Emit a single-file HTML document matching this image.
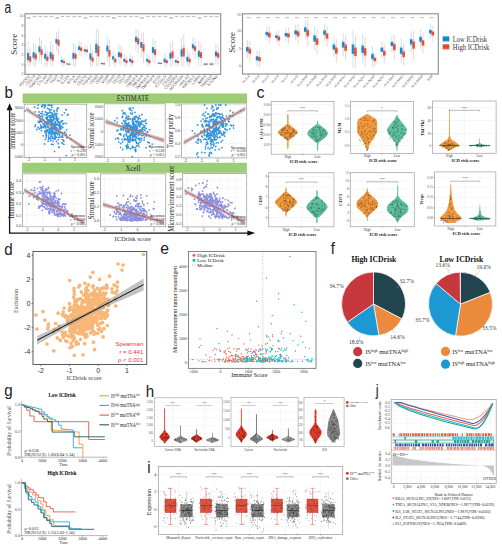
<!DOCTYPE html>
<html><head><meta charset="utf-8"><style>
html,body{margin:0;padding:0;background:#fff;width:502px;height:550px;overflow:hidden}
svg{display:block}
</style></head><body>
<svg width="502" height="550" viewBox="0 0 502 550" shape-rendering="auto">
<rect width="502" height="550" fill="#fff"/>
<text transform="translate(4.6 12.9) scale(0.75 1)" font-size="16" font-family="'Liberation Sans',sans-serif" fill="#222">a</text>
<text transform="translate(4.6 97.6) scale(0.95 1)" font-size="16" font-family="'Liberation Sans',sans-serif" fill="#222">b</text>
<text transform="translate(256.4 98) scale(1.0 1)" font-size="16" font-family="'Liberation Sans',sans-serif" fill="#222">c</text>
<text transform="translate(4.2 255) scale(0.95 1)" font-size="16" font-family="'Liberation Sans',sans-serif" fill="#222">d</text>
<text transform="translate(160.2 254.2) scale(0.98 1)" font-size="16" font-family="'Liberation Sans',sans-serif" fill="#222">e</text>
<text transform="translate(330.8 253.6) scale(0.95 1)" font-size="16" font-family="'Liberation Sans',sans-serif" fill="#222">f</text>
<text transform="translate(4.2 396) scale(0.95 1)" font-size="16" font-family="'Liberation Sans',sans-serif" fill="#222">g</text>
<text transform="translate(145.8 396.8) scale(0.95 1)" font-size="16" font-family="'Liberation Sans',sans-serif" fill="#222">h</text>
<text transform="translate(147.3 473) scale(0.95 1)" font-size="16" font-family="'Liberation Sans',sans-serif" fill="#222">i</text>
<text transform="translate(375.8 396) scale(0.8 1)" font-size="16" font-family="'Liberation Sans',sans-serif" fill="#222">j</text>
<rect x="25" y="13.8" width="195.7" height="60.5" fill="#fff" stroke="#8c8c8c" stroke-width="1.1"/>
<line x1="23.8" y1="16.1" x2="25" y2="16.1" stroke="#777" stroke-width="0.5"/>
<text x="23.2" y="17.1" font-size="3" font-family="'Liberation Sans',sans-serif" fill="#555" text-anchor="end">10</text>
<line x1="23.8" y1="25.8" x2="25" y2="25.8" stroke="#777" stroke-width="0.5"/>
<text x="23.2" y="26.8" font-size="3" font-family="'Liberation Sans',sans-serif" fill="#555" text-anchor="end">8</text>
<line x1="23.8" y1="35.5" x2="25" y2="35.5" stroke="#777" stroke-width="0.5"/>
<text x="23.2" y="36.5" font-size="3" font-family="'Liberation Sans',sans-serif" fill="#555" text-anchor="end">6</text>
<line x1="23.8" y1="45.2" x2="25" y2="45.2" stroke="#777" stroke-width="0.5"/>
<text x="23.2" y="46.2" font-size="3" font-family="'Liberation Sans',sans-serif" fill="#555" text-anchor="end">4</text>
<line x1="23.8" y1="54.9" x2="25" y2="54.9" stroke="#777" stroke-width="0.5"/>
<text x="23.2" y="55.9" font-size="3" font-family="'Liberation Sans',sans-serif" fill="#555" text-anchor="end">2</text>
<line x1="23.8" y1="64.6" x2="25" y2="64.6" stroke="#777" stroke-width="0.5"/>
<text x="23.2" y="65.6" font-size="3" font-family="'Liberation Sans',sans-serif" fill="#555" text-anchor="end">0</text>
<line x1="23.8" y1="74.3" x2="25" y2="74.3" stroke="#777" stroke-width="0.5"/>
<text x="23.2" y="75.3" font-size="3" font-family="'Liberation Sans',sans-serif" fill="#555" text-anchor="end">-2</text>
<line x1="28" y1="41.2" x2="28" y2="66.5" stroke="#9fd0f0" stroke-width="0.6"/>
<rect x="26.8" y="50.7" width="2.5" height="11.7" fill="#9fd0f0" stroke="none" stroke-width="1" opacity="0.18"/>
<line x1="30.1" y1="47.7" x2="30.1" y2="66.5" stroke="#f7b3a6" stroke-width="0.6"/>
<rect x="28.9" y="54.7" width="2.5" height="8.6" fill="#f7b3a6" stroke="none" stroke-width="1" opacity="0.18"/>
<rect x="27" y="52.9" width="2.1" height="7.3" fill="#1f8fd6" stroke="none" stroke-width="1"/>
<rect x="29.1" y="56.3" width="2.1" height="5.4" fill="#f0553c" stroke="none" stroke-width="1"/>
<line x1="27" y1="56.5" x2="29.1" y2="56.5" stroke="#0d5e99" stroke-width="0.4"/>
<line x1="29.1" y1="59" x2="31.2" y2="59" stroke="#a02a18" stroke-width="0.4"/>
<line x1="33.6" y1="42.9" x2="33.6" y2="66.5" stroke="#9fd0f0" stroke-width="0.6"/>
<rect x="32.4" y="50.5" width="2.5" height="9.3" fill="#9fd0f0" stroke="none" stroke-width="1" opacity="0.18"/>
<line x1="35.7" y1="44.4" x2="35.7" y2="66.5" stroke="#f7b3a6" stroke-width="0.6"/>
<rect x="34.5" y="52" width="2.5" height="9.3" fill="#f7b3a6" stroke="none" stroke-width="1" opacity="0.18"/>
<rect x="32.6" y="52.2" width="2.1" height="5.8" fill="#1f8fd6" stroke="none" stroke-width="1"/>
<rect x="34.7" y="53.7" width="2.1" height="5.8" fill="#f0553c" stroke="none" stroke-width="1"/>
<line x1="32.6" y1="55.1" x2="34.7" y2="55.1" stroke="#0d5e99" stroke-width="0.4"/>
<line x1="34.7" y1="56.6" x2="36.8" y2="56.6" stroke="#a02a18" stroke-width="0.4"/>
<line x1="39.5" y1="37.1" x2="39.5" y2="61.5" stroke="#9fd0f0" stroke-width="0.6"/>
<rect x="38.2" y="44.7" width="2.5" height="9.3" fill="#9fd0f0" stroke="none" stroke-width="1" opacity="0.18"/>
<line x1="41.5" y1="40" x2="41.5" y2="64.4" stroke="#f7b3a6" stroke-width="0.6"/>
<rect x="40.3" y="47.6" width="2.5" height="9.3" fill="#f7b3a6" stroke="none" stroke-width="1" opacity="0.18"/>
<rect x="38.4" y="46.4" width="2.1" height="5.8" fill="#1f8fd6" stroke="none" stroke-width="1"/>
<rect x="40.5" y="49.3" width="2.1" height="5.8" fill="#f0553c" stroke="none" stroke-width="1"/>
<line x1="38.4" y1="49.3" x2="40.5" y2="49.3" stroke="#0d5e99" stroke-width="0.4"/>
<line x1="40.5" y1="52.2" x2="42.6" y2="52.2" stroke="#a02a18" stroke-width="0.4"/>
<line x1="45.2" y1="45.5" x2="45.2" y2="66.5" stroke="#9fd0f0" stroke-width="0.6"/>
<rect x="44" y="52.2" width="2.5" height="8.2" fill="#9fd0f0" stroke="none" stroke-width="1" opacity="0.18"/>
<line x1="47.3" y1="49.6" x2="47.3" y2="66.5" stroke="#f7b3a6" stroke-width="0.6"/>
<rect x="46.1" y="55.3" width="2.5" height="7" fill="#f7b3a6" stroke="none" stroke-width="1" opacity="0.18"/>
<rect x="44.2" y="53.7" width="2.1" height="5.1" fill="#1f8fd6" stroke="none" stroke-width="1"/>
<rect x="46.3" y="56.6" width="2.1" height="4.4" fill="#f0553c" stroke="none" stroke-width="1"/>
<line x1="44.2" y1="56.2" x2="46.3" y2="56.2" stroke="#0d5e99" stroke-width="0.4"/>
<line x1="46.3" y1="58.8" x2="48.4" y2="58.8" stroke="#a02a18" stroke-width="0.4"/>
<line x1="50.6" y1="41.6" x2="50.6" y2="66.5" stroke="#9fd0f0" stroke-width="0.6"/>
<rect x="49.4" y="50.2" width="2.5" height="10.6" fill="#9fd0f0" stroke="none" stroke-width="1" opacity="0.18"/>
<line x1="52.7" y1="44.5" x2="52.7" y2="66.5" stroke="#f7b3a6" stroke-width="0.6"/>
<rect x="51.5" y="52.5" width="2.5" height="9.9" fill="#f7b3a6" stroke="none" stroke-width="1" opacity="0.18"/>
<rect x="49.6" y="52.2" width="2.1" height="6.6" fill="#1f8fd6" stroke="none" stroke-width="1"/>
<rect x="51.7" y="54.4" width="2.1" height="6.2" fill="#f0553c" stroke="none" stroke-width="1"/>
<line x1="49.6" y1="55.5" x2="51.7" y2="55.5" stroke="#0d5e99" stroke-width="0.4"/>
<line x1="51.7" y1="57.5" x2="53.8" y2="57.5" stroke="#a02a18" stroke-width="0.4"/>
<line x1="56.5" y1="32.1" x2="56.5" y2="50.5" stroke="#9fd0f0" stroke-width="0.6"/>
<rect x="55.2" y="37.8" width="2.5" height="7" fill="#9fd0f0" stroke="none" stroke-width="1" opacity="0.18"/>
<line x1="58.5" y1="30.4" x2="58.5" y2="55.1" stroke="#f7b3a6" stroke-width="0.6"/>
<rect x="57.3" y="38" width="2.5" height="9.4" fill="#f7b3a6" stroke="none" stroke-width="1" opacity="0.18"/>
<rect x="55.4" y="39.1" width="2.1" height="4.4" fill="#1f8fd6" stroke="none" stroke-width="1"/>
<rect x="57.5" y="39.8" width="2.1" height="5.9" fill="#f0553c" stroke="none" stroke-width="1"/>
<line x1="55.4" y1="41.3" x2="57.5" y2="41.3" stroke="#0d5e99" stroke-width="0.4"/>
<line x1="57.5" y1="42.8" x2="59.6" y2="42.8" stroke="#a02a18" stroke-width="0.4"/>
<line x1="61.9" y1="55.6" x2="61.9" y2="66.5" stroke="#9fd0f0" stroke-width="0.6"/>
<rect x="60.6" y="59" width="2.5" height="4.2" fill="#9fd0f0" stroke="none" stroke-width="1" opacity="0.18"/>
<line x1="63.9" y1="57.6" x2="63.9" y2="66.5" stroke="#f7b3a6" stroke-width="0.6"/>
<rect x="62.7" y="60.4" width="2.5" height="3.4" fill="#f7b3a6" stroke="none" stroke-width="1" opacity="0.18"/>
<rect x="60.8" y="59.8" width="2.1" height="2.6" fill="#1f8fd6" stroke="none" stroke-width="1"/>
<rect x="62.9" y="61" width="2.1" height="2.1" fill="#f0553c" stroke="none" stroke-width="1"/>
<line x1="60.8" y1="61.1" x2="62.9" y2="61.1" stroke="#0d5e99" stroke-width="0.4"/>
<line x1="62.9" y1="62" x2="65" y2="62" stroke="#a02a18" stroke-width="0.4"/>
<line x1="67.4" y1="62.3" x2="67.4" y2="65.7" stroke="#9fd0f0" stroke-width="0.6"/>
<rect x="66.1" y="63.4" width="2.5" height="1.3" fill="#9fd0f0" stroke="none" stroke-width="1" opacity="0.18"/>
<line x1="69.5" y1="62.5" x2="69.5" y2="65.9" stroke="#f7b3a6" stroke-width="0.6"/>
<rect x="68.2" y="63.6" width="2.5" height="1.3" fill="#f7b3a6" stroke="none" stroke-width="1" opacity="0.18"/>
<rect x="66.3" y="63.6" width="2.1" height="0.8" fill="#1f8fd6" stroke="none" stroke-width="1"/>
<rect x="68.4" y="63.8" width="2.1" height="0.8" fill="#f0553c" stroke="none" stroke-width="1"/>
<line x1="66.3" y1="64" x2="68.4" y2="64" stroke="#0d5e99" stroke-width="0.4"/>
<line x1="68.4" y1="64.2" x2="70.5" y2="64.2" stroke="#a02a18" stroke-width="0.4"/>
<line x1="73.5" y1="43.5" x2="73.5" y2="66.5" stroke="#9fd0f0" stroke-width="0.6"/>
<rect x="72.2" y="51.1" width="2.5" height="9.4" fill="#9fd0f0" stroke="none" stroke-width="1" opacity="0.18"/>
<line x1="75.5" y1="45.5" x2="75.5" y2="66.5" stroke="#f7b3a6" stroke-width="0.6"/>
<rect x="74.3" y="52.2" width="2.5" height="8.2" fill="#f7b3a6" stroke="none" stroke-width="1" opacity="0.18"/>
<rect x="72.4" y="52.9" width="2.1" height="5.9" fill="#1f8fd6" stroke="none" stroke-width="1"/>
<rect x="74.5" y="53.7" width="2.1" height="5.1" fill="#f0553c" stroke="none" stroke-width="1"/>
<line x1="72.4" y1="55.8" x2="74.5" y2="55.8" stroke="#0d5e99" stroke-width="0.4"/>
<line x1="74.5" y1="56.2" x2="76.6" y2="56.2" stroke="#a02a18" stroke-width="0.4"/>
<line x1="79.1" y1="40.6" x2="79.1" y2="55.8" stroke="#9fd0f0" stroke-width="0.6"/>
<rect x="77.8" y="45.3" width="2.5" height="5.8" fill="#9fd0f0" stroke="none" stroke-width="1" opacity="0.18"/>
<line x1="81.2" y1="41.9" x2="81.2" y2="56.6" stroke="#f7b3a6" stroke-width="0.6"/>
<rect x="79.9" y="46.5" width="2.5" height="5.6" fill="#f7b3a6" stroke="none" stroke-width="1" opacity="0.18"/>
<rect x="78" y="46.4" width="2.1" height="3.6" fill="#1f8fd6" stroke="none" stroke-width="1"/>
<rect x="80.1" y="47.5" width="2.1" height="3.5" fill="#f0553c" stroke="none" stroke-width="1"/>
<line x1="78" y1="48.2" x2="80.1" y2="48.2" stroke="#0d5e99" stroke-width="0.4"/>
<line x1="80.1" y1="49.2" x2="82.2" y2="49.2" stroke="#a02a18" stroke-width="0.4"/>
<line x1="84.9" y1="45.8" x2="84.9" y2="55" stroke="#9fd0f0" stroke-width="0.6"/>
<rect x="83.6" y="48.6" width="2.5" height="3.5" fill="#9fd0f0" stroke="none" stroke-width="1" opacity="0.18"/>
<line x1="87" y1="45.4" x2="87" y2="56.4" stroke="#f7b3a6" stroke-width="0.6"/>
<rect x="85.7" y="48.8" width="2.5" height="4.2" fill="#f7b3a6" stroke="none" stroke-width="1" opacity="0.18"/>
<rect x="83.8" y="49.3" width="2.1" height="2.2" fill="#1f8fd6" stroke="none" stroke-width="1"/>
<rect x="85.9" y="49.6" width="2.1" height="2.6" fill="#f0553c" stroke="none" stroke-width="1"/>
<line x1="83.8" y1="50.4" x2="85.9" y2="50.4" stroke="#0d5e99" stroke-width="0.4"/>
<line x1="85.9" y1="50.9" x2="88" y2="50.9" stroke="#a02a18" stroke-width="0.4"/>
<line x1="90.5" y1="43.6" x2="90.5" y2="66.5" stroke="#9fd0f0" stroke-width="0.6"/>
<rect x="89.2" y="51.6" width="2.5" height="9.8" fill="#9fd0f0" stroke="none" stroke-width="1" opacity="0.18"/>
<line x1="92.5" y1="50.3" x2="92.5" y2="66.5" stroke="#f7b3a6" stroke-width="0.6"/>
<rect x="91.3" y="56" width="2.5" height="7" fill="#f7b3a6" stroke="none" stroke-width="1" opacity="0.18"/>
<rect x="89.4" y="53.4" width="2.1" height="6.1" fill="#1f8fd6" stroke="none" stroke-width="1"/>
<rect x="91.5" y="57.3" width="2.1" height="4.4" fill="#f0553c" stroke="none" stroke-width="1"/>
<line x1="89.4" y1="56.5" x2="91.5" y2="56.5" stroke="#0d5e99" stroke-width="0.4"/>
<line x1="91.5" y1="59.5" x2="93.6" y2="59.5" stroke="#a02a18" stroke-width="0.4"/>
<line x1="96.3" y1="29.2" x2="96.3" y2="66.5" stroke="#9fd0f0" stroke-width="0.6"/>
<rect x="95" y="41.1" width="2.5" height="14.6" fill="#9fd0f0" stroke="none" stroke-width="1" opacity="0.18"/>
<line x1="98.4" y1="28.7" x2="98.4" y2="66.5" stroke="#f7b3a6" stroke-width="0.6"/>
<rect x="97.1" y="42.5" width="2.5" height="17" fill="#f7b3a6" stroke="none" stroke-width="1" opacity="0.18"/>
<rect x="95.2" y="43.8" width="2.1" height="9.1" fill="#1f8fd6" stroke="none" stroke-width="1"/>
<rect x="97.3" y="45.7" width="2.1" height="10.6" fill="#f0553c" stroke="none" stroke-width="1"/>
<line x1="95.2" y1="48.3" x2="97.3" y2="48.3" stroke="#0d5e99" stroke-width="0.4"/>
<line x1="97.3" y1="51" x2="99.4" y2="51" stroke="#a02a18" stroke-width="0.4"/>
<line x1="101.9" y1="61.9" x2="101.9" y2="65.3" stroke="#9fd0f0" stroke-width="0.6"/>
<rect x="100.6" y="63" width="2.5" height="1.3" fill="#9fd0f0" stroke="none" stroke-width="1" opacity="0.18"/>
<line x1="104" y1="62.1" x2="104" y2="65.5" stroke="#f7b3a6" stroke-width="0.6"/>
<rect x="102.7" y="63.2" width="2.5" height="1.3" fill="#f7b3a6" stroke="none" stroke-width="1" opacity="0.18"/>
<rect x="100.8" y="63.2" width="2.1" height="0.8" fill="#1f8fd6" stroke="none" stroke-width="1"/>
<rect x="102.9" y="63.4" width="2.1" height="0.8" fill="#f0553c" stroke="none" stroke-width="1"/>
<line x1="100.8" y1="63.6" x2="102.9" y2="63.6" stroke="#0d5e99" stroke-width="0.4"/>
<line x1="102.9" y1="63.8" x2="105" y2="63.8" stroke="#a02a18" stroke-width="0.4"/>
<line x1="107.4" y1="36.4" x2="107.4" y2="60.8" stroke="#9fd0f0" stroke-width="0.6"/>
<rect x="106.1" y="44" width="2.5" height="9.3" fill="#9fd0f0" stroke="none" stroke-width="1" opacity="0.18"/>
<line x1="109.5" y1="39.4" x2="109.5" y2="66.5" stroke="#f7b3a6" stroke-width="0.6"/>
<rect x="108.2" y="48" width="2.5" height="10.6" fill="#f7b3a6" stroke="none" stroke-width="1" opacity="0.18"/>
<rect x="106.3" y="45.7" width="2.1" height="5.8" fill="#1f8fd6" stroke="none" stroke-width="1"/>
<rect x="108.4" y="50" width="2.1" height="6.6" fill="#f0553c" stroke="none" stroke-width="1"/>
<line x1="106.3" y1="48.6" x2="108.4" y2="48.6" stroke="#0d5e99" stroke-width="0.4"/>
<line x1="108.4" y1="53.3" x2="110.5" y2="53.3" stroke="#a02a18" stroke-width="0.4"/>
<line x1="113.2" y1="51.2" x2="113.2" y2="64.6" stroke="#9fd0f0" stroke-width="0.6"/>
<rect x="111.9" y="55.3" width="2.5" height="5.1" fill="#9fd0f0" stroke="none" stroke-width="1" opacity="0.18"/>
<line x1="115.2" y1="53" x2="115.2" y2="66.5" stroke="#f7b3a6" stroke-width="0.6"/>
<rect x="114" y="57.7" width="2.5" height="5.8" fill="#f7b3a6" stroke="none" stroke-width="1" opacity="0.18"/>
<rect x="112.1" y="56.3" width="2.1" height="3.2" fill="#1f8fd6" stroke="none" stroke-width="1"/>
<rect x="114.2" y="58.8" width="2.1" height="3.6" fill="#f0553c" stroke="none" stroke-width="1"/>
<line x1="112.1" y1="57.9" x2="114.2" y2="57.9" stroke="#0d5e99" stroke-width="0.4"/>
<line x1="114.2" y1="60.6" x2="116.3" y2="60.6" stroke="#a02a18" stroke-width="0.4"/>
<line x1="119" y1="44.7" x2="119" y2="64.4" stroke="#9fd0f0" stroke-width="0.6"/>
<rect x="117.7" y="50.8" width="2.5" height="7.5" fill="#9fd0f0" stroke="none" stroke-width="1" opacity="0.18"/>
<line x1="121" y1="45.2" x2="121" y2="65.4" stroke="#f7b3a6" stroke-width="0.6"/>
<rect x="119.8" y="51.5" width="2.5" height="7.7" fill="#f7b3a6" stroke="none" stroke-width="1" opacity="0.18"/>
<rect x="117.9" y="52.2" width="2.1" height="4.7" fill="#1f8fd6" stroke="none" stroke-width="1"/>
<rect x="120" y="52.9" width="2.1" height="4.8" fill="#f0553c" stroke="none" stroke-width="1"/>
<line x1="117.9" y1="54.5" x2="120" y2="54.5" stroke="#0d5e99" stroke-width="0.4"/>
<line x1="120" y1="55.3" x2="122.1" y2="55.3" stroke="#a02a18" stroke-width="0.4"/>
<line x1="124.4" y1="54.2" x2="124.4" y2="66.3" stroke="#9fd0f0" stroke-width="0.6"/>
<rect x="123.1" y="57.9" width="2.5" height="4.6" fill="#9fd0f0" stroke="none" stroke-width="1" opacity="0.18"/>
<line x1="126.5" y1="55.6" x2="126.5" y2="66.5" stroke="#f7b3a6" stroke-width="0.6"/>
<rect x="125.2" y="59.3" width="2.5" height="4.6" fill="#f7b3a6" stroke="none" stroke-width="1" opacity="0.18"/>
<rect x="123.3" y="58.8" width="2.1" height="2.9" fill="#1f8fd6" stroke="none" stroke-width="1"/>
<rect x="125.4" y="60.2" width="2.1" height="2.9" fill="#f0553c" stroke="none" stroke-width="1"/>
<line x1="123.3" y1="60.2" x2="125.4" y2="60.2" stroke="#0d5e99" stroke-width="0.4"/>
<line x1="125.4" y1="61.7" x2="127.5" y2="61.7" stroke="#a02a18" stroke-width="0.4"/>
<line x1="130.2" y1="54.2" x2="130.2" y2="66.3" stroke="#9fd0f0" stroke-width="0.6"/>
<rect x="128.9" y="57.9" width="2.5" height="4.6" fill="#9fd0f0" stroke="none" stroke-width="1" opacity="0.18"/>
<line x1="132.3" y1="55.6" x2="132.3" y2="66.5" stroke="#f7b3a6" stroke-width="0.6"/>
<rect x="131" y="59.3" width="2.5" height="4.6" fill="#f7b3a6" stroke="none" stroke-width="1" opacity="0.18"/>
<rect x="129.1" y="58.8" width="2.1" height="2.9" fill="#1f8fd6" stroke="none" stroke-width="1"/>
<rect x="131.2" y="60.2" width="2.1" height="2.9" fill="#f0553c" stroke="none" stroke-width="1"/>
<line x1="129.1" y1="60.2" x2="131.2" y2="60.2" stroke="#0d5e99" stroke-width="0.4"/>
<line x1="131.2" y1="61.7" x2="133.3" y2="61.7" stroke="#a02a18" stroke-width="0.4"/>
<line x1="136" y1="28.7" x2="136" y2="50.2" stroke="#9fd0f0" stroke-width="0.6"/>
<rect x="134.8" y="35.4" width="2.5" height="8.2" fill="#9fd0f0" stroke="none" stroke-width="1" opacity="0.18"/>
<line x1="138.2" y1="29.1" x2="138.2" y2="53.5" stroke="#f7b3a6" stroke-width="0.6"/>
<rect x="136.9" y="36.7" width="2.5" height="9.3" fill="#f7b3a6" stroke="none" stroke-width="1" opacity="0.18"/>
<rect x="135" y="36.9" width="2.1" height="5.1" fill="#1f8fd6" stroke="none" stroke-width="1"/>
<rect x="137.1" y="38.4" width="2.1" height="5.8" fill="#f0553c" stroke="none" stroke-width="1"/>
<line x1="135" y1="39.5" x2="137.1" y2="39.5" stroke="#0d5e99" stroke-width="0.4"/>
<line x1="137.1" y1="41.3" x2="139.2" y2="41.3" stroke="#a02a18" stroke-width="0.4"/>
<line x1="141.3" y1="32.7" x2="141.3" y2="57.1" stroke="#9fd0f0" stroke-width="0.6"/>
<rect x="140.1" y="40.3" width="2.5" height="9.3" fill="#9fd0f0" stroke="none" stroke-width="1" opacity="0.18"/>
<line x1="143.5" y1="32.5" x2="143.5" y2="63.2" stroke="#f7b3a6" stroke-width="0.6"/>
<rect x="142.2" y="42" width="2.5" height="11.7" fill="#f7b3a6" stroke="none" stroke-width="1" opacity="0.18"/>
<rect x="140.3" y="42" width="2.1" height="5.8" fill="#1f8fd6" stroke="none" stroke-width="1"/>
<rect x="142.4" y="44.2" width="2.1" height="7.3" fill="#f0553c" stroke="none" stroke-width="1"/>
<line x1="140.3" y1="44.9" x2="142.4" y2="44.9" stroke="#0d5e99" stroke-width="0.4"/>
<line x1="142.4" y1="47.9" x2="144.5" y2="47.9" stroke="#a02a18" stroke-width="0.4"/>
<line x1="147.2" y1="54.2" x2="147.2" y2="66.3" stroke="#9fd0f0" stroke-width="0.6"/>
<rect x="146" y="57.9" width="2.5" height="4.6" fill="#9fd0f0" stroke="none" stroke-width="1" opacity="0.18"/>
<line x1="149.4" y1="55.6" x2="149.4" y2="66.5" stroke="#f7b3a6" stroke-width="0.6"/>
<rect x="148.1" y="59.3" width="2.5" height="4.6" fill="#f7b3a6" stroke="none" stroke-width="1" opacity="0.18"/>
<rect x="146.2" y="58.8" width="2.1" height="2.9" fill="#1f8fd6" stroke="none" stroke-width="1"/>
<rect x="148.3" y="60.2" width="2.1" height="2.9" fill="#f0553c" stroke="none" stroke-width="1"/>
<line x1="146.2" y1="60.2" x2="148.3" y2="60.2" stroke="#0d5e99" stroke-width="0.4"/>
<line x1="148.3" y1="61.7" x2="150.4" y2="61.7" stroke="#a02a18" stroke-width="0.4"/>
<line x1="152.9" y1="37.8" x2="152.9" y2="62.2" stroke="#9fd0f0" stroke-width="0.6"/>
<rect x="151.7" y="45.4" width="2.5" height="9.3" fill="#9fd0f0" stroke="none" stroke-width="1" opacity="0.18"/>
<line x1="155.1" y1="40" x2="155.1" y2="64.4" stroke="#f7b3a6" stroke-width="0.6"/>
<rect x="153.8" y="47.6" width="2.5" height="9.3" fill="#f7b3a6" stroke="none" stroke-width="1" opacity="0.18"/>
<rect x="151.9" y="47.1" width="2.1" height="5.8" fill="#1f8fd6" stroke="none" stroke-width="1"/>
<rect x="154" y="49.3" width="2.1" height="5.8" fill="#f0553c" stroke="none" stroke-width="1"/>
<line x1="151.9" y1="50" x2="154" y2="50" stroke="#0d5e99" stroke-width="0.4"/>
<line x1="154" y1="52.2" x2="156.1" y2="52.2" stroke="#a02a18" stroke-width="0.4"/>
<line x1="158.8" y1="61.5" x2="158.8" y2="64.9" stroke="#9fd0f0" stroke-width="0.6"/>
<rect x="157.6" y="62.6" width="2.5" height="1.3" fill="#9fd0f0" stroke="none" stroke-width="1" opacity="0.18"/>
<line x1="161" y1="61.7" x2="161" y2="65.1" stroke="#f7b3a6" stroke-width="0.6"/>
<rect x="159.7" y="62.8" width="2.5" height="1.3" fill="#f7b3a6" stroke="none" stroke-width="1" opacity="0.18"/>
<rect x="157.8" y="62.8" width="2.1" height="0.8" fill="#1f8fd6" stroke="none" stroke-width="1"/>
<rect x="159.9" y="63" width="2.1" height="0.8" fill="#f0553c" stroke="none" stroke-width="1"/>
<line x1="157.8" y1="63.2" x2="159.9" y2="63.2" stroke="#0d5e99" stroke-width="0.4"/>
<line x1="159.9" y1="63.4" x2="162" y2="63.4" stroke="#a02a18" stroke-width="0.4"/>
<line x1="164.7" y1="52.8" x2="164.7" y2="66.5" stroke="#9fd0f0" stroke-width="0.6"/>
<rect x="163.4" y="57.6" width="2.5" height="5.9" fill="#9fd0f0" stroke="none" stroke-width="1" opacity="0.18"/>
<line x1="166.8" y1="55.6" x2="166.8" y2="66.5" stroke="#f7b3a6" stroke-width="0.6"/>
<rect x="165.5" y="59.3" width="2.5" height="4.6" fill="#f7b3a6" stroke="none" stroke-width="1" opacity="0.18"/>
<rect x="163.6" y="58.7" width="2.1" height="3.7" fill="#1f8fd6" stroke="none" stroke-width="1"/>
<rect x="165.7" y="60.2" width="2.1" height="2.9" fill="#f0553c" stroke="none" stroke-width="1"/>
<line x1="163.6" y1="60.5" x2="165.7" y2="60.5" stroke="#0d5e99" stroke-width="0.4"/>
<line x1="165.7" y1="61.7" x2="167.8" y2="61.7" stroke="#a02a18" stroke-width="0.4"/>
<line x1="170.4" y1="43.6" x2="170.4" y2="66.5" stroke="#9fd0f0" stroke-width="0.6"/>
<rect x="169.2" y="51.2" width="2.5" height="9.3" fill="#9fd0f0" stroke="none" stroke-width="1" opacity="0.18"/>
<line x1="172.6" y1="41.1" x2="172.6" y2="66.5" stroke="#f7b3a6" stroke-width="0.6"/>
<rect x="171.3" y="49.5" width="2.5" height="10.4" fill="#f7b3a6" stroke="none" stroke-width="1" opacity="0.18"/>
<rect x="169.4" y="52.9" width="2.1" height="5.8" fill="#1f8fd6" stroke="none" stroke-width="1"/>
<rect x="171.5" y="51.5" width="2.1" height="6.5" fill="#f0553c" stroke="none" stroke-width="1"/>
<line x1="169.4" y1="55.8" x2="171.5" y2="55.8" stroke="#0d5e99" stroke-width="0.4"/>
<line x1="171.5" y1="54.8" x2="173.6" y2="54.8" stroke="#a02a18" stroke-width="0.4"/>
<line x1="175.8" y1="56.7" x2="175.8" y2="65.9" stroke="#9fd0f0" stroke-width="0.6"/>
<rect x="174.6" y="59.5" width="2.5" height="3.5" fill="#9fd0f0" stroke="none" stroke-width="1" opacity="0.18"/>
<line x1="178" y1="57.4" x2="178" y2="66.5" stroke="#f7b3a6" stroke-width="0.6"/>
<rect x="176.7" y="60.2" width="2.5" height="3.5" fill="#f7b3a6" stroke="none" stroke-width="1" opacity="0.18"/>
<rect x="174.8" y="60.2" width="2.1" height="2.2" fill="#1f8fd6" stroke="none" stroke-width="1"/>
<rect x="176.9" y="60.9" width="2.1" height="2.2" fill="#f0553c" stroke="none" stroke-width="1"/>
<line x1="174.8" y1="61.3" x2="176.9" y2="61.3" stroke="#0d5e99" stroke-width="0.4"/>
<line x1="176.9" y1="62" x2="179" y2="62" stroke="#a02a18" stroke-width="0.4"/>
<line x1="181.7" y1="37.8" x2="181.7" y2="66.5" stroke="#9fd0f0" stroke-width="0.6"/>
<rect x="180.4" y="47.1" width="2.5" height="11.5" fill="#9fd0f0" stroke="none" stroke-width="1" opacity="0.18"/>
<line x1="183.8" y1="33.9" x2="183.8" y2="66.5" stroke="#f7b3a6" stroke-width="0.6"/>
<rect x="182.5" y="45.2" width="2.5" height="13.9" fill="#f7b3a6" stroke="none" stroke-width="1" opacity="0.18"/>
<rect x="180.6" y="49.3" width="2.1" height="7.2" fill="#1f8fd6" stroke="none" stroke-width="1"/>
<rect x="182.7" y="47.8" width="2.1" height="8.7" fill="#f0553c" stroke="none" stroke-width="1"/>
<line x1="180.6" y1="52.9" x2="182.7" y2="52.9" stroke="#0d5e99" stroke-width="0.4"/>
<line x1="182.7" y1="52.1" x2="184.8" y2="52.1" stroke="#a02a18" stroke-width="0.4"/>
<line x1="187.4" y1="49.1" x2="187.4" y2="66.5" stroke="#9fd0f0" stroke-width="0.6"/>
<rect x="186.2" y="55.4" width="2.5" height="7.7" fill="#9fd0f0" stroke="none" stroke-width="1" opacity="0.18"/>
<line x1="189.6" y1="52.8" x2="189.6" y2="66.5" stroke="#f7b3a6" stroke-width="0.6"/>
<rect x="188.3" y="57.6" width="2.5" height="5.9" fill="#f7b3a6" stroke="none" stroke-width="1" opacity="0.18"/>
<rect x="186.4" y="56.8" width="2.1" height="4.8" fill="#1f8fd6" stroke="none" stroke-width="1"/>
<rect x="188.5" y="58.7" width="2.1" height="3.7" fill="#f0553c" stroke="none" stroke-width="1"/>
<line x1="186.4" y1="59.2" x2="188.5" y2="59.2" stroke="#0d5e99" stroke-width="0.4"/>
<line x1="188.5" y1="60.5" x2="190.6" y2="60.5" stroke="#a02a18" stroke-width="0.4"/>
<line x1="192.9" y1="37.3" x2="192.9" y2="55.4" stroke="#9fd0f0" stroke-width="0.6"/>
<rect x="191.7" y="42.9" width="2.5" height="6.9" fill="#9fd0f0" stroke="none" stroke-width="1" opacity="0.18"/>
<line x1="195.1" y1="38.3" x2="195.1" y2="58.8" stroke="#f7b3a6" stroke-width="0.6"/>
<rect x="193.8" y="44.6" width="2.5" height="7.8" fill="#f7b3a6" stroke="none" stroke-width="1" opacity="0.18"/>
<rect x="191.9" y="44.2" width="2.1" height="4.3" fill="#1f8fd6" stroke="none" stroke-width="1"/>
<rect x="194" y="46.1" width="2.1" height="4.9" fill="#f0553c" stroke="none" stroke-width="1"/>
<line x1="191.9" y1="46.4" x2="194" y2="46.4" stroke="#0d5e99" stroke-width="0.4"/>
<line x1="194" y1="48.5" x2="196.1" y2="48.5" stroke="#a02a18" stroke-width="0.4"/>
<line x1="198.8" y1="40.9" x2="198.8" y2="66.5" stroke="#9fd0f0" stroke-width="0.6"/>
<rect x="197.6" y="48.9" width="2.5" height="9.8" fill="#9fd0f0" stroke="none" stroke-width="1" opacity="0.18"/>
<line x1="201" y1="42.9" x2="201" y2="66.5" stroke="#f7b3a6" stroke-width="0.6"/>
<rect x="199.7" y="50.5" width="2.5" height="9.3" fill="#f7b3a6" stroke="none" stroke-width="1" opacity="0.18"/>
<rect x="197.8" y="50.7" width="2.1" height="6.1" fill="#1f8fd6" stroke="none" stroke-width="1"/>
<rect x="199.9" y="52.2" width="2.1" height="5.8" fill="#f0553c" stroke="none" stroke-width="1"/>
<line x1="197.8" y1="53.8" x2="199.9" y2="53.8" stroke="#0d5e99" stroke-width="0.4"/>
<line x1="199.9" y1="55.1" x2="202" y2="55.1" stroke="#a02a18" stroke-width="0.4"/>
<line x1="204.7" y1="62.4" x2="204.7" y2="65.8" stroke="#9fd0f0" stroke-width="0.6"/>
<rect x="203.4" y="63.5" width="2.5" height="1.3" fill="#9fd0f0" stroke="none" stroke-width="1" opacity="0.18"/>
<line x1="206.8" y1="62.4" x2="206.8" y2="65.8" stroke="#f7b3a6" stroke-width="0.6"/>
<rect x="205.5" y="63.5" width="2.5" height="1.3" fill="#f7b3a6" stroke="none" stroke-width="1" opacity="0.18"/>
<rect x="203.6" y="63.7" width="2.1" height="0.8" fill="#1f8fd6" stroke="none" stroke-width="1"/>
<rect x="205.7" y="63.7" width="2.1" height="0.8" fill="#f0553c" stroke="none" stroke-width="1"/>
<line x1="203.6" y1="64.1" x2="205.7" y2="64.1" stroke="#0d5e99" stroke-width="0.4"/>
<line x1="205.7" y1="64.1" x2="207.8" y2="64.1" stroke="#a02a18" stroke-width="0.4"/>
<line x1="210.4" y1="62.4" x2="210.4" y2="65.8" stroke="#9fd0f0" stroke-width="0.6"/>
<rect x="209.2" y="63.5" width="2.5" height="1.3" fill="#9fd0f0" stroke="none" stroke-width="1" opacity="0.18"/>
<line x1="212.6" y1="62.4" x2="212.6" y2="65.8" stroke="#f7b3a6" stroke-width="0.6"/>
<rect x="211.3" y="63.5" width="2.5" height="1.3" fill="#f7b3a6" stroke="none" stroke-width="1" opacity="0.18"/>
<rect x="209.4" y="63.7" width="2.1" height="0.8" fill="#1f8fd6" stroke="none" stroke-width="1"/>
<rect x="211.5" y="63.7" width="2.1" height="0.8" fill="#f0553c" stroke="none" stroke-width="1"/>
<line x1="209.4" y1="64.1" x2="211.5" y2="64.1" stroke="#0d5e99" stroke-width="0.4"/>
<line x1="211.5" y1="64.1" x2="213.6" y2="64.1" stroke="#a02a18" stroke-width="0.4"/>
<line x1="215.9" y1="43.8" x2="215.9" y2="64" stroke="#9fd0f0" stroke-width="0.6"/>
<rect x="214.7" y="50.1" width="2.5" height="7.7" fill="#9fd0f0" stroke="none" stroke-width="1" opacity="0.18"/>
<line x1="218.1" y1="45.2" x2="218.1" y2="65.4" stroke="#f7b3a6" stroke-width="0.6"/>
<rect x="216.8" y="51.5" width="2.5" height="7.7" fill="#f7b3a6" stroke="none" stroke-width="1" opacity="0.18"/>
<rect x="214.9" y="51.5" width="2.1" height="4.8" fill="#1f8fd6" stroke="none" stroke-width="1"/>
<rect x="217" y="52.9" width="2.1" height="4.8" fill="#f0553c" stroke="none" stroke-width="1"/>
<line x1="214.9" y1="53.9" x2="217" y2="53.9" stroke="#0d5e99" stroke-width="0.4"/>
<line x1="217" y1="55.3" x2="219.1" y2="55.3" stroke="#a02a18" stroke-width="0.4"/>
<text x="28.7" y="19.2" font-size="3.2" font-family="'Liberation Sans',sans-serif" fill="#666" text-anchor="middle">ns</text>
<line x1="28.7" y1="74.3" x2="28.7" y2="75.5" stroke="#777" stroke-width="0.5"/>
<text x="30" y="76.7" font-size="4" font-family="'Liberation Sans',sans-serif" fill="#555" text-anchor="end" transform="rotate(-48 30 76.7)">PDCD1</text>
<text x="34.3" y="19.2" font-size="3.2" font-family="'Liberation Sans',sans-serif" fill="#666" text-anchor="middle">***</text>
<line x1="34.3" y1="74.3" x2="34.3" y2="75.5" stroke="#777" stroke-width="0.5"/>
<text x="35.6" y="76.7" font-size="4" font-family="'Liberation Sans',sans-serif" fill="#555" text-anchor="end" transform="rotate(-48 35.6 76.7)">CD274</text>
<text x="40.1" y="19.2" font-size="3.2" font-family="'Liberation Sans',sans-serif" fill="#666" text-anchor="middle">***</text>
<line x1="40.1" y1="74.3" x2="40.1" y2="75.5" stroke="#777" stroke-width="0.5"/>
<text x="41.4" y="76.7" font-size="4" font-family="'Liberation Sans',sans-serif" fill="#555" text-anchor="end" transform="rotate(-48 41.4 76.7)">HAVCR2</text>
<text x="45.9" y="19.2" font-size="3.2" font-family="'Liberation Sans',sans-serif" fill="#666" text-anchor="middle">***</text>
<line x1="45.9" y1="74.3" x2="45.9" y2="75.5" stroke="#777" stroke-width="0.5"/>
<text x="47.2" y="76.7" font-size="4" font-family="'Liberation Sans',sans-serif" fill="#555" text-anchor="end" transform="rotate(-48 47.2 76.7)">CTLA4</text>
<text x="51.3" y="19.2" font-size="3.2" font-family="'Liberation Sans',sans-serif" fill="#666" text-anchor="middle">***</text>
<line x1="51.3" y1="74.3" x2="51.3" y2="75.5" stroke="#777" stroke-width="0.5"/>
<text x="52.6" y="76.7" font-size="4" font-family="'Liberation Sans',sans-serif" fill="#555" text-anchor="end" transform="rotate(-48 52.6 76.7)">LAG3</text>
<text x="57.1" y="19.2" font-size="3.2" font-family="'Liberation Sans',sans-serif" fill="#666" text-anchor="middle">ns</text>
<line x1="57.1" y1="74.3" x2="57.1" y2="75.5" stroke="#777" stroke-width="0.5"/>
<text x="58.4" y="76.7" font-size="4" font-family="'Liberation Sans',sans-serif" fill="#555" text-anchor="end" transform="rotate(-48 58.4 76.7)">TIGIT</text>
<text x="62.5" y="19.2" font-size="3.2" font-family="'Liberation Sans',sans-serif" fill="#666" text-anchor="middle">***</text>
<line x1="62.5" y1="74.3" x2="62.5" y2="75.5" stroke="#777" stroke-width="0.5"/>
<text x="63.8" y="76.7" font-size="4" font-family="'Liberation Sans',sans-serif" fill="#555" text-anchor="end" transform="rotate(-48 63.8 76.7)">IL10</text>
<text x="68" y="19.2" font-size="3.2" font-family="'Liberation Sans',sans-serif" fill="#666" text-anchor="middle">***</text>
<line x1="68" y1="74.3" x2="68" y2="75.5" stroke="#777" stroke-width="0.5"/>
<text x="69.3" y="76.7" font-size="4" font-family="'Liberation Sans',sans-serif" fill="#555" text-anchor="end" transform="rotate(-48 69.3 76.7)">IL12A</text>
<text x="74.1" y="19.2" font-size="3.2" font-family="'Liberation Sans',sans-serif" fill="#666" text-anchor="middle">***</text>
<line x1="74.1" y1="74.3" x2="74.1" y2="75.5" stroke="#777" stroke-width="0.5"/>
<text x="75.4" y="76.7" font-size="4" font-family="'Liberation Sans',sans-serif" fill="#555" text-anchor="end" transform="rotate(-48 75.4 76.7)">BTLA</text>
<text x="79.7" y="19.2" font-size="3.2" font-family="'Liberation Sans',sans-serif" fill="#666" text-anchor="middle">***</text>
<line x1="79.7" y1="74.3" x2="79.7" y2="75.5" stroke="#777" stroke-width="0.5"/>
<text x="81" y="76.7" font-size="4" font-family="'Liberation Sans',sans-serif" fill="#555" text-anchor="end" transform="rotate(-48 81 76.7)">IDO1</text>
<text x="85.5" y="19.2" font-size="3.2" font-family="'Liberation Sans',sans-serif" fill="#666" text-anchor="middle">ns</text>
<line x1="85.5" y1="74.3" x2="85.5" y2="75.5" stroke="#777" stroke-width="0.5"/>
<text x="86.8" y="76.7" font-size="4" font-family="'Liberation Sans',sans-serif" fill="#555" text-anchor="end" transform="rotate(-48 86.8 76.7)">CD276</text>
<text x="91.1" y="19.2" font-size="3.2" font-family="'Liberation Sans',sans-serif" fill="#666" text-anchor="middle">***</text>
<line x1="91.1" y1="74.3" x2="91.1" y2="75.5" stroke="#777" stroke-width="0.5"/>
<text x="92.4" y="76.7" font-size="4" font-family="'Liberation Sans',sans-serif" fill="#555" text-anchor="end" transform="rotate(-48 92.4 76.7)">TGFB1</text>
<text x="96.9" y="19.2" font-size="3.2" font-family="'Liberation Sans',sans-serif" fill="#666" text-anchor="middle">***</text>
<line x1="96.9" y1="74.3" x2="96.9" y2="75.5" stroke="#777" stroke-width="0.5"/>
<text x="98.2" y="76.7" font-size="4" font-family="'Liberation Sans',sans-serif" fill="#555" text-anchor="end" transform="rotate(-48 98.2 76.7)">CD80</text>
<text x="102.5" y="19.2" font-size="3.2" font-family="'Liberation Sans',sans-serif" fill="#666" text-anchor="middle">***</text>
<line x1="102.5" y1="74.3" x2="102.5" y2="75.5" stroke="#777" stroke-width="0.5"/>
<text x="103.8" y="76.7" font-size="4" font-family="'Liberation Sans',sans-serif" fill="#555" text-anchor="end" transform="rotate(-48 103.8 76.7)">CD86</text>
<text x="108" y="19.2" font-size="3.2" font-family="'Liberation Sans',sans-serif" fill="#666" text-anchor="middle">***</text>
<line x1="108" y1="74.3" x2="108" y2="75.5" stroke="#777" stroke-width="0.5"/>
<text x="109.3" y="76.7" font-size="4" font-family="'Liberation Sans',sans-serif" fill="#555" text-anchor="end" transform="rotate(-48 109.3 76.7)">VSIR</text>
<text x="113.8" y="19.2" font-size="3.2" font-family="'Liberation Sans',sans-serif" fill="#666" text-anchor="middle">ns</text>
<line x1="113.8" y1="74.3" x2="113.8" y2="75.5" stroke="#777" stroke-width="0.5"/>
<text x="115.1" y="76.7" font-size="4" font-family="'Liberation Sans',sans-serif" fill="#555" text-anchor="end" transform="rotate(-48 115.1 76.7)">CD40</text>
<text x="119.6" y="19.2" font-size="3.2" font-family="'Liberation Sans',sans-serif" fill="#666" text-anchor="middle">***</text>
<line x1="119.6" y1="74.3" x2="119.6" y2="75.5" stroke="#777" stroke-width="0.5"/>
<text x="120.9" y="76.7" font-size="4" font-family="'Liberation Sans',sans-serif" fill="#555" text-anchor="end" transform="rotate(-48 120.9 76.7)">CD70</text>
<text x="125" y="19.2" font-size="3.2" font-family="'Liberation Sans',sans-serif" fill="#666" text-anchor="middle">***</text>
<line x1="125" y1="74.3" x2="125" y2="75.5" stroke="#777" stroke-width="0.5"/>
<text x="126.3" y="76.7" font-size="4" font-family="'Liberation Sans',sans-serif" fill="#555" text-anchor="end" transform="rotate(-48 126.3 76.7)">CD27</text>
<text x="130.8" y="19.2" font-size="3.2" font-family="'Liberation Sans',sans-serif" fill="#666" text-anchor="middle">***</text>
<line x1="130.8" y1="74.3" x2="130.8" y2="75.5" stroke="#777" stroke-width="0.5"/>
<text x="132.1" y="76.7" font-size="4" font-family="'Liberation Sans',sans-serif" fill="#555" text-anchor="end" transform="rotate(-48 132.1 76.7)">CD28</text>
<text x="136.7" y="19.2" font-size="3.2" font-family="'Liberation Sans',sans-serif" fill="#666" text-anchor="middle">***</text>
<line x1="136.7" y1="74.3" x2="136.7" y2="75.5" stroke="#777" stroke-width="0.5"/>
<text x="138" y="76.7" font-size="4" font-family="'Liberation Sans',sans-serif" fill="#555" text-anchor="end" transform="rotate(-48 138 76.7)">TNFSF4</text>
<text x="142" y="19.2" font-size="3.2" font-family="'Liberation Sans',sans-serif" fill="#666" text-anchor="middle">ns</text>
<line x1="142" y1="74.3" x2="142" y2="75.5" stroke="#777" stroke-width="0.5"/>
<text x="143.3" y="76.7" font-size="4" font-family="'Liberation Sans',sans-serif" fill="#555" text-anchor="end" transform="rotate(-48 143.3 76.7)">TNFSF9</text>
<text x="147.9" y="19.2" font-size="3.2" font-family="'Liberation Sans',sans-serif" fill="#666" text-anchor="middle">***</text>
<line x1="147.9" y1="74.3" x2="147.9" y2="75.5" stroke="#777" stroke-width="0.5"/>
<text x="149.2" y="76.7" font-size="4" font-family="'Liberation Sans',sans-serif" fill="#555" text-anchor="end" transform="rotate(-48 149.2 76.7)">TNFRSF4</text>
<text x="153.6" y="19.2" font-size="3.2" font-family="'Liberation Sans',sans-serif" fill="#666" text-anchor="middle">***</text>
<line x1="153.6" y1="74.3" x2="153.6" y2="75.5" stroke="#777" stroke-width="0.5"/>
<text x="154.9" y="76.7" font-size="4" font-family="'Liberation Sans',sans-serif" fill="#555" text-anchor="end" transform="rotate(-48 154.9 76.7)">TNFRSF9</text>
<text x="159.5" y="19.2" font-size="3.2" font-family="'Liberation Sans',sans-serif" fill="#666" text-anchor="middle">***</text>
<line x1="159.5" y1="74.3" x2="159.5" y2="75.5" stroke="#777" stroke-width="0.5"/>
<text x="160.8" y="76.7" font-size="4" font-family="'Liberation Sans',sans-serif" fill="#555" text-anchor="end" transform="rotate(-48 160.8 76.7)">ICOS</text>
<text x="165.3" y="19.2" font-size="3.2" font-family="'Liberation Sans',sans-serif" fill="#666" text-anchor="middle">***</text>
<line x1="165.3" y1="74.3" x2="165.3" y2="75.5" stroke="#777" stroke-width="0.5"/>
<text x="166.6" y="76.7" font-size="4" font-family="'Liberation Sans',sans-serif" fill="#555" text-anchor="end" transform="rotate(-48 166.6 76.7)">ICOSLG</text>
<text x="171.1" y="19.2" font-size="3.2" font-family="'Liberation Sans',sans-serif" fill="#666" text-anchor="middle">ns</text>
<line x1="171.1" y1="74.3" x2="171.1" y2="75.5" stroke="#777" stroke-width="0.5"/>
<text x="172.4" y="76.7" font-size="4" font-family="'Liberation Sans',sans-serif" fill="#555" text-anchor="end" transform="rotate(-48 172.4 76.7)">CD200</text>
<text x="176.5" y="19.2" font-size="3.2" font-family="'Liberation Sans',sans-serif" fill="#666" text-anchor="middle">***</text>
<line x1="176.5" y1="74.3" x2="176.5" y2="75.5" stroke="#777" stroke-width="0.5"/>
<text x="177.8" y="76.7" font-size="4" font-family="'Liberation Sans',sans-serif" fill="#555" text-anchor="end" transform="rotate(-48 177.8 76.7)">CD200R1</text>
<text x="182.3" y="19.2" font-size="3.2" font-family="'Liberation Sans',sans-serif" fill="#666" text-anchor="middle">***</text>
<line x1="182.3" y1="74.3" x2="182.3" y2="75.5" stroke="#777" stroke-width="0.5"/>
<text x="183.6" y="76.7" font-size="4" font-family="'Liberation Sans',sans-serif" fill="#555" text-anchor="end" transform="rotate(-48 183.6 76.7)">ADORA2A</text>
<text x="188.1" y="19.2" font-size="3.2" font-family="'Liberation Sans',sans-serif" fill="#666" text-anchor="middle">***</text>
<line x1="188.1" y1="74.3" x2="188.1" y2="75.5" stroke="#777" stroke-width="0.5"/>
<text x="189.4" y="76.7" font-size="4" font-family="'Liberation Sans',sans-serif" fill="#555" text-anchor="end" transform="rotate(-48 189.4 76.7)">HHLA2</text>
<text x="193.6" y="19.2" font-size="3.2" font-family="'Liberation Sans',sans-serif" fill="#666" text-anchor="middle">***</text>
<line x1="193.6" y1="74.3" x2="193.6" y2="75.5" stroke="#777" stroke-width="0.5"/>
<text x="194.9" y="76.7" font-size="4" font-family="'Liberation Sans',sans-serif" fill="#555" text-anchor="end" transform="rotate(-48 194.9 76.7)">KIR3DL1</text>
<text x="199.5" y="19.2" font-size="3.2" font-family="'Liberation Sans',sans-serif" fill="#666" text-anchor="middle">ns</text>
<line x1="199.5" y1="74.3" x2="199.5" y2="75.5" stroke="#777" stroke-width="0.5"/>
<text x="200.8" y="76.7" font-size="4" font-family="'Liberation Sans',sans-serif" fill="#555" text-anchor="end" transform="rotate(-48 200.8 76.7)">LAIR1</text>
<text x="205.3" y="19.2" font-size="3.2" font-family="'Liberation Sans',sans-serif" fill="#666" text-anchor="middle">***</text>
<line x1="205.3" y1="74.3" x2="205.3" y2="75.5" stroke="#777" stroke-width="0.5"/>
<text x="206.6" y="76.7" font-size="4" font-family="'Liberation Sans',sans-serif" fill="#555" text-anchor="end" transform="rotate(-48 206.6 76.7)">NRP1</text>
<text x="211.1" y="19.2" font-size="3.2" font-family="'Liberation Sans',sans-serif" fill="#666" text-anchor="middle">***</text>
<line x1="211.1" y1="74.3" x2="211.1" y2="75.5" stroke="#777" stroke-width="0.5"/>
<text x="212.4" y="76.7" font-size="4" font-family="'Liberation Sans',sans-serif" fill="#555" text-anchor="end" transform="rotate(-48 212.4 76.7)">TMIGD2</text>
<text x="216.6" y="19.2" font-size="3.2" font-family="'Liberation Sans',sans-serif" fill="#666" text-anchor="middle">***</text>
<line x1="216.6" y1="74.3" x2="216.6" y2="75.5" stroke="#777" stroke-width="0.5"/>
<text x="217.9" y="76.7" font-size="4" font-family="'Liberation Sans',sans-serif" fill="#555" text-anchor="end" transform="rotate(-48 217.9 76.7)">VTCN1</text>
<text x="17.2" y="44.2" font-size="9.2" font-family="'Liberation Serif',serif" fill="#333" text-anchor="middle" transform="rotate(-90 17.2 44.2)">Score</text>
<rect x="242.5" y="13.8" width="195.8" height="60.2" fill="#fff" stroke="#8c8c8c" stroke-width="1.1"/>
<line x1="241.3" y1="14.5" x2="242.5" y2="14.5" stroke="#777" stroke-width="0.5"/>
<text x="240.7" y="15.5" font-size="3.2" font-family="'Liberation Sans',sans-serif" fill="#555" text-anchor="end">15</text>
<line x1="241.3" y1="31" x2="242.5" y2="31" stroke="#777" stroke-width="0.5"/>
<text x="240.7" y="32" font-size="3.2" font-family="'Liberation Sans',sans-serif" fill="#555" text-anchor="end">10</text>
<line x1="241.3" y1="48.7" x2="242.5" y2="48.7" stroke="#777" stroke-width="0.5"/>
<text x="240.7" y="49.7" font-size="3.2" font-family="'Liberation Sans',sans-serif" fill="#555" text-anchor="end">5</text>
<line x1="241.3" y1="66.4" x2="242.5" y2="66.4" stroke="#777" stroke-width="0.5"/>
<text x="240.7" y="67.4" font-size="3.2" font-family="'Liberation Sans',sans-serif" fill="#555" text-anchor="end">0</text>
<line x1="247.4" y1="40.1" x2="247.4" y2="58.5" stroke="#9fd0f0" stroke-width="0.6"/>
<rect x="245.9" y="45.6" width="3" height="7.4" fill="#9fd0f0" stroke="none" stroke-width="1" opacity="0.18"/>
<line x1="249.8" y1="41" x2="249.8" y2="61.4" stroke="#f7b3a6" stroke-width="0.6"/>
<rect x="248.3" y="47.1" width="3" height="8.2" fill="#f7b3a6" stroke="none" stroke-width="1" opacity="0.18"/>
<rect x="246.1" y="47" width="2.6" height="4.6" fill="#1f8fd6" stroke="none" stroke-width="1"/>
<rect x="248.5" y="48.6" width="2.6" height="5.1" fill="#f0553c" stroke="none" stroke-width="1"/>
<line x1="246.1" y1="49.3" x2="248.7" y2="49.3" stroke="#0d5e99" stroke-width="0.4"/>
<line x1="248.5" y1="51.2" x2="251.1" y2="51.2" stroke="#a02a18" stroke-width="0.4"/>
<line x1="257.1" y1="50.1" x2="257.1" y2="66.5" stroke="#9fd0f0" stroke-width="0.6"/>
<rect x="255.6" y="55.1" width="3" height="6.6" fill="#9fd0f0" stroke="none" stroke-width="1" opacity="0.18"/>
<line x1="259.5" y1="51" x2="259.5" y2="67.4" stroke="#f7b3a6" stroke-width="0.6"/>
<rect x="258" y="55.9" width="3" height="6.6" fill="#f7b3a6" stroke="none" stroke-width="1" opacity="0.18"/>
<rect x="255.8" y="56.3" width="2.6" height="4.1" fill="#1f8fd6" stroke="none" stroke-width="1"/>
<rect x="258.2" y="57.1" width="2.6" height="4.1" fill="#f0553c" stroke="none" stroke-width="1"/>
<line x1="255.8" y1="58.3" x2="258.4" y2="58.3" stroke="#0d5e99" stroke-width="0.4"/>
<line x1="258.2" y1="59.2" x2="260.8" y2="59.2" stroke="#a02a18" stroke-width="0.4"/>
<line x1="266.9" y1="26.6" x2="266.9" y2="40.6" stroke="#9fd0f0" stroke-width="0.6"/>
<rect x="265.4" y="30.8" width="3" height="5.6" fill="#9fd0f0" stroke="none" stroke-width="1" opacity="0.18"/>
<line x1="269.3" y1="25.9" x2="269.3" y2="44.3" stroke="#f7b3a6" stroke-width="0.6"/>
<rect x="267.8" y="31.4" width="3" height="7.4" fill="#f7b3a6" stroke="none" stroke-width="1" opacity="0.18"/>
<rect x="265.6" y="31.9" width="2.6" height="3.5" fill="#1f8fd6" stroke="none" stroke-width="1"/>
<rect x="268" y="32.8" width="2.6" height="4.6" fill="#f0553c" stroke="none" stroke-width="1"/>
<line x1="265.6" y1="33.6" x2="268.2" y2="33.6" stroke="#0d5e99" stroke-width="0.4"/>
<line x1="268" y1="35.1" x2="270.6" y2="35.1" stroke="#a02a18" stroke-width="0.4"/>
<line x1="276.4" y1="31.5" x2="276.4" y2="41.9" stroke="#9fd0f0" stroke-width="0.6"/>
<rect x="274.9" y="34.6" width="3" height="4.2" fill="#9fd0f0" stroke="none" stroke-width="1" opacity="0.18"/>
<line x1="278.8" y1="30.2" x2="278.8" y2="46.7" stroke="#f7b3a6" stroke-width="0.6"/>
<rect x="277.3" y="35.2" width="3" height="6.6" fill="#f7b3a6" stroke="none" stroke-width="1" opacity="0.18"/>
<rect x="275.1" y="35.4" width="2.6" height="2.6" fill="#1f8fd6" stroke="none" stroke-width="1"/>
<rect x="277.5" y="36.4" width="2.6" height="4.1" fill="#f0553c" stroke="none" stroke-width="1"/>
<line x1="275.1" y1="36.7" x2="277.7" y2="36.7" stroke="#0d5e99" stroke-width="0.4"/>
<line x1="277.5" y1="38.5" x2="280.1" y2="38.5" stroke="#a02a18" stroke-width="0.4"/>
<line x1="286" y1="27.9" x2="286" y2="41.5" stroke="#9fd0f0" stroke-width="0.6"/>
<rect x="284.5" y="32" width="3" height="5.4" fill="#9fd0f0" stroke="none" stroke-width="1" opacity="0.18"/>
<line x1="288.4" y1="27.4" x2="288.4" y2="43.4" stroke="#f7b3a6" stroke-width="0.6"/>
<rect x="286.9" y="32.2" width="3" height="6.4" fill="#f7b3a6" stroke="none" stroke-width="1" opacity="0.18"/>
<rect x="284.7" y="33" width="2.6" height="3.4" fill="#1f8fd6" stroke="none" stroke-width="1"/>
<rect x="287.1" y="33.4" width="2.6" height="4" fill="#f0553c" stroke="none" stroke-width="1"/>
<line x1="284.7" y1="34.7" x2="287.3" y2="34.7" stroke="#0d5e99" stroke-width="0.4"/>
<line x1="287.1" y1="35.4" x2="289.7" y2="35.4" stroke="#a02a18" stroke-width="0.4"/>
<line x1="295.7" y1="24.2" x2="295.7" y2="40.5" stroke="#9fd0f0" stroke-width="0.6"/>
<rect x="294.2" y="29.1" width="3" height="6.6" fill="#9fd0f0" stroke="none" stroke-width="1" opacity="0.18"/>
<line x1="298.1" y1="23.7" x2="298.1" y2="44" stroke="#f7b3a6" stroke-width="0.6"/>
<rect x="296.6" y="29.8" width="3" height="8.2" fill="#f7b3a6" stroke="none" stroke-width="1" opacity="0.18"/>
<rect x="294.4" y="30.3" width="2.6" height="4.1" fill="#1f8fd6" stroke="none" stroke-width="1"/>
<rect x="296.8" y="31.3" width="2.6" height="5.1" fill="#f0553c" stroke="none" stroke-width="1"/>
<line x1="294.4" y1="32.4" x2="297" y2="32.4" stroke="#0d5e99" stroke-width="0.4"/>
<line x1="296.8" y1="33.9" x2="299.4" y2="33.9" stroke="#a02a18" stroke-width="0.4"/>
<line x1="305.3" y1="20.4" x2="305.3" y2="38.8" stroke="#9fd0f0" stroke-width="0.6"/>
<rect x="303.8" y="25.9" width="3" height="7.4" fill="#9fd0f0" stroke="none" stroke-width="1" opacity="0.18"/>
<line x1="307.7" y1="20.1" x2="307.7" y2="46.1" stroke="#f7b3a6" stroke-width="0.6"/>
<rect x="306.2" y="27.9" width="3" height="10.4" fill="#f7b3a6" stroke="none" stroke-width="1" opacity="0.18"/>
<rect x="304" y="27.3" width="2.6" height="4.6" fill="#1f8fd6" stroke="none" stroke-width="1"/>
<rect x="306.4" y="29.9" width="2.6" height="6.5" fill="#f0553c" stroke="none" stroke-width="1"/>
<line x1="304" y1="29.6" x2="306.6" y2="29.6" stroke="#0d5e99" stroke-width="0.4"/>
<line x1="306.4" y1="33.1" x2="309" y2="33.1" stroke="#a02a18" stroke-width="0.4"/>
<line x1="314.6" y1="26.2" x2="314.6" y2="50.7" stroke="#9fd0f0" stroke-width="0.6"/>
<rect x="313.1" y="33.6" width="3" height="9.8" fill="#9fd0f0" stroke="none" stroke-width="1" opacity="0.18"/>
<line x1="317" y1="28.6" x2="317" y2="54.6" stroke="#f7b3a6" stroke-width="0.6"/>
<rect x="315.5" y="36.4" width="3" height="10.4" fill="#f7b3a6" stroke="none" stroke-width="1" opacity="0.18"/>
<rect x="313.3" y="35.4" width="2.6" height="6.1" fill="#1f8fd6" stroke="none" stroke-width="1"/>
<rect x="315.7" y="38.4" width="2.6" height="6.5" fill="#f0553c" stroke="none" stroke-width="1"/>
<line x1="313.3" y1="38.5" x2="315.9" y2="38.5" stroke="#0d5e99" stroke-width="0.4"/>
<line x1="315.7" y1="41.6" x2="318.3" y2="41.6" stroke="#a02a18" stroke-width="0.4"/>
<line x1="324.6" y1="23.6" x2="324.6" y2="41.5" stroke="#9fd0f0" stroke-width="0.6"/>
<rect x="323.1" y="29" width="3" height="7.2" fill="#9fd0f0" stroke="none" stroke-width="1" opacity="0.18"/>
<line x1="327" y1="25.3" x2="327" y2="46.9" stroke="#f7b3a6" stroke-width="0.6"/>
<rect x="325.5" y="31.8" width="3" height="8.6" fill="#f7b3a6" stroke="none" stroke-width="1" opacity="0.18"/>
<rect x="323.3" y="30.3" width="2.6" height="4.5" fill="#1f8fd6" stroke="none" stroke-width="1"/>
<rect x="325.7" y="33.4" width="2.6" height="5.4" fill="#f0553c" stroke="none" stroke-width="1"/>
<line x1="323.3" y1="32.5" x2="325.9" y2="32.5" stroke="#0d5e99" stroke-width="0.4"/>
<line x1="325.7" y1="36.1" x2="328.3" y2="36.1" stroke="#a02a18" stroke-width="0.4"/>
<line x1="333.9" y1="36.8" x2="333.9" y2="57.2" stroke="#9fd0f0" stroke-width="0.6"/>
<rect x="332.4" y="43" width="3" height="8.2" fill="#9fd0f0" stroke="none" stroke-width="1" opacity="0.18"/>
<line x1="336.3" y1="38.5" x2="336.3" y2="62.9" stroke="#f7b3a6" stroke-width="0.6"/>
<rect x="334.8" y="45.8" width="3" height="9.8" fill="#f7b3a6" stroke="none" stroke-width="1" opacity="0.18"/>
<rect x="332.6" y="44.5" width="2.6" height="5.1" fill="#1f8fd6" stroke="none" stroke-width="1"/>
<rect x="335" y="47.6" width="2.6" height="6.1" fill="#f0553c" stroke="none" stroke-width="1"/>
<line x1="332.6" y1="47" x2="335.2" y2="47" stroke="#0d5e99" stroke-width="0.4"/>
<line x1="335" y1="50.7" x2="337.6" y2="50.7" stroke="#a02a18" stroke-width="0.4"/>
<line x1="343.2" y1="33.1" x2="343.2" y2="56.3" stroke="#9fd0f0" stroke-width="0.6"/>
<rect x="341.7" y="40.1" width="3" height="9.3" fill="#9fd0f0" stroke="none" stroke-width="1" opacity="0.18"/>
<line x1="345.6" y1="35.1" x2="345.6" y2="60.2" stroke="#f7b3a6" stroke-width="0.6"/>
<rect x="344.1" y="42.6" width="3" height="10.1" fill="#f7b3a6" stroke="none" stroke-width="1" opacity="0.18"/>
<rect x="341.9" y="41.8" width="2.6" height="5.8" fill="#1f8fd6" stroke="none" stroke-width="1"/>
<rect x="344.3" y="44.5" width="2.6" height="6.3" fill="#f0553c" stroke="none" stroke-width="1"/>
<line x1="341.9" y1="44.7" x2="344.5" y2="44.7" stroke="#0d5e99" stroke-width="0.4"/>
<line x1="344.3" y1="47.6" x2="346.9" y2="47.6" stroke="#a02a18" stroke-width="0.4"/>
<line x1="353" y1="30.4" x2="353" y2="68" stroke="#9fd0f0" stroke-width="0.6"/>
<rect x="351.5" y="41.7" width="3" height="15" fill="#9fd0f0" stroke="none" stroke-width="1" opacity="0.18"/>
<line x1="355.4" y1="35" x2="355.4" y2="68.6" stroke="#f7b3a6" stroke-width="0.6"/>
<rect x="353.9" y="45.1" width="3" height="13.4" fill="#f7b3a6" stroke="none" stroke-width="1" opacity="0.18"/>
<rect x="351.7" y="44.5" width="2.6" height="9.4" fill="#1f8fd6" stroke="none" stroke-width="1"/>
<rect x="354.1" y="47.6" width="2.6" height="8.4" fill="#f0553c" stroke="none" stroke-width="1"/>
<line x1="351.7" y1="49.2" x2="354.3" y2="49.2" stroke="#0d5e99" stroke-width="0.4"/>
<line x1="354.1" y1="51.8" x2="356.7" y2="51.8" stroke="#a02a18" stroke-width="0.4"/>
<line x1="362.7" y1="34.7" x2="362.7" y2="63.8" stroke="#9fd0f0" stroke-width="0.6"/>
<rect x="361.2" y="43.4" width="3" height="11.7" fill="#9fd0f0" stroke="none" stroke-width="1" opacity="0.18"/>
<line x1="365.1" y1="36.9" x2="365.1" y2="66.8" stroke="#f7b3a6" stroke-width="0.6"/>
<rect x="363.6" y="45.9" width="3" height="12" fill="#f7b3a6" stroke="none" stroke-width="1" opacity="0.18"/>
<rect x="361.4" y="45.6" width="2.6" height="7.3" fill="#1f8fd6" stroke="none" stroke-width="1"/>
<rect x="363.8" y="48.1" width="2.6" height="7.5" fill="#f0553c" stroke="none" stroke-width="1"/>
<line x1="361.4" y1="49.2" x2="364" y2="49.2" stroke="#0d5e99" stroke-width="0.4"/>
<line x1="363.8" y1="51.9" x2="366.4" y2="51.9" stroke="#a02a18" stroke-width="0.4"/>
<line x1="372.5" y1="45.9" x2="372.5" y2="67.2" stroke="#9fd0f0" stroke-width="0.6"/>
<rect x="371" y="52.3" width="3" height="8.5" fill="#9fd0f0" stroke="none" stroke-width="1" opacity="0.18"/>
<line x1="374.9" y1="52.5" x2="374.9" y2="66.5" stroke="#f7b3a6" stroke-width="0.6"/>
<rect x="373.4" y="56.7" width="3" height="5.6" fill="#f7b3a6" stroke="none" stroke-width="1" opacity="0.18"/>
<rect x="371.2" y="53.9" width="2.6" height="5.3" fill="#1f8fd6" stroke="none" stroke-width="1"/>
<rect x="373.6" y="57.7" width="2.6" height="3.5" fill="#f0553c" stroke="none" stroke-width="1"/>
<line x1="371.2" y1="56.5" x2="373.8" y2="56.5" stroke="#0d5e99" stroke-width="0.4"/>
<line x1="373.6" y1="59.5" x2="376.2" y2="59.5" stroke="#a02a18" stroke-width="0.4"/>
<line x1="381.9" y1="41.3" x2="381.9" y2="58.1" stroke="#9fd0f0" stroke-width="0.6"/>
<rect x="380.4" y="46.3" width="3" height="6.7" fill="#9fd0f0" stroke="none" stroke-width="1" opacity="0.18"/>
<line x1="384.3" y1="43.6" x2="384.3" y2="62.8" stroke="#f7b3a6" stroke-width="0.6"/>
<rect x="382.8" y="49.4" width="3" height="7.7" fill="#f7b3a6" stroke="none" stroke-width="1" opacity="0.18"/>
<rect x="380.6" y="47.6" width="2.6" height="4.2" fill="#1f8fd6" stroke="none" stroke-width="1"/>
<rect x="383" y="50.8" width="2.6" height="4.8" fill="#f0553c" stroke="none" stroke-width="1"/>
<line x1="380.6" y1="49.7" x2="383.2" y2="49.7" stroke="#0d5e99" stroke-width="0.4"/>
<line x1="383" y1="53.2" x2="385.6" y2="53.2" stroke="#a02a18" stroke-width="0.4"/>
<line x1="391.9" y1="35.5" x2="391.9" y2="52.3" stroke="#9fd0f0" stroke-width="0.6"/>
<rect x="390.4" y="40.5" width="3" height="6.7" fill="#9fd0f0" stroke="none" stroke-width="1" opacity="0.18"/>
<line x1="394.3" y1="34.4" x2="394.3" y2="59.7" stroke="#f7b3a6" stroke-width="0.6"/>
<rect x="392.8" y="42" width="3" height="10.1" fill="#f7b3a6" stroke="none" stroke-width="1" opacity="0.18"/>
<rect x="390.6" y="41.8" width="2.6" height="4.2" fill="#1f8fd6" stroke="none" stroke-width="1"/>
<rect x="393" y="43.9" width="2.6" height="6.3" fill="#f0553c" stroke="none" stroke-width="1"/>
<line x1="390.6" y1="43.9" x2="393.2" y2="43.9" stroke="#0d5e99" stroke-width="0.4"/>
<line x1="393" y1="47" x2="395.6" y2="47" stroke="#a02a18" stroke-width="0.4"/>
<line x1="401.2" y1="38.2" x2="401.2" y2="63.3" stroke="#9fd0f0" stroke-width="0.6"/>
<rect x="399.7" y="45.7" width="3" height="10.1" fill="#9fd0f0" stroke="none" stroke-width="1" opacity="0.18"/>
<line x1="403.6" y1="42.8" x2="403.6" y2="65.7" stroke="#f7b3a6" stroke-width="0.6"/>
<rect x="402.1" y="49.7" width="3" height="9.1" fill="#f7b3a6" stroke="none" stroke-width="1" opacity="0.18"/>
<rect x="399.9" y="47.6" width="2.6" height="6.3" fill="#1f8fd6" stroke="none" stroke-width="1"/>
<rect x="402.3" y="51.4" width="2.6" height="5.7" fill="#f0553c" stroke="none" stroke-width="1"/>
<line x1="399.9" y1="50.8" x2="402.5" y2="50.8" stroke="#0d5e99" stroke-width="0.4"/>
<line x1="402.3" y1="54.2" x2="404.9" y2="54.2" stroke="#a02a18" stroke-width="0.4"/>
<line x1="411.2" y1="31.5" x2="411.2" y2="52.3" stroke="#9fd0f0" stroke-width="0.6"/>
<rect x="409.7" y="37.7" width="3" height="8.3" fill="#9fd0f0" stroke="none" stroke-width="1" opacity="0.18"/>
<line x1="413.6" y1="30.4" x2="413.6" y2="59.7" stroke="#f7b3a6" stroke-width="0.6"/>
<rect x="412.1" y="39.2" width="3" height="11.7" fill="#f7b3a6" stroke="none" stroke-width="1" opacity="0.18"/>
<rect x="409.9" y="39.3" width="2.6" height="5.2" fill="#1f8fd6" stroke="none" stroke-width="1"/>
<rect x="412.3" y="41.4" width="2.6" height="7.3" fill="#f0553c" stroke="none" stroke-width="1"/>
<line x1="409.9" y1="41.9" x2="412.5" y2="41.9" stroke="#0d5e99" stroke-width="0.4"/>
<line x1="412.3" y1="45" x2="414.9" y2="45" stroke="#a02a18" stroke-width="0.4"/>
<line x1="420.6" y1="29.3" x2="420.6" y2="49.3" stroke="#9fd0f0" stroke-width="0.6"/>
<rect x="419.1" y="35.3" width="3" height="8" fill="#9fd0f0" stroke="none" stroke-width="1" opacity="0.18"/>
<line x1="423" y1="32.3" x2="423" y2="53.6" stroke="#f7b3a6" stroke-width="0.6"/>
<rect x="421.5" y="38.7" width="3" height="8.5" fill="#f7b3a6" stroke="none" stroke-width="1" opacity="0.18"/>
<rect x="419.3" y="36.8" width="2.6" height="5" fill="#1f8fd6" stroke="none" stroke-width="1"/>
<rect x="421.7" y="40.3" width="2.6" height="5.3" fill="#f0553c" stroke="none" stroke-width="1"/>
<line x1="419.3" y1="39.3" x2="421.9" y2="39.3" stroke="#0d5e99" stroke-width="0.4"/>
<line x1="421.7" y1="43" x2="424.3" y2="43" stroke="#a02a18" stroke-width="0.4"/>
<line x1="430.4" y1="24.6" x2="430.4" y2="38.6" stroke="#9fd0f0" stroke-width="0.6"/>
<rect x="428.9" y="28.8" width="3" height="5.6" fill="#9fd0f0" stroke="none" stroke-width="1" opacity="0.18"/>
<line x1="432.8" y1="25.5" x2="432.8" y2="41.5" stroke="#f7b3a6" stroke-width="0.6"/>
<rect x="431.3" y="30.3" width="3" height="6.4" fill="#f7b3a6" stroke="none" stroke-width="1" opacity="0.18"/>
<rect x="429.1" y="29.9" width="2.6" height="3.5" fill="#1f8fd6" stroke="none" stroke-width="1"/>
<rect x="431.5" y="31.5" width="2.6" height="4" fill="#f0553c" stroke="none" stroke-width="1"/>
<line x1="429.1" y1="31.6" x2="431.7" y2="31.6" stroke="#0d5e99" stroke-width="0.4"/>
<line x1="431.5" y1="33.5" x2="434.1" y2="33.5" stroke="#a02a18" stroke-width="0.4"/>
<text x="248.6" y="20" font-size="3.4" font-family="'Liberation Sans',sans-serif" fill="#666" text-anchor="middle">***</text>
<line x1="248.6" y1="74" x2="248.6" y2="75.2" stroke="#777" stroke-width="0.5"/>
<text x="249.9" y="76.4" font-size="3.2" font-family="'Liberation Sans',sans-serif" fill="#555" text-anchor="end" transform="rotate(-48 249.9 76.4)">HLA-A</text>
<text x="258.3" y="20" font-size="3.4" font-family="'Liberation Sans',sans-serif" fill="#666" text-anchor="middle">***</text>
<line x1="258.3" y1="74" x2="258.3" y2="75.2" stroke="#777" stroke-width="0.5"/>
<text x="259.6" y="76.4" font-size="3.2" font-family="'Liberation Sans',sans-serif" fill="#555" text-anchor="end" transform="rotate(-48 259.6 76.4)">HLA-B</text>
<text x="268.1" y="20" font-size="3.4" font-family="'Liberation Sans',sans-serif" fill="#666" text-anchor="middle">***</text>
<line x1="268.1" y1="74" x2="268.1" y2="75.2" stroke="#777" stroke-width="0.5"/>
<text x="269.4" y="76.4" font-size="3.2" font-family="'Liberation Sans',sans-serif" fill="#555" text-anchor="end" transform="rotate(-48 269.4 76.4)">HLA-C</text>
<text x="277.6" y="20" font-size="3.4" font-family="'Liberation Sans',sans-serif" fill="#666" text-anchor="middle">***</text>
<line x1="277.6" y1="74" x2="277.6" y2="75.2" stroke="#777" stroke-width="0.5"/>
<text x="278.9" y="76.4" font-size="3.2" font-family="'Liberation Sans',sans-serif" fill="#555" text-anchor="end" transform="rotate(-48 278.9 76.4)">HLA-E</text>
<text x="287.2" y="20" font-size="3.4" font-family="'Liberation Sans',sans-serif" fill="#666" text-anchor="middle">***</text>
<line x1="287.2" y1="74" x2="287.2" y2="75.2" stroke="#777" stroke-width="0.5"/>
<text x="288.5" y="76.4" font-size="3.2" font-family="'Liberation Sans',sans-serif" fill="#555" text-anchor="end" transform="rotate(-48 288.5 76.4)">HLA-F</text>
<text x="296.9" y="20" font-size="3.4" font-family="'Liberation Sans',sans-serif" fill="#666" text-anchor="middle">***</text>
<line x1="296.9" y1="74" x2="296.9" y2="75.2" stroke="#777" stroke-width="0.5"/>
<text x="298.2" y="76.4" font-size="3.2" font-family="'Liberation Sans',sans-serif" fill="#555" text-anchor="end" transform="rotate(-48 298.2 76.4)">HLA-G</text>
<text x="306.5" y="20" font-size="3.4" font-family="'Liberation Sans',sans-serif" fill="#666" text-anchor="middle">***</text>
<line x1="306.5" y1="74" x2="306.5" y2="75.2" stroke="#777" stroke-width="0.5"/>
<text x="307.8" y="76.4" font-size="3.2" font-family="'Liberation Sans',sans-serif" fill="#555" text-anchor="end" transform="rotate(-48 307.8 76.4)">HLA-DMA</text>
<text x="315.8" y="20" font-size="3.4" font-family="'Liberation Sans',sans-serif" fill="#666" text-anchor="middle">***</text>
<line x1="315.8" y1="74" x2="315.8" y2="75.2" stroke="#777" stroke-width="0.5"/>
<text x="317.1" y="76.4" font-size="3.2" font-family="'Liberation Sans',sans-serif" fill="#555" text-anchor="end" transform="rotate(-48 317.1 76.4)">HLA-DMB</text>
<text x="325.8" y="20" font-size="3.4" font-family="'Liberation Sans',sans-serif" fill="#666" text-anchor="middle">***</text>
<line x1="325.8" y1="74" x2="325.8" y2="75.2" stroke="#777" stroke-width="0.5"/>
<text x="327.1" y="76.4" font-size="3.2" font-family="'Liberation Sans',sans-serif" fill="#555" text-anchor="end" transform="rotate(-48 327.1 76.4)">HLA-DOA</text>
<text x="335.1" y="20" font-size="3.4" font-family="'Liberation Sans',sans-serif" fill="#666" text-anchor="middle">***</text>
<line x1="335.1" y1="74" x2="335.1" y2="75.2" stroke="#777" stroke-width="0.5"/>
<text x="336.4" y="76.4" font-size="3.2" font-family="'Liberation Sans',sans-serif" fill="#555" text-anchor="end" transform="rotate(-48 336.4 76.4)">HLA-DOB</text>
<text x="344.4" y="20" font-size="3.4" font-family="'Liberation Sans',sans-serif" fill="#666" text-anchor="middle">***</text>
<line x1="344.4" y1="74" x2="344.4" y2="75.2" stroke="#777" stroke-width="0.5"/>
<text x="345.7" y="76.4" font-size="3.2" font-family="'Liberation Sans',sans-serif" fill="#555" text-anchor="end" transform="rotate(-48 345.7 76.4)">HLA-DPA1</text>
<text x="354.2" y="20" font-size="3.4" font-family="'Liberation Sans',sans-serif" fill="#666" text-anchor="middle">***</text>
<line x1="354.2" y1="74" x2="354.2" y2="75.2" stroke="#777" stroke-width="0.5"/>
<text x="355.5" y="76.4" font-size="3.2" font-family="'Liberation Sans',sans-serif" fill="#555" text-anchor="end" transform="rotate(-48 355.5 76.4)">HLA-DPB1</text>
<text x="363.9" y="20" font-size="3.4" font-family="'Liberation Sans',sans-serif" fill="#666" text-anchor="middle">***</text>
<line x1="363.9" y1="74" x2="363.9" y2="75.2" stroke="#777" stroke-width="0.5"/>
<text x="365.2" y="76.4" font-size="3.2" font-family="'Liberation Sans',sans-serif" fill="#555" text-anchor="end" transform="rotate(-48 365.2 76.4)">HLA-DQA1</text>
<text x="373.7" y="20" font-size="3.4" font-family="'Liberation Sans',sans-serif" fill="#666" text-anchor="middle">***</text>
<line x1="373.7" y1="74" x2="373.7" y2="75.2" stroke="#777" stroke-width="0.5"/>
<text x="375" y="76.4" font-size="3.2" font-family="'Liberation Sans',sans-serif" fill="#555" text-anchor="end" transform="rotate(-48 375 76.4)">HLA-DQA2</text>
<text x="383.1" y="20" font-size="3.4" font-family="'Liberation Sans',sans-serif" fill="#666" text-anchor="middle">***</text>
<line x1="383.1" y1="74" x2="383.1" y2="75.2" stroke="#777" stroke-width="0.5"/>
<text x="384.4" y="76.4" font-size="3.2" font-family="'Liberation Sans',sans-serif" fill="#555" text-anchor="end" transform="rotate(-48 384.4 76.4)">HLA-DQB1</text>
<text x="393.1" y="20" font-size="3.4" font-family="'Liberation Sans',sans-serif" fill="#666" text-anchor="middle">***</text>
<line x1="393.1" y1="74" x2="393.1" y2="75.2" stroke="#777" stroke-width="0.5"/>
<text x="394.4" y="76.4" font-size="3.2" font-family="'Liberation Sans',sans-serif" fill="#555" text-anchor="end" transform="rotate(-48 394.4 76.4)">HLA-DRA</text>
<text x="402.4" y="20" font-size="3.4" font-family="'Liberation Sans',sans-serif" fill="#666" text-anchor="middle">***</text>
<line x1="402.4" y1="74" x2="402.4" y2="75.2" stroke="#777" stroke-width="0.5"/>
<text x="403.7" y="76.4" font-size="3.2" font-family="'Liberation Sans',sans-serif" fill="#555" text-anchor="end" transform="rotate(-48 403.7 76.4)">HLA-DRB1</text>
<text x="412.4" y="20" font-size="3.4" font-family="'Liberation Sans',sans-serif" fill="#666" text-anchor="middle">***</text>
<line x1="412.4" y1="74" x2="412.4" y2="75.2" stroke="#777" stroke-width="0.5"/>
<text x="413.7" y="76.4" font-size="3.2" font-family="'Liberation Sans',sans-serif" fill="#555" text-anchor="end" transform="rotate(-48 413.7 76.4)">HLA-DRB5</text>
<text x="421.8" y="20" font-size="3.4" font-family="'Liberation Sans',sans-serif" fill="#666" text-anchor="middle">***</text>
<line x1="421.8" y1="74" x2="421.8" y2="75.2" stroke="#777" stroke-width="0.5"/>
<text x="423.1" y="76.4" font-size="3.2" font-family="'Liberation Sans',sans-serif" fill="#555" text-anchor="end" transform="rotate(-48 423.1 76.4)">HLA-DRB6</text>
<text x="431.6" y="20" font-size="3.4" font-family="'Liberation Sans',sans-serif" fill="#666" text-anchor="middle">***</text>
<line x1="431.6" y1="74" x2="431.6" y2="75.2" stroke="#777" stroke-width="0.5"/>
<text x="432.9" y="76.4" font-size="3.2" font-family="'Liberation Sans',sans-serif" fill="#555" text-anchor="end" transform="rotate(-48 432.9 76.4)">B2M</text>
<text x="235.5" y="42.3" font-size="9.2" font-family="'Liberation Serif',serif" fill="#333" text-anchor="middle" transform="rotate(-90 235.5 42.3)">Score</text>
<rect x="442.7" y="36.3" width="6.6" height="5.2" fill="#1f8fd6" stroke="none" stroke-width="1"/>
<rect x="442.7" y="44.2" width="6.6" height="5.2" fill="#f0553c" stroke="none" stroke-width="1"/>
<line x1="442.7" y1="38.9" x2="449.3" y2="38.9" stroke="#0d5e99" stroke-width="0.5"/>
<line x1="442.7" y1="46.8" x2="449.3" y2="46.8" stroke="#a02a18" stroke-width="0.5"/>
<text x="452.8" y="41.8" font-size="7.8" font-family="'Liberation Serif',serif" fill="#333" text-anchor="start" textLength="34.2" lengthAdjust="spacingAndGlyphs">Low ICDrisk</text>
<text x="452.8" y="49.6" font-size="7.8" font-family="'Liberation Serif',serif" fill="#333" text-anchor="start" textLength="36.6" lengthAdjust="spacingAndGlyphs">High ICDrisk</text>
<line x1="9.6" y1="233.7" x2="9.6" y2="109" stroke="#111" stroke-width="1.3"/>
<polygon points="9.6,103.3 6.6,110.3 12.6,110.3" fill="#111"/>
<line x1="9.6" y1="233.1" x2="249" y2="233.1" stroke="#111" stroke-width="1.3"/>
<polygon points="255.2,233.1 247.4,230.4 247.4,235.8" fill="#111"/>
<rect x="23" y="93.9" width="223.7" height="9" fill="#9dcd76" stroke="#88c462" stroke-width="0.6"/>
<text x="132.9" y="101.4" font-size="7.4" font-family="'Liberation Serif',serif" fill="#2b2b2b" text-anchor="middle" textLength="32.5" lengthAdjust="spacingAndGlyphs">ESTIMATE</text>
<rect x="22.4" y="163.1" width="224" height="9.2" fill="#9dcd76" stroke="#88c462" stroke-width="0.6"/>
<text x="132.9" y="170.9" font-size="7.6" font-family="'Liberation Serif',serif" fill="#2b2b2b" text-anchor="middle" textLength="15" lengthAdjust="spacingAndGlyphs">Xcell</text>
<rect x="24.2" y="104.2" width="62.5" height="53.2" fill="#fff" stroke="#a0a0a0" stroke-width="0.8"/>
<line x1="28.6" y1="104.2" x2="28.6" y2="157.4" stroke="#ececec" stroke-width="0.5"/>
<line x1="44.4" y1="104.2" x2="44.4" y2="157.4" stroke="#ececec" stroke-width="0.5"/>
<line x1="59.7" y1="104.2" x2="59.7" y2="157.4" stroke="#ececec" stroke-width="0.5"/>
<line x1="75.1" y1="104.2" x2="75.1" y2="157.4" stroke="#ececec" stroke-width="0.5"/>
<line x1="24.2" y1="108" x2="86.7" y2="108" stroke="#ececec" stroke-width="0.5"/>
<line x1="24.2" y1="120.4" x2="86.7" y2="120.4" stroke="#ececec" stroke-width="0.5"/>
<line x1="24.2" y1="132.3" x2="86.7" y2="132.3" stroke="#ececec" stroke-width="0.5"/>
<line x1="24.2" y1="144.4" x2="86.7" y2="144.4" stroke="#ececec" stroke-width="0.5"/>
<line x1="24.2" y1="156.4" x2="86.7" y2="156.4" stroke="#ececec" stroke-width="0.5"/>
<line x1="36.5" y1="104.2" x2="36.5" y2="157.4" stroke="#f4f4f4" stroke-width="0.4"/>
<line x1="52" y1="104.2" x2="52" y2="157.4" stroke="#f4f4f4" stroke-width="0.4"/>
<line x1="67.4" y1="104.2" x2="67.4" y2="157.4" stroke="#f4f4f4" stroke-width="0.4"/>
<line x1="28.6" y1="157.4" x2="28.6" y2="158.4" stroke="#666" stroke-width="0.4"/>
<text x="28.6" y="161.4" font-size="3.6" font-family="'Liberation Sans',sans-serif" fill="#444" text-anchor="middle">-2</text>
<line x1="44.4" y1="157.4" x2="44.4" y2="158.4" stroke="#666" stroke-width="0.4"/>
<text x="44.4" y="161.4" font-size="3.6" font-family="'Liberation Sans',sans-serif" fill="#444" text-anchor="middle">-1</text>
<line x1="59.7" y1="157.4" x2="59.7" y2="158.4" stroke="#666" stroke-width="0.4"/>
<text x="59.7" y="161.4" font-size="3.6" font-family="'Liberation Sans',sans-serif" fill="#444" text-anchor="middle">0</text>
<line x1="75.1" y1="157.4" x2="75.1" y2="158.4" stroke="#666" stroke-width="0.4"/>
<text x="75.1" y="161.4" font-size="3.6" font-family="'Liberation Sans',sans-serif" fill="#444" text-anchor="middle">1</text>
<line x1="23.2" y1="108" x2="24.2" y2="108" stroke="#666" stroke-width="0.4"/>
<text x="22.7" y="109.2" font-size="3.6" font-family="'Liberation Sans',sans-serif" fill="#444" text-anchor="end">3000</text>
<line x1="23.2" y1="120.4" x2="24.2" y2="120.4" stroke="#666" stroke-width="0.4"/>
<text x="22.7" y="121.6" font-size="3.6" font-family="'Liberation Sans',sans-serif" fill="#444" text-anchor="end">2000</text>
<line x1="23.2" y1="132.3" x2="24.2" y2="132.3" stroke="#666" stroke-width="0.4"/>
<text x="22.7" y="133.5" font-size="3.6" font-family="'Liberation Sans',sans-serif" fill="#444" text-anchor="end">1000</text>
<line x1="23.2" y1="144.4" x2="24.2" y2="144.4" stroke="#666" stroke-width="0.4"/>
<text x="22.7" y="145.6" font-size="3.6" font-family="'Liberation Sans',sans-serif" fill="#444" text-anchor="end">0</text>
<line x1="23.2" y1="156.4" x2="24.2" y2="156.4" stroke="#666" stroke-width="0.4"/>
<text x="22.7" y="157.6" font-size="3.6" font-family="'Liberation Sans',sans-serif" fill="#444" text-anchor="end">-1000</text>
<path d="M52.7 137.7h0M45 131.4h0M50.1 122h0M66.2 134.1h0M51.7 132.3h0M60.5 129.4h0M56.4 118.5h0M49.2 120h0M42 106.2h0M39.8 117.1h0M50.7 121.8h0M52.5 113.1h0M51.4 127.5h0M57.6 120.3h0M49 105.2h0M48.2 105.2h0M41.4 130.6h0M35.5 124.8h0M54.5 123.8h0M55.4 132.2h0M59.8 127.2h0M47.6 117.5h0M44.6 121.4h0M46.1 132.7h0M38 108.1h0M44.9 105.2h0M66.3 109.8h0M49.9 119.4h0M64.4 112.8h0M60 122.6h0M50.8 118.5h0M56.8 117.1h0M51.4 128.6h0M65.8 109.6h0M63.4 140.2h0M48.4 126.6h0M48.5 139.4h0M53.6 124.2h0M50.3 122.7h0M50.7 116.5h0M67.4 115.1h0M25.2 110.8h0M50.9 128.5h0M50.5 123.3h0M54.5 135.9h0M48.6 120.3h0M66.6 137.8h0M44.6 143.9h0M57.8 122.8h0M43.2 123.9h0M45.8 112.3h0M42.3 115.8h0M60.3 125.5h0M41.1 126.4h0M52.5 133.8h0M61 128.4h0M50.9 124.5h0M43.5 127.6h0M62.3 132.3h0M50.2 122.1h0M46.1 114.9h0M49 116h0M48.7 108.9h0M54.6 127.3h0M43.4 105.2h0M51.9 136h0M46.5 118.2h0M47.7 129.6h0M45.1 131.4h0M49.7 133.1h0M52.2 123.4h0M40.9 113.4h0M50 130.8h0M53.8 119.8h0M55.1 136.4h0M50.9 120.8h0M49 131.7h0M56 118.7h0M54.8 122.3h0M46.4 134.5h0M58.2 121.7h0M52.6 130.6h0M47.2 122h0M57 111h0M54.5 133.7h0M55.8 114.6h0M54.4 118.5h0M56.3 133.4h0M53.6 119h0M47.6 131.4h0M45.3 126.8h0M55.8 124.8h0M70 135.1h0M68.1 114.4h0M35.2 126.4h0M56.8 124.9h0M51.6 107.2h0M47.3 113.3h0M50.3 133.1h0M52.4 129.2h0M46.8 118.7h0M52.8 123.2h0M61.5 121.9h0M66.2 123.3h0M59.9 122.1h0M64.4 133h0M55 134.1h0M47.2 113.2h0M36.8 129.5h0M46.8 117.3h0M51.8 144.3h0M39 121.4h0M49 129.1h0M38.5 115h0M58.3 143.5h0M64 123.4h0M52.4 124.7h0M41.7 106.7h0M57.7 130.7h0M50.9 136.5h0M44.5 126.7h0M52.1 125h0M55.7 129h0M54 129h0M66.5 129.8h0M59.6 135.1h0M49.4 131.7h0M45.6 133.3h0M45.9 117.8h0M54.4 134.6h0M58.8 137.4h0M50.4 115.6h0M56.1 130.4h0M44.9 131.2h0M53.5 117.1h0M55.3 114.6h0M45.4 126h0M40.3 120h0M41.9 127.4h0M46.5 124.5h0M40.7 116.6h0M59.1 133.4h0M38.2 127.4h0M58.7 125.3h0M62.6 120.8h0M51.4 135.8h0M61.8 142.6h0M43.8 105.2h0M54.9 113.4h0M51 112.8h0M60 137.1h0M56.2 127.7h0M52.3 122.8h0M54.9 129.3h0M55.4 123.1h0M66.2 135.3h0M62.5 143.4h0M45.4 106.2h0M61.4 126.5h0M52.6 123.3h0M53 114.7h0M51.2 120.7h0M51.9 105.2h0M58.2 131.7h0M39 112h0M52.2 131.6h0M52 138.6h0M52.2 116.1h0M46.9 130h0M47.4 131.2h0M59.7 134.9h0M59.6 127.7h0M51.9 119.8h0M47.4 108.3h0M47.8 113.2h0M41.3 121.5h0M55.4 124h0M62.3 139.6h0M59.8 123.7h0M40.8 125.2h0M54.3 133.6h0M55.1 139h0M49.8 130.8h0M45.3 105.2h0M48.7 138.1h0M39.4 128.9h0M46.9 119.2h0M52.3 127.7h0M44.7 123h0M55.3 135.1h0M46.3 137.4h0M66.3 155.6h0M41.9 122.1h0M38.1 122.1h0M56.2 116.7h0M40.1 121.3h0M56.7 120.3h0M50 105.2h0M46.7 124.2h0M53.1 141.1h0M43.4 105.2h0M55.4 121.6h0M54.1 133.4h0M56.5 141.5h0M62.1 114.8h0M51.5 144.3h0M48.9 133.2h0M51.6 121.3h0M63.9 141.3h0M50.2 133.2h0M42.1 113.7h0M58.8 129.3h0M44 125.8h0M54.5 138.9h0M59.2 126.5h0M48.4 122.4h0M50.3 138.5h0M63.9 144.3h0M54.8 124.6h0M58.8 125.6h0M53.8 110.6h0M48.8 137.6h0M44.3 107.5h0M50.8 140.7h0M62.9 127.5h0M48.4 122.7h0M45 122.3h0M49.7 110.3h0M47.7 120.9h0M45.5 111.6h0M58.8 146.9h0M49.8 120.4h0M55.8 125.2h0M46.1 135.8h0M44.2 114.6h0M47 114.6h0M50.2 130.1h0M62.8 137.2h0M52.3 113.7h0M51.5 116.3h0M51.3 134.4h0M53.5 124.3h0M46.4 122.5h0M52.8 117.1h0M48.2 132h0M39.5 115.1h0M43.2 135.8h0M56.5 132.7h0M55 129.7h0M54.2 111.5h0M53.9 132.1h0M41.3 128h0M57 113.5h0M48.5 120.8h0M48 127.2h0M42.4 118.6h0M53.7 133.2h0M52.4 123.4h0M57.2 109.2h0M59 126.1h0M42.6 116.7h0M38.2 105.2h0M49.5 116.9h0M57.5 119.8h0M42.3 111.5h0M64.9 132.2h0M47.4 113.8h0M43.8 119.8h0M55.2 138h0M60.6 132.4h0M47.1 114.9h0M34.6 107.1h0M55.2 123.9h0M54.8 114.1h0M58.7 131.7h0M52.3 129.5h0M35.2 111.8h0M45.3 139.4h0M50.6 120h0M58.4 118.7h0M62.7 124.2h0M51.6 116.6h0M58.1 107.9h0M57.2 120.3h0M52.4 114.8h0M53.7 128.1h0M56.4 130.7h0M56.7 137.3h0M49.1 112.8h0M42.4 127.2h0M49.2 134.1h0M52.3 116.1h0M58.8 147.3h0M50.6 115.9h0M45.7 130.8h0M47.6 119.5h0M57.1 128.2h0M52.9 120.8h0M47.2 124.7h0M53.2 131.7h0M48.3 126.9h0M55.6 128.1h0M56.3 137.2h0M53.5 127h0M44.7 125h0M51.3 122.2h0M45.8 127.9h0M71.2 139.2h0M52.6 130h0M47.6 124.2h0M47 116.9h0M53.7 128.5h0M51.2 117.5h0M54 116.2h0M57.8 125.1h0M52 133h0M56.2 115.3h0M50.1 128.1h0M43.8 105.2h0M51.5 124.8h0M55.2 127.9h0M53 128.3h0M62.3 135.3h0M56.1 123.8h0M60.4 127.9h0M57.5 108.2h0M53.8 125.5h0M48.5 136h0M55 125.7h0M48.1 141.3h0M57.6 134.5h0M46.3 135h0M56.2 125h0M51.2 109.7h0M56.9 117.6h0M58.3 124.5h0M47.3 126.7h0M53.6 115.6h0M51.4 131h0M50.1 111.8h0M50.2 115.5h0M47.7 123.8h0M51.6 123.3h0M39.6 122.6h0M50.5 120.9h0M53.2 144.3h0M42.4 105.5h0M57.7 120.9h0M61.7 121h0M48.4 131.6h0M58.8 133.1h0M55.4 126h0M48.7 121.9h0M61.5 136.9h0M52.1 128.6h0M58.2 139.8h0M51 124.3h0M54.5 151.4h0M53.8 138.4h0M40.6 127.8h0" stroke="#3394db" stroke-width="1.8" stroke-linecap="round" fill="none"/>
<polygon points="26.3,106.7 55.2,127.5 84.1,145.7 84.1,150.5 55.2,129.7 26.3,111.5" fill="#999999" opacity="0.55"/>
<line x1="26.3" y1="109.1" x2="84.1" y2="148.1" stroke="#d9544c" stroke-width="0.9"/>
<text x="85.5" y="148.1" font-size="3.7" font-family="'Liberation Serif',serif" fill="#222" text-anchor="end">Spearman</text>
<text x="85.5" y="151.8" font-size="3.7" font-family="'Liberation Serif',serif" fill="#222" text-anchor="end">r = -0.538</text>
<text x="85.5" y="155.6" font-size="3.7" font-family="'Liberation Serif',serif" fill="#222" text-anchor="end">ρ < 0.001</text>
<text x="15.3" y="130.8" font-size="7.6" font-family="'Liberation Serif',serif" fill="#222" text-anchor="middle" transform="rotate(-90 15.3 130.8)" textLength="36.5" lengthAdjust="spacingAndGlyphs">Immune score</text>
<rect x="104.2" y="103.8" width="61" height="53.8" fill="#fff" stroke="#a0a0a0" stroke-width="0.8"/>
<line x1="107.5" y1="103.8" x2="107.5" y2="157.6" stroke="#ececec" stroke-width="0.5"/>
<line x1="123" y1="103.8" x2="123" y2="157.6" stroke="#ececec" stroke-width="0.5"/>
<line x1="138.5" y1="103.8" x2="138.5" y2="157.6" stroke="#ececec" stroke-width="0.5"/>
<line x1="154" y1="103.8" x2="154" y2="157.6" stroke="#ececec" stroke-width="0.5"/>
<line x1="104.2" y1="106.5" x2="165.2" y2="106.5" stroke="#ececec" stroke-width="0.5"/>
<line x1="104.2" y1="119.2" x2="165.2" y2="119.2" stroke="#ececec" stroke-width="0.5"/>
<line x1="104.2" y1="131.8" x2="165.2" y2="131.8" stroke="#ececec" stroke-width="0.5"/>
<line x1="104.2" y1="144.5" x2="165.2" y2="144.5" stroke="#ececec" stroke-width="0.5"/>
<line x1="104.2" y1="157" x2="165.2" y2="157" stroke="#ececec" stroke-width="0.5"/>
<line x1="115.2" y1="103.8" x2="115.2" y2="157.6" stroke="#f4f4f4" stroke-width="0.4"/>
<line x1="130.8" y1="103.8" x2="130.8" y2="157.6" stroke="#f4f4f4" stroke-width="0.4"/>
<line x1="146.2" y1="103.8" x2="146.2" y2="157.6" stroke="#f4f4f4" stroke-width="0.4"/>
<line x1="107.5" y1="157.6" x2="107.5" y2="158.6" stroke="#666" stroke-width="0.4"/>
<text x="107.5" y="161.6" font-size="3.6" font-family="'Liberation Sans',sans-serif" fill="#444" text-anchor="middle">-2</text>
<line x1="123" y1="157.6" x2="123" y2="158.6" stroke="#666" stroke-width="0.4"/>
<text x="123" y="161.6" font-size="3.6" font-family="'Liberation Sans',sans-serif" fill="#444" text-anchor="middle">-1</text>
<line x1="138.5" y1="157.6" x2="138.5" y2="158.6" stroke="#666" stroke-width="0.4"/>
<text x="138.5" y="161.6" font-size="3.6" font-family="'Liberation Sans',sans-serif" fill="#444" text-anchor="middle">0</text>
<line x1="154" y1="157.6" x2="154" y2="158.6" stroke="#666" stroke-width="0.4"/>
<text x="154" y="161.6" font-size="3.6" font-family="'Liberation Sans',sans-serif" fill="#444" text-anchor="middle">1</text>
<line x1="103.2" y1="106.5" x2="104.2" y2="106.5" stroke="#666" stroke-width="0.4"/>
<text x="102.7" y="107.7" font-size="3.6" font-family="'Liberation Sans',sans-serif" fill="#444" text-anchor="end">2000</text>
<line x1="103.2" y1="119.2" x2="104.2" y2="119.2" stroke="#666" stroke-width="0.4"/>
<text x="102.7" y="120.4" font-size="3.6" font-family="'Liberation Sans',sans-serif" fill="#444" text-anchor="end">1000</text>
<line x1="103.2" y1="131.8" x2="104.2" y2="131.8" stroke="#666" stroke-width="0.4"/>
<text x="102.7" y="133" font-size="3.6" font-family="'Liberation Sans',sans-serif" fill="#444" text-anchor="end">0</text>
<line x1="103.2" y1="144.5" x2="104.2" y2="144.5" stroke="#666" stroke-width="0.4"/>
<text x="102.7" y="145.7" font-size="3.6" font-family="'Liberation Sans',sans-serif" fill="#444" text-anchor="end">-1000</text>
<line x1="103.2" y1="157" x2="104.2" y2="157" stroke="#666" stroke-width="0.4"/>
<text x="102.7" y="158.2" font-size="3.6" font-family="'Liberation Sans',sans-serif" fill="#444" text-anchor="end">-2000</text>
<path d="M132.3 134h0M128.8 132.4h0M138.5 134.8h0M142.9 124.7h0M132.5 124.1h0M126.5 127.3h0M133.5 133.9h0M135.6 149.7h0M138 117.7h0M133.4 125h0M128.4 140.4h0M130.4 113.1h0M134.2 128h0M123.8 120.5h0M127.6 128.9h0M129 130h0M144.9 125.8h0M126.3 126.8h0M139.7 125.5h0M142 120.9h0M124.8 128.1h0M126 123.5h0M135.2 136.8h0M132.8 127.8h0M141.4 135.3h0M130.4 140h0M125.7 130.1h0M136.6 130.8h0M128 132.2h0M128.2 124.2h0M124.8 139.7h0M128.2 139h0M134.7 128.3h0M136.7 133.2h0M132.9 118.5h0M132.5 137.7h0M135.4 139.1h0M142.4 135.6h0M145.8 119.9h0M130.3 108.2h0M137.7 131.9h0M143.8 129.3h0M117.8 138h0M122.6 117.3h0M130.8 135.1h0M128.4 130.9h0M118.8 142.1h0M131.5 130.9h0M136.1 132.3h0M133.4 122.4h0M131.2 133.6h0M139.3 130.4h0M132.6 133h0M136 132.6h0M130.2 125.3h0M139.9 134.1h0M132.1 156.6h0M138.2 138.5h0M133.1 121.6h0M140 130.8h0M132.4 138.8h0M139.1 133.5h0M132.1 147.9h0M136 122.1h0M137.3 132.3h0M132.2 135.8h0M133.6 147.4h0M133.4 132.4h0M140.1 126.8h0M139.1 130.9h0M140.3 124.4h0M134.9 117h0M128.9 129.5h0M135.5 147.5h0M144.9 121.2h0M126.7 139.6h0M135.1 119h0M135.4 121.1h0M126 118.1h0M130.2 148.7h0M134.6 129.6h0M149.6 129.6h0M131 127.6h0M134.9 128h0M142.2 129.6h0M135.9 132.7h0M126 120.5h0M131.6 110.5h0M132.1 130.7h0M133 129.6h0M134.5 127.5h0M136.5 117.1h0M138.4 123.8h0M135.4 126.7h0M129 122.7h0M141.4 122.7h0M123.6 130.2h0M133.8 130.7h0M125.3 123.1h0M138.3 122.5h0M136.3 137h0M132.9 119.9h0M145.3 133.7h0M133.4 127.1h0M125.4 126.4h0M133.4 123.1h0M132.8 139.9h0M135.1 129.8h0M139.3 139.3h0M138.3 124.5h0M119.3 134.2h0M132.4 127h0M135.4 126.9h0M127.7 144.4h0M120.9 134.9h0M139.1 146.4h0M133.8 134.7h0M125.6 129h0M117.4 122.3h0M131.8 129.1h0M128.7 139.2h0M120.9 128.9h0M129.2 129.8h0M132.4 146.6h0M124.6 139.9h0M141.8 130.9h0M127.7 118.7h0M126 146.1h0M116.9 130.8h0M127.2 145.1h0M134.2 119h0M128.4 130.9h0M132.9 122.2h0M130 125.7h0M135.4 133h0M133.6 125.4h0M137.5 126.4h0M126.2 125.2h0M129.8 127h0M118.6 138.8h0M136.4 142.1h0M129.3 135.8h0M133.4 130.5h0M144.5 127.5h0M136 116.2h0M135.9 129.3h0M124.9 123.6h0M117.2 118.1h0M133.2 107.9h0M139.5 139.8h0M126.8 116.4h0M122.3 117.2h0M126.8 147.4h0M124.1 134.8h0M140.7 123.7h0M130.1 135.4h0M127.4 139.7h0M147 132.6h0M126.3 133.9h0M134.4 124.1h0M131 130.5h0M135.5 140.4h0M128.6 118.3h0M120.7 143.5h0M129.1 126h0M149.2 142.9h0M147.7 131.7h0M127.2 124.6h0M136.5 134.5h0M134.8 149.8h0M141.5 122.7h0M135.1 135.7h0M126.8 148.6h0M138.4 144.1h0M128.3 119.6h0M137.3 129.4h0M127.9 128.4h0M133.5 131.5h0M130.6 133.7h0M152.3 144.1h0M128.4 146.6h0M128.6 116.2h0M122.3 110.7h0M140.1 122.2h0M122 123.2h0M130.5 119.1h0M127.9 129.1h0M136.5 122.8h0M135.9 132.9h0M135.8 126.1h0M123.8 136.5h0M136 125h0M126.4 134.7h0M146.1 135.9h0M149.6 136.1h0M134.3 134.5h0M139.6 118.6h0M133 140.9h0M121 129.8h0M137.2 145.6h0M143 131.9h0M146.5 123.4h0M122.1 139.4h0M136.7 121.2h0M139.6 138.9h0M137.1 127.2h0M123 113.7h0M130.4 128.3h0M128.4 124.5h0M138.5 121.5h0M126.7 145.9h0M127.5 123.6h0M139.4 116h0M143.4 121.3h0M126.1 117.8h0M125.2 122.3h0M138.5 130.7h0M141.6 138.5h0M123.2 128.4h0M127.7 125.4h0M132.8 133.3h0M135 112.4h0M130.9 125.8h0M145 130.5h0M131.7 129.9h0M137.4 121.2h0M131 128.7h0M131.8 127.7h0M128.1 129.9h0M122.6 141.9h0M131.9 114.3h0M129.9 137.6h0M130.5 128.3h0M115.8 138.8h0M132.4 113.1h0M128.8 141.8h0M134.6 117.6h0M128 131.2h0M146.5 134.9h0M137.1 128.2h0M132.3 121.4h0M122.6 116.4h0M127.8 139.8h0M131.7 140.1h0M137.4 132.3h0M128.4 147.6h0M139.9 142.2h0M149.5 146.4h0M133.6 133.5h0M135.9 150h0M124.8 113h0M128.6 129.3h0M127.8 137.1h0M136.2 130.5h0M132.5 146.5h0M146.1 147.7h0M129.4 140h0M123.9 112.7h0M144.1 140h0M136.8 143.2h0M143.8 134.8h0M134 135.6h0M138.1 132.8h0M122.6 149.5h0M126.8 123.9h0M136.3 130.5h0M135.8 151.5h0M142.1 128.2h0M134.4 130.1h0M141 124.2h0M125.4 114.4h0M135.7 134.2h0M137.2 138.4h0M123.6 125.3h0M124.5 139.2h0M138.2 119.1h0M135.9 131.9h0M133 136.4h0M127.9 126.7h0M127.4 123.6h0M124.8 138.6h0M136.3 129h0M120.6 147.3h0M132.4 132h0M136.7 145.8h0M130.1 109.7h0M130 129.6h0M128.1 141.9h0M129 132.3h0M126.5 135.6h0M127.3 136.3h0M133.1 131.8h0M134.4 117h0M129 131.5h0M129.5 139.9h0M138.3 125.3h0M140.4 130h0M136.1 141.5h0M124.3 121.7h0M131.8 128.1h0M120.4 133.6h0M133.3 132.2h0M134.3 136.8h0M126.4 131.8h0M129.2 125.6h0M126.1 139.3h0M115 120.7h0M137 128.4h0M127.6 138.2h0M125.6 126.5h0M135 126.3h0M128.5 130.1h0M139 123.7h0M135.9 130.4h0M129.7 118.4h0M144.3 137.5h0M134 127.9h0M143.5 127h0M125.1 122.1h0M131.8 132.9h0M118.1 129.8h0M134 139.7h0M129.8 142.3h0M146.2 128.4h0M130.3 138.2h0M140.6 131.9h0M140.2 118.6h0M138.7 135.3h0M138.4 135.6h0M136.9 127.4h0M141.9 114.5h0M134 125.2h0M145.8 123.3h0M133 130.2h0M137.8 131.3h0M124.7 127.5h0M140.4 138.3h0M127.1 118.6h0M123.2 127.5h0M131.1 126.9h0M128.5 131.1h0M141.4 140.6h0M129.1 136.3h0M130.4 140.8h0M139.4 139.7h0M147.8 142.2h0M138.6 143.4h0M124.9 126.1h0M129.8 137.1h0M132.5 119.7h0M126.9 127.5h0M129 125.7h0M121.9 129.3h0M123.1 125.2h0M127.8 126.8h0M142.2 128.7h0M129.3 108.5h0M126 131.1h0M130 136.6h0M130.1 136.7h0" stroke="#3394db" stroke-width="1.8" stroke-linecap="round" fill="none"/>
<polygon points="105.5,119.1 134.8,129.9 164,138.1 164,142.9 134.8,132.1 105.5,123.9" fill="#999999" opacity="0.55"/>
<line x1="105.5" y1="121.5" x2="164" y2="140.5" stroke="#d9544c" stroke-width="0.9"/>
<text x="164" y="148.3" font-size="3.7" font-family="'Liberation Serif',serif" fill="#222" text-anchor="end">Spearman</text>
<text x="164" y="152" font-size="3.7" font-family="'Liberation Serif',serif" fill="#222" text-anchor="end">r = -0.538</text>
<text x="164" y="155.8" font-size="3.7" font-family="'Liberation Serif',serif" fill="#222" text-anchor="end">ρ < 0.001</text>
<text x="94.2" y="130.7" font-size="7.6" font-family="'Liberation Serif',serif" fill="#222" text-anchor="middle" transform="rotate(-90 94.2 130.7)" textLength="36" lengthAdjust="spacingAndGlyphs">Stromal score</text>
<rect x="181.4" y="104" width="65.3" height="53.9" fill="#fff" stroke="#a0a0a0" stroke-width="0.8"/>
<line x1="185.5" y1="104" x2="185.5" y2="157.9" stroke="#ececec" stroke-width="0.5"/>
<line x1="201.5" y1="104" x2="201.5" y2="157.9" stroke="#ececec" stroke-width="0.5"/>
<line x1="217.5" y1="104" x2="217.5" y2="157.9" stroke="#ececec" stroke-width="0.5"/>
<line x1="233.5" y1="104" x2="233.5" y2="157.9" stroke="#ececec" stroke-width="0.5"/>
<line x1="181.4" y1="104.5" x2="246.7" y2="104.5" stroke="#ececec" stroke-width="0.5"/>
<line x1="181.4" y1="117.5" x2="246.7" y2="117.5" stroke="#ececec" stroke-width="0.5"/>
<line x1="181.4" y1="130.5" x2="246.7" y2="130.5" stroke="#ececec" stroke-width="0.5"/>
<line x1="181.4" y1="143.5" x2="246.7" y2="143.5" stroke="#ececec" stroke-width="0.5"/>
<line x1="181.4" y1="156.5" x2="246.7" y2="156.5" stroke="#ececec" stroke-width="0.5"/>
<line x1="193.5" y1="104" x2="193.5" y2="157.9" stroke="#f4f4f4" stroke-width="0.4"/>
<line x1="209.5" y1="104" x2="209.5" y2="157.9" stroke="#f4f4f4" stroke-width="0.4"/>
<line x1="225.5" y1="104" x2="225.5" y2="157.9" stroke="#f4f4f4" stroke-width="0.4"/>
<line x1="185.5" y1="157.9" x2="185.5" y2="158.9" stroke="#666" stroke-width="0.4"/>
<text x="185.5" y="161.9" font-size="3.6" font-family="'Liberation Sans',sans-serif" fill="#444" text-anchor="middle">-2</text>
<line x1="201.5" y1="157.9" x2="201.5" y2="158.9" stroke="#666" stroke-width="0.4"/>
<text x="201.5" y="161.9" font-size="3.6" font-family="'Liberation Sans',sans-serif" fill="#444" text-anchor="middle">-1</text>
<line x1="217.5" y1="157.9" x2="217.5" y2="158.9" stroke="#666" stroke-width="0.4"/>
<text x="217.5" y="161.9" font-size="3.6" font-family="'Liberation Sans',sans-serif" fill="#444" text-anchor="middle">0</text>
<line x1="233.5" y1="157.9" x2="233.5" y2="158.9" stroke="#666" stroke-width="0.4"/>
<text x="233.5" y="161.9" font-size="3.6" font-family="'Liberation Sans',sans-serif" fill="#444" text-anchor="middle">1</text>
<line x1="180.4" y1="104.5" x2="181.4" y2="104.5" stroke="#666" stroke-width="0.4"/>
<text x="179.9" y="105.7" font-size="3.6" font-family="'Liberation Sans',sans-serif" fill="#444" text-anchor="end">1.0</text>
<line x1="180.4" y1="117.5" x2="181.4" y2="117.5" stroke="#666" stroke-width="0.4"/>
<text x="179.9" y="118.7" font-size="3.6" font-family="'Liberation Sans',sans-serif" fill="#444" text-anchor="end">0.8</text>
<line x1="180.4" y1="130.5" x2="181.4" y2="130.5" stroke="#666" stroke-width="0.4"/>
<text x="179.9" y="131.7" font-size="3.6" font-family="'Liberation Sans',sans-serif" fill="#444" text-anchor="end">0.6</text>
<line x1="180.4" y1="143.5" x2="181.4" y2="143.5" stroke="#666" stroke-width="0.4"/>
<text x="179.9" y="144.7" font-size="3.6" font-family="'Liberation Sans',sans-serif" fill="#444" text-anchor="end">0.4</text>
<line x1="180.4" y1="156.5" x2="181.4" y2="156.5" stroke="#666" stroke-width="0.4"/>
<text x="179.9" y="157.7" font-size="3.6" font-family="'Liberation Sans',sans-serif" fill="#444" text-anchor="end">0.2</text>
<path d="M205.2 121.9h0M219 105h0M212.9 107h0M222.3 126.9h0M224.2 118.9h0M217 124.6h0M208.5 133.2h0M204.6 130.2h0M219.2 127h0M210.9 152.4h0M214.4 122.9h0M215.2 123.2h0M211.1 126.9h0M229.2 121.6h0M215.3 135.1h0M229.1 119.2h0M209.3 156.1h0M203.1 130.8h0M219 149.3h0M206.9 108.3h0M219 121.3h0M211.1 135.1h0M215.7 131.1h0M210.8 143.5h0M225.3 123.7h0M210.6 138h0M217.6 116.8h0M210.5 141.2h0M213.3 126.1h0M215.6 127.9h0M214 109.7h0M227.1 124.4h0M207.4 142.1h0M216.3 128h0M221.9 147.7h0M218.2 142.8h0M230.2 110.7h0M210.1 138.7h0M201.2 132.7h0M223.7 134.6h0M218.3 107.9h0M231.6 125.7h0M219.8 131.1h0M201.1 121.1h0M204.9 152.7h0M207.8 129.7h0M212.1 135.7h0M217.8 129.8h0M204.5 105h0M215.2 131.1h0M223.2 123.4h0M209.4 135.4h0M202.3 124.4h0M206.5 135.7h0M229.7 128.8h0M222.6 127.1h0M216.1 123.5h0M211.9 105.8h0M205 120.6h0M220.3 132.5h0M222.6 140.3h0M211.7 140.7h0M228.7 121.6h0M222.2 123.3h0M201.9 136.2h0M207.8 133.2h0M210.5 133.9h0M198 156.9h0M224.2 120.4h0M207.2 132.4h0M219.1 130.7h0M217 107.8h0M205.5 146.7h0M215.8 112.9h0M207.5 117.8h0M206.3 144.6h0M212.3 141.1h0M215.4 113.1h0M209.1 154.7h0M208.2 121.3h0M223.4 125.2h0M214 143.9h0M200.6 140h0M205.9 118.7h0M207.8 143.8h0M212.9 110.8h0M205.5 148.8h0M221.8 113.9h0M232.6 116h0M204.9 132.2h0M221.2 141.9h0M221.9 120.7h0M209.7 116.3h0M213.4 123.2h0M215.9 115.1h0M210 122h0M204.8 121.5h0M206.2 120.8h0M218.4 127.8h0M203.9 139.3h0M216.2 142.8h0M212.5 127.6h0M208.7 132.9h0M217.8 128.9h0M212.1 135.7h0M214.7 131.2h0M206.8 134.7h0M206.4 124.2h0M215.2 149.9h0M221.6 125.2h0M212.6 139.8h0M224.6 136.2h0M212.6 131.6h0M211.5 127.3h0M207.4 129.7h0M197.5 125h0M217.3 117.9h0M218.1 113.7h0M211.2 134.5h0M206 125.7h0M233 112.5h0M208.6 125.8h0M214.3 128.6h0M221.5 133.3h0M210.9 126.9h0M203.1 119.1h0M208.3 139.3h0M214.9 136.7h0M221.2 123.7h0M230.1 115.6h0M209.2 127h0M222.7 123.2h0M208.3 136.3h0M222.7 123.5h0M212.1 141.1h0M221.5 134.9h0M208.1 134.8h0M216.8 109.3h0M223.2 125.4h0M211.4 153.4h0M215.1 121.1h0M213.5 135h0M220.2 125.3h0M207.4 125.2h0M207.7 121.4h0M213.8 124.1h0M214.4 120.4h0M207.4 130.4h0M211.3 142.1h0M207.1 134.6h0M213.7 115.8h0M219.6 127.9h0M197.9 143.2h0M221.2 117.3h0M227 124.1h0M205.2 139.2h0M211.2 116.7h0M197.6 139.7h0M208.4 138.4h0M217 122.2h0M209.9 149.1h0M227.1 130.1h0M211.3 120.4h0M211 147.4h0M217.5 124.3h0M204.6 135.4h0M207.3 132.5h0M219.7 137.1h0M215.1 125h0M215.7 146.5h0M216.9 113.3h0M225.9 125.6h0M240.6 110.9h0M213.3 126.3h0M216.9 121.7h0M202.7 115.1h0M213.1 124.2h0M209.6 152.8h0M220.1 137.1h0M210.2 134h0M212.4 127.7h0M219.7 132.3h0M216.3 129.3h0M203 127h0M216.9 123.8h0M208.1 135.6h0M207 125.7h0M220.7 122h0M224.9 128.9h0M220.2 137.4h0M197.5 136.4h0M204.2 129.2h0M213.2 142h0M213.7 145.8h0M210 130.4h0M214.7 138.2h0M213.6 122.9h0M211.5 116h0M223.6 131.8h0M217.3 130.2h0M209.4 127.2h0M220.1 117.9h0M208.1 148h0M225.8 126h0M218 128.9h0M224.8 119.1h0M214.6 133.6h0M224.9 121h0M215.8 123.2h0M209 124.9h0M214.6 137.6h0M208.8 125.6h0M210.9 134.1h0M219.3 113.7h0M216.7 117.6h0M219.4 116.6h0M205.8 125.9h0M213.5 119.2h0M215.6 129.7h0M214.6 131.4h0M220.6 118.4h0M214 128.7h0M198.5 140.6h0M208.2 124.7h0M210.6 131.7h0M216.5 132.6h0M208.8 138.6h0M217.1 123.5h0M213.8 137.1h0M217.3 134.4h0M214.8 140h0M230.7 125.2h0M202 152.3h0M209.7 117.3h0M196.2 142.2h0M222.2 134.9h0M211.1 144.9h0M213.4 123.4h0M214.5 130.9h0M214.4 132.8h0M197.6 152.9h0M209.7 137.6h0M208 133.6h0M212.7 113.8h0M216.9 133.9h0M205.6 112.2h0M209.2 123h0M214.8 128.4h0M226.1 129.4h0M212.1 131.6h0M192.4 130.8h0M207.1 131.4h0M216.4 129.9h0M221 118.6h0M216.3 126.5h0M214.1 132.2h0M211.9 132.2h0M213.7 139.4h0M213.2 132.5h0M233.5 125.5h0M217.8 137.8h0M206.5 139.9h0M219.6 130.6h0M221.3 133.2h0M222.9 118.1h0M217.2 121.9h0M223.3 125.7h0M204.3 135h0M206.5 142.6h0M211.5 108.4h0M211.1 140.7h0M216.5 121.5h0M218.8 132.3h0M225 132.5h0M216.7 119.8h0M216.1 130.9h0M214.1 133.1h0M205.1 139.1h0M214.1 132.5h0M213.3 126.4h0M215.9 135.9h0M211.6 133.4h0M208.3 136h0M214.1 116.2h0M222.7 115.8h0M214.6 115.6h0M201.1 142h0M203.6 113.6h0M212.4 114.4h0M212.5 147.9h0M211.1 134h0M218.2 129.4h0M213.1 144.4h0M213.4 132.8h0M214.8 115.9h0M216.4 128.4h0M218.8 133.4h0M225.7 105h0M209.9 126.4h0M207.6 136.3h0M213.4 130.7h0M201.9 125.6h0M213.5 124.8h0M209.5 130.1h0M211.9 119.5h0M226.4 116.1h0M218.8 132.5h0M221.2 119.8h0M206.6 137h0M215.9 105h0M194.6 133.3h0M211.1 127.8h0M217.1 117.9h0M233.6 128.1h0M223.6 126.9h0M198.6 139h0M209.9 135.4h0M213.1 136h0M207.5 128.7h0M214 121.5h0M210.6 136.8h0M228.3 119.8h0M220.1 114.7h0M210.6 133.9h0M218.3 116.8h0M218.4 128.2h0M223.7 133.4h0M218 123.1h0M215.9 119.6h0M207.9 113.9h0M204.4 121.3h0M213.2 130.4h0M204.1 133h0M217 136.6h0M213.3 131.5h0M211.2 139.5h0M202.4 137.1h0M196.8 154.4h0M220.8 105h0M210.1 117h0M200.9 131.4h0M207.4 142.5h0M210.1 120h0M213.4 133.3h0M220 130.9h0M202.9 126.4h0M212.6 121.4h0M219.4 122.8h0M213.4 125.5h0M214.2 114h0M229.4 115.6h0M208.5 114.1h0M213.3 115.7h0M216.3 139.5h0M218.4 122.3h0M223.3 122.4h0M213.5 129.7h0M210.4 134.8h0M204.8 116h0M222.7 117.3h0" stroke="#3394db" stroke-width="1.8" stroke-linecap="round" fill="none"/>
<polygon points="183.7,140.3 214.4,124.5 245.2,106.2 245.2,111 214.4,126.7 183.7,145.1" fill="#999999" opacity="0.55"/>
<line x1="183.7" y1="142.7" x2="245.2" y2="108.6" stroke="#d9544c" stroke-width="0.9"/>
<text x="245.5" y="148.6" font-size="3.7" font-family="'Liberation Serif',serif" fill="#222" text-anchor="end">Spearman</text>
<text x="245.5" y="152.3" font-size="3.7" font-family="'Liberation Serif',serif" fill="#222" text-anchor="end">r = -0.538</text>
<text x="245.5" y="156.1" font-size="3.7" font-family="'Liberation Serif',serif" fill="#222" text-anchor="end">ρ < 0.001</text>
<text x="173.2" y="130.9" font-size="8" font-family="'Liberation Serif',serif" fill="#222" text-anchor="middle" transform="rotate(-90 173.2 130.9)" textLength="34" lengthAdjust="spacingAndGlyphs">Tumor purity</text>
<rect x="22.4" y="173.8" width="63.8" height="52.9" fill="#fff" stroke="#a0a0a0" stroke-width="0.8"/>
<line x1="26.8" y1="173.8" x2="26.8" y2="226.7" stroke="#ececec" stroke-width="0.5"/>
<line x1="42.5" y1="173.8" x2="42.5" y2="226.7" stroke="#ececec" stroke-width="0.5"/>
<line x1="58.2" y1="173.8" x2="58.2" y2="226.7" stroke="#ececec" stroke-width="0.5"/>
<line x1="74" y1="173.8" x2="74" y2="226.7" stroke="#ececec" stroke-width="0.5"/>
<line x1="22.4" y1="180.8" x2="86.2" y2="180.8" stroke="#ececec" stroke-width="0.5"/>
<line x1="22.4" y1="192.3" x2="86.2" y2="192.3" stroke="#ececec" stroke-width="0.5"/>
<line x1="22.4" y1="203.8" x2="86.2" y2="203.8" stroke="#ececec" stroke-width="0.5"/>
<line x1="22.4" y1="215.3" x2="86.2" y2="215.3" stroke="#ececec" stroke-width="0.5"/>
<line x1="22.4" y1="226.2" x2="86.2" y2="226.2" stroke="#ececec" stroke-width="0.5"/>
<line x1="34.6" y1="173.8" x2="34.6" y2="226.7" stroke="#f4f4f4" stroke-width="0.4"/>
<line x1="50.4" y1="173.8" x2="50.4" y2="226.7" stroke="#f4f4f4" stroke-width="0.4"/>
<line x1="66.1" y1="173.8" x2="66.1" y2="226.7" stroke="#f4f4f4" stroke-width="0.4"/>
<line x1="26.8" y1="226.7" x2="26.8" y2="227.7" stroke="#666" stroke-width="0.4"/>
<text x="26.8" y="230.7" font-size="3.6" font-family="'Liberation Sans',sans-serif" fill="#444" text-anchor="middle">-2</text>
<line x1="42.5" y1="226.7" x2="42.5" y2="227.7" stroke="#666" stroke-width="0.4"/>
<text x="42.5" y="230.7" font-size="3.6" font-family="'Liberation Sans',sans-serif" fill="#444" text-anchor="middle">-1</text>
<line x1="58.2" y1="226.7" x2="58.2" y2="227.7" stroke="#666" stroke-width="0.4"/>
<text x="58.2" y="230.7" font-size="3.6" font-family="'Liberation Sans',sans-serif" fill="#444" text-anchor="middle">0</text>
<line x1="74" y1="226.7" x2="74" y2="227.7" stroke="#666" stroke-width="0.4"/>
<text x="74" y="230.7" font-size="3.6" font-family="'Liberation Sans',sans-serif" fill="#444" text-anchor="middle">1</text>
<line x1="21.4" y1="180.8" x2="22.4" y2="180.8" stroke="#666" stroke-width="0.4"/>
<text x="20.9" y="182" font-size="3.6" font-family="'Liberation Sans',sans-serif" fill="#444" text-anchor="end">0.4</text>
<line x1="21.4" y1="192.3" x2="22.4" y2="192.3" stroke="#666" stroke-width="0.4"/>
<text x="20.9" y="193.5" font-size="3.6" font-family="'Liberation Sans',sans-serif" fill="#444" text-anchor="end">0.3</text>
<line x1="21.4" y1="203.8" x2="22.4" y2="203.8" stroke="#666" stroke-width="0.4"/>
<text x="20.9" y="205" font-size="3.6" font-family="'Liberation Sans',sans-serif" fill="#444" text-anchor="end">0.2</text>
<line x1="21.4" y1="215.3" x2="22.4" y2="215.3" stroke="#666" stroke-width="0.4"/>
<text x="20.9" y="216.5" font-size="3.6" font-family="'Liberation Sans',sans-serif" fill="#444" text-anchor="end">0.1</text>
<line x1="21.4" y1="226.2" x2="22.4" y2="226.2" stroke="#666" stroke-width="0.4"/>
<text x="20.9" y="227.4" font-size="3.6" font-family="'Liberation Sans',sans-serif" fill="#444" text-anchor="end">0.0</text>
<path d="M55 193.6h0M44.8 200h0M62.8 209.7h0M37.7 197.6h0M41.4 205.6h0M49 213.4h0M50 195.7h0M39.2 194h0M54.6 212.7h0M53.1 199.4h0M55 195.9h0M55 200.4h0M63 214.5h0M53.9 198h0M55.4 207.9h0M46.6 196.5h0M61.2 206.1h0M54.5 214h0M39.1 207.9h0M59.1 203.4h0M43.4 190.8h0M58.5 190.5h0M58.5 208.3h0M45.5 196.6h0M48.1 199.9h0M58.1 201.6h0M59.8 214.1h0M49 205.8h0M46.7 200.9h0M55 215h0M50.6 201.8h0M51.3 202h0M42.4 210.4h0M46 196.4h0M45.3 204.3h0M74.7 219.5h0M58.9 209.7h0M50.8 196.4h0M57 205.8h0M67.7 210.6h0M42.9 186.5h0M36.7 199h0M53.8 197h0M38.7 197.9h0M48.1 202.9h0M50.9 197.8h0M37 196h0M51.8 204.7h0M58.6 213.4h0M47 204.6h0M33.5 197.6h0M50.8 209.5h0M59 201.3h0M50 209.8h0M46.6 201h0M46.1 204.1h0M53.4 198.9h0M39.5 182h0M57.9 203.9h0M45.4 196.4h0M43.6 203.3h0M56.1 191.1h0M50.8 203.6h0M48.4 202.2h0M64.5 212.7h0M60.7 214.3h0M38.8 207.8h0M52.7 202.1h0M57.8 215.9h0M44.7 195h0M54 193h0M42 198.3h0M57.1 210.1h0M57.9 214h0M47.5 198.8h0M48.5 199.5h0M60.1 213.9h0M34.3 196.9h0M42.4 190.9h0M61.6 214.9h0M60.6 212.9h0M65.8 203.8h0M57.9 202.4h0M46.1 189.4h0M63.5 216h0M58.2 203.3h0M52.6 196.9h0M48.9 211.9h0M64.2 214.2h0M57.5 205.9h0M54.1 203.7h0M55.1 201.2h0M59.3 206.2h0M52.8 203.2h0M63.6 214.6h0M44.6 193.3h0M55.8 206.5h0M49.2 203.5h0M64.6 210.2h0M62.8 206.5h0M49.2 204.2h0M50.5 199.6h0M42.5 196.1h0M47.8 201.3h0M59.7 211.4h0M60.6 209.9h0M54.8 209.4h0M57 213.2h0M46.7 203.5h0M52.8 212.3h0M58.1 203.4h0M54.6 209.9h0M51.6 211.8h0M53.4 196.1h0M53.7 209.8h0M44.7 204.2h0M28.8 204.1h0M39.8 193.7h0M48.6 192.5h0M53.6 198.6h0M40.3 181.9h0M56.8 214h0M48.9 203.3h0M64.1 213.1h0M60.5 214.3h0M57.2 210.1h0M60.8 210.1h0M52.3 199.2h0M34.4 187.8h0M48.6 208.7h0M48.4 188.7h0M56.8 214.1h0M53.8 206.8h0M53.5 204.2h0M62.7 204.3h0M45.2 190.3h0M47.2 196.5h0M46 201.7h0M59.8 199.2h0M52.3 199.3h0M45.9 197.4h0M54.3 194.5h0M63.6 209.7h0M45.4 189.6h0M60 212.9h0M58.5 208.5h0M65.4 215.9h0M68.8 214.4h0M59.1 205.3h0M52.3 201.9h0M51.7 204.1h0M51.5 203.5h0M52.6 201.5h0M45.6 197.2h0M56.6 211.2h0M60.1 216.6h0M43 204.3h0M40.7 193.6h0M44.7 200.1h0M61.9 215.4h0M54.1 211.4h0M54.8 197.2h0M64.8 207h0M47 200.5h0M43.4 194.7h0M57.4 200.5h0M46 189h0M35.9 196.8h0M54.7 202.9h0M65.1 204.6h0M55.5 200.8h0M51 206.4h0M40.2 206.2h0M50.5 203.2h0M49.9 204.9h0M41.2 189.7h0M54.1 203.5h0M48 203.6h0M63.9 203.6h0M31.3 189.9h0M37.3 193.8h0M43.4 199.2h0M66.4 211.2h0M37.5 188.3h0M42.6 188.9h0M54.9 206.6h0M59.4 213.3h0M50.1 198.8h0M47.1 200.7h0M45.7 189.6h0M70.1 216.3h0M48.9 198.9h0M48.2 204.5h0M48.5 187.3h0M53.3 208h0M40.1 187.5h0M50.4 195.5h0M59.5 213.5h0M37.1 198.4h0M39.3 191.8h0M62 207.6h0M56.4 203.3h0M67.6 212.4h0M76 215.7h0M48.3 202.1h0M49 212.2h0M42.7 204.4h0M63.2 214.8h0M40.4 205.8h0M58.1 214.2h0M43 199.8h0M60.8 209.5h0M53 201.5h0M49.8 202.7h0M72.1 214.1h0M47 194.1h0M54.7 206.5h0M47 189.7h0M66.9 211h0M45.3 201.7h0M43.9 197.4h0M35 190.3h0M29.4 196.2h0M50.5 200.8h0M50.8 193.3h0M50.5 202.4h0M57.8 201.6h0M46.2 199.4h0M52.3 204h0M52.7 209.3h0M52.6 205.7h0M49.2 192h0M55.1 202.3h0M49.5 193.5h0M64.8 215h0M47.8 204.5h0M58.4 215.7h0M52.4 210.1h0M43.8 197.2h0M49.1 199.6h0M41.4 201.3h0M43 192.4h0M49.6 211.4h0M60 206.8h0M41.6 188h0M50.9 208.1h0M57.6 205.7h0M44.1 201.9h0M61 208.3h0M54.8 202.8h0M49 211.1h0M46.1 209h0M47.8 201.1h0M57.6 211.2h0M46.1 199.4h0M51 203.3h0M50.3 208.2h0M42.8 204h0M58.6 199h0M50.6 197.5h0M38.1 196h0M55.7 202.6h0M53.6 204.6h0M34.8 192.6h0M59 214.7h0M40.9 187.3h0M54.1 202.9h0M52.2 200.3h0M56.9 210.8h0M48 201.5h0M50.2 206.5h0M53.4 206.6h0M56.5 206.8h0M47.1 206.8h0M47.2 192.5h0M44 199.5h0M47.1 198h0M52.7 206.8h0M48.9 198.7h0M52.3 209.7h0M40.4 193.3h0M42 193.1h0M57.2 215.5h0M50.3 196h0M42.6 203.5h0M59.4 214h0M57.2 203h0M44.9 199.6h0M57.6 203.3h0M42.9 206.3h0M38.9 206.3h0M41.9 202.5h0M47.4 209.1h0M47.3 201.5h0M54.6 202.6h0M40.3 192.5h0M44 200.2h0M23.4 193.4h0M67.6 213.3h0M43.8 194.3h0M43.6 191.8h0M61.6 193.4h0M43.6 198.3h0M39.6 207.4h0M48 201.6h0M47.6 199.4h0M44.4 207h0M43.5 193.5h0M56.2 198.1h0M65.4 208.9h0M49.8 213.6h0M38.6 208h0M44.9 195h0M58 215.1h0M50.1 203.4h0M51.3 202.5h0M52.9 204.5h0M44.7 192.9h0M32.4 194.1h0M45.7 200.8h0M54.9 205.1h0M56.4 207.5h0M59.2 206.6h0M46.2 205.2h0M41.8 205.8h0M46.8 196.6h0M56.4 214.8h0M42.3 195.2h0M57.7 216.4h0M33.4 190.5h0M45.7 191.8h0M68.5 214.3h0M52.9 202h0M61.5 213.7h0M48.4 197.8h0M54.6 204.9h0M42.7 195.2h0M45.3 208.2h0M38.3 199.9h0M51.1 202.2h0" stroke="#8d8fdf" stroke-width="1.8" stroke-linecap="round" fill="none"/>
<polygon points="24.2,187.8 54.1,205.3 84.1,220.3 84.1,225.1 54.1,207.5 24.2,192.6" fill="#999999" opacity="0.55"/>
<line x1="24.2" y1="190.2" x2="84.1" y2="222.7" stroke="#d9544c" stroke-width="0.9"/>
<text x="85" y="217.4" font-size="3.7" font-family="'Liberation Serif',serif" fill="#222" text-anchor="end">Spearman</text>
<text x="85" y="221.1" font-size="3.7" font-family="'Liberation Serif',serif" fill="#222" text-anchor="end">r = -0.538</text>
<text x="85" y="224.9" font-size="3.7" font-family="'Liberation Serif',serif" fill="#222" text-anchor="end">ρ < 0.001</text>
<text x="14.5" y="200.2" font-size="7.6" font-family="'Liberation Serif',serif" fill="#222" text-anchor="middle" transform="rotate(-90 14.5 200.2)" textLength="36.8" lengthAdjust="spacingAndGlyphs">Immune score</text>
<rect x="100.6" y="173.8" width="65.1" height="52.9" fill="#fff" stroke="#a0a0a0" stroke-width="0.8"/>
<line x1="104.5" y1="173.8" x2="104.5" y2="226.7" stroke="#ececec" stroke-width="0.5"/>
<line x1="121" y1="173.8" x2="121" y2="226.7" stroke="#ececec" stroke-width="0.5"/>
<line x1="137.5" y1="173.8" x2="137.5" y2="226.7" stroke="#ececec" stroke-width="0.5"/>
<line x1="154" y1="173.8" x2="154" y2="226.7" stroke="#ececec" stroke-width="0.5"/>
<line x1="100.6" y1="179.2" x2="165.7" y2="179.2" stroke="#ececec" stroke-width="0.5"/>
<line x1="100.6" y1="193" x2="165.7" y2="193" stroke="#ececec" stroke-width="0.5"/>
<line x1="100.6" y1="206.5" x2="165.7" y2="206.5" stroke="#ececec" stroke-width="0.5"/>
<line x1="100.6" y1="220.3" x2="165.7" y2="220.3" stroke="#ececec" stroke-width="0.5"/>
<line x1="112.8" y1="173.8" x2="112.8" y2="226.7" stroke="#f4f4f4" stroke-width="0.4"/>
<line x1="129.2" y1="173.8" x2="129.2" y2="226.7" stroke="#f4f4f4" stroke-width="0.4"/>
<line x1="145.8" y1="173.8" x2="145.8" y2="226.7" stroke="#f4f4f4" stroke-width="0.4"/>
<line x1="104.5" y1="226.7" x2="104.5" y2="227.7" stroke="#666" stroke-width="0.4"/>
<text x="104.5" y="230.7" font-size="3.6" font-family="'Liberation Sans',sans-serif" fill="#444" text-anchor="middle">-2</text>
<line x1="121" y1="226.7" x2="121" y2="227.7" stroke="#666" stroke-width="0.4"/>
<text x="121" y="230.7" font-size="3.6" font-family="'Liberation Sans',sans-serif" fill="#444" text-anchor="middle">-1</text>
<line x1="137.5" y1="226.7" x2="137.5" y2="227.7" stroke="#666" stroke-width="0.4"/>
<text x="137.5" y="230.7" font-size="3.6" font-family="'Liberation Sans',sans-serif" fill="#444" text-anchor="middle">0</text>
<line x1="154" y1="226.7" x2="154" y2="227.7" stroke="#666" stroke-width="0.4"/>
<text x="154" y="230.7" font-size="3.6" font-family="'Liberation Sans',sans-serif" fill="#444" text-anchor="middle">1</text>
<line x1="99.6" y1="179.2" x2="100.6" y2="179.2" stroke="#666" stroke-width="0.4"/>
<text x="99.1" y="180.4" font-size="3.6" font-family="'Liberation Sans',sans-serif" fill="#444" text-anchor="end">0.3</text>
<line x1="99.6" y1="193" x2="100.6" y2="193" stroke="#666" stroke-width="0.4"/>
<text x="99.1" y="194.2" font-size="3.6" font-family="'Liberation Sans',sans-serif" fill="#444" text-anchor="end">0.2</text>
<line x1="99.6" y1="206.5" x2="100.6" y2="206.5" stroke="#666" stroke-width="0.4"/>
<text x="99.1" y="207.7" font-size="3.6" font-family="'Liberation Sans',sans-serif" fill="#444" text-anchor="end">0.1</text>
<line x1="99.6" y1="220.3" x2="100.6" y2="220.3" stroke="#666" stroke-width="0.4"/>
<text x="99.1" y="221.5" font-size="3.6" font-family="'Liberation Sans',sans-serif" fill="#444" text-anchor="end">0.0</text>
<path d="M130 216h0M130.2 217.9h0M124.6 218.5h0M140.9 216.4h0M140.3 218.1h0M135.2 219h0M118.7 212h0M136.1 216h0M118.5 203.6h0M124.9 216.1h0M134.4 220.4h0M136.2 214.6h0M134.5 217.1h0M126.7 204.4h0M136.5 209.4h0M127 213.7h0M129.2 219.8h0M137.1 218.3h0M128.4 211.7h0M127.8 209.1h0M125.5 218.3h0M135.4 206.6h0M132.4 208.6h0M115.9 216.9h0M131.2 213.2h0M136 220.2h0M120.3 212.4h0M137.4 211.7h0M143.5 216.8h0M133 208.6h0M136.9 214.9h0M128.4 208.8h0M124.3 215.5h0M142.3 201.1h0M120.3 218h0M143.5 214.8h0M116.8 196.1h0M134.9 213.8h0M123 211.2h0M140.8 219h0M134 216.8h0M144.8 214.3h0M136.1 215.5h0M119.5 208h0M139.6 215.5h0M116.2 214h0M138.7 203.4h0M130.5 211.2h0M121.5 205h0M136.4 219.3h0M134.6 214.7h0M133 210.1h0M126.7 216.7h0M140.3 220.2h0M125 211.6h0M143.7 216h0M121 219h0M130.8 218.1h0M143.2 210.5h0M142.1 208.3h0M125.7 214.6h0M141 212.3h0M134.8 219.5h0M133.2 215.5h0M130.6 218.3h0M136.6 220.7h0M138.1 215.2h0M148.1 216.9h0M128.6 217.2h0M131.9 212.2h0M129.3 217.2h0M146.7 195.7h0M123 218.1h0M135.2 218.5h0M128.6 214.6h0M134.3 215.9h0M151.4 216.4h0M127.6 219.8h0M130.2 220.3h0M110.2 215h0M140.1 209.4h0M131.5 211.9h0M138.8 206.4h0M118.4 216.8h0M129.3 214.9h0M140.7 195h0M140.7 206.7h0M137.5 206.5h0M133.4 209.6h0M130.8 219.1h0M138.4 219.3h0M131.3 206.4h0M140.4 217.7h0M154 208.7h0M139.3 218h0M133.1 214.2h0M133.8 214.8h0M119.8 205.9h0M136.9 211.5h0M123.8 206.5h0M142.1 213.3h0M143.8 211.4h0M132 210.2h0M138.1 205.5h0M124.9 205.7h0M139.9 218.8h0M116.2 206.7h0M131.2 215.2h0M135.2 216.9h0M144 210.6h0M141.1 206.3h0M143.6 218.6h0M126 211h0M132.9 219.8h0M143.4 217.8h0M113.6 216.2h0M117.2 212.3h0M134.5 215h0M131.9 213.1h0M132.6 208.4h0M131.5 211.1h0M143.9 205h0M126.6 212.3h0M117 209.8h0M116.3 209.9h0M122.1 220.3h0M130.5 220.6h0M127.3 218.5h0M146.3 219.7h0M136.2 211.2h0M130.4 208.9h0M127.6 210.5h0M118.8 214.5h0M140.1 213h0M132.1 213.3h0M133.3 209.7h0M119.5 214.1h0M139.4 215.2h0M124.8 213.2h0M119.7 219.1h0M122.6 217h0M113.1 216.7h0M126.9 202.2h0M137.8 218h0M114.2 211.6h0M134.3 216.5h0M138.2 213.5h0M137.3 217.6h0M142.7 214.1h0M135.6 201h0M139.2 208.1h0M129.6 216.4h0M147.5 203.3h0M135.8 197.7h0M124.6 214h0M147.1 218.9h0M136.5 212.1h0M124.8 219.7h0M134.3 213h0M131.7 219.1h0M123.9 217.1h0M139.1 219.6h0M125.2 212.6h0M153.3 208.8h0M137.1 196h0M137 216.1h0M145.5 216.1h0M131.5 216h0M116.4 210.2h0M134.6 214.2h0M142.6 203.1h0M120.8 214h0M134.3 219.1h0M128.8 211.5h0M149 210.1h0M122.4 207.6h0M145.6 210.8h0M146.6 212.4h0M125 218.1h0M114.7 212.8h0M131.5 216h0M126.2 219.5h0M135.7 217.2h0M137.1 218.7h0M129.4 213.3h0M132.4 213.1h0M127 220.7h0M131.1 219.5h0M132 219.3h0M130.9 209h0M135.4 210.8h0M135.5 219h0M135.6 211.6h0M116.8 219.5h0M124.6 213.5h0M123.3 195.5h0M123.7 205.5h0M128.9 207.8h0M125.9 215.7h0M136 219.1h0M143.9 213.5h0M131.8 215.3h0M145.2 210.9h0M140.2 210.2h0M130.8 214h0M129.6 210.7h0M136.8 212.1h0M130.3 196.7h0M141.9 218.3h0M132.7 196.3h0M129.3 212.5h0M139.8 220.4h0M122.7 218.6h0M134.9 210.1h0M138.3 220.4h0M138.8 215.4h0M133.6 220.4h0M130.1 214.4h0M123.6 214.5h0M132 207.1h0M128.5 201.7h0M126.5 215.3h0M136.5 220.2h0M130.1 207.4h0M146.6 215.2h0M140.7 212.1h0M130.5 203.6h0M138.2 211.7h0M116.8 219.6h0M137 203.9h0M117.4 210h0M127 207.4h0M132.3 218.6h0M137.1 214h0M144 209.2h0M121.5 215.5h0M123.5 210.2h0M131.3 220.9h0M135.9 205.7h0M122.1 220.2h0M130.4 217.9h0M131.5 213.8h0M137.6 217.3h0M131.3 214.6h0M130.6 195.1h0M124.1 220.2h0M120 218.4h0M133.2 207.8h0M130 217.9h0M135.7 215h0M131.7 212.9h0M130.8 220.3h0M137.9 217.8h0M126.2 207.8h0M129 213.8h0M123.1 219.3h0M128.1 219.8h0M136.2 216.8h0M150.6 216.8h0M140.8 219.3h0M140.9 197.9h0M126 218.3h0M136.8 198.5h0M134.6 208.7h0M138.1 211.6h0M136.1 219.3h0M136.1 210.5h0M141.5 210.7h0M134 200.7h0M130.2 220.7h0M141.3 220.2h0M125.5 218.1h0M136.7 214h0M125.8 204h0M145.3 220h0M134.1 216.8h0M143.3 213.6h0M137.4 216.1h0M126.4 213.8h0M142.7 220.2h0M126.6 213h0M131.6 218h0M144.2 209.5h0M127.8 199h0M132 213.5h0M126.8 220.3h0M118 203.2h0M142.9 208.8h0M120 204.8h0M141.4 216h0M131.5 218h0M131 210.6h0M132.2 207.3h0M131.4 218h0M135.7 218.6h0M124.8 219h0M128.1 205.9h0M138.1 219.5h0M128.2 214.1h0M124.5 217.2h0M134.4 216h0M136.6 200.8h0M126.4 220.5h0M154.4 201.9h0M127.8 219.1h0M133.2 217h0M130.1 217.4h0M132.4 213.6h0M116.9 211.6h0M132 211.2h0M123.6 214.5h0M126.8 214.6h0M138 217.7h0M136.1 219.8h0M120.7 220h0M135.6 215.7h0M131.2 213.8h0M125 214.5h0M146.9 214.8h0M133.2 219.5h0M144.3 217.2h0M139.2 214h0M131.9 220.9h0M117.8 206.4h0M139.2 203.9h0M138 219.4h0M135.6 217.3h0M120 218.2h0M143.9 214.8h0M123.8 207.6h0M122.2 217.2h0M145.5 216.1h0M134 199.7h0M127.8 214.3h0M136.2 215.5h0M123.9 209.4h0M134.3 218.5h0M121.5 218.4h0M127.7 216.4h0M131.1 220.1h0" stroke="#8d8fdf" stroke-width="1.8" stroke-linecap="round" fill="none"/>
<polygon points="103,202 133.5,212.3 164,220 164,224.8 133.5,214.5 103,206.8" fill="#999999" opacity="0.55"/>
<line x1="103" y1="204.4" x2="164" y2="222.4" stroke="#d9544c" stroke-width="0.9"/>
<text x="164.5" y="217.4" font-size="3.7" font-family="'Liberation Serif',serif" fill="#222" text-anchor="end">Spearman</text>
<text x="164.5" y="221.1" font-size="3.7" font-family="'Liberation Serif',serif" fill="#222" text-anchor="end">r = -0.538</text>
<text x="164.5" y="224.9" font-size="3.7" font-family="'Liberation Serif',serif" fill="#222" text-anchor="end">ρ < 0.001</text>
<text x="94.3" y="200.2" font-size="7.6" font-family="'Liberation Serif',serif" fill="#222" text-anchor="middle" transform="rotate(-90 94.3 200.2)" textLength="38" lengthAdjust="spacingAndGlyphs">Stromal score</text>
<rect x="182.7" y="173.4" width="64" height="53.5" fill="#fff" stroke="#a0a0a0" stroke-width="0.8"/>
<line x1="187" y1="173.4" x2="187" y2="226.9" stroke="#ececec" stroke-width="0.5"/>
<line x1="203.3" y1="173.4" x2="203.3" y2="226.9" stroke="#ececec" stroke-width="0.5"/>
<line x1="219.5" y1="173.4" x2="219.5" y2="226.9" stroke="#ececec" stroke-width="0.5"/>
<line x1="235.8" y1="173.4" x2="235.8" y2="226.9" stroke="#ececec" stroke-width="0.5"/>
<line x1="182.7" y1="179.5" x2="246.7" y2="179.5" stroke="#ececec" stroke-width="0.5"/>
<line x1="182.7" y1="188.5" x2="246.7" y2="188.5" stroke="#ececec" stroke-width="0.5"/>
<line x1="182.7" y1="197" x2="246.7" y2="197" stroke="#ececec" stroke-width="0.5"/>
<line x1="182.7" y1="206" x2="246.7" y2="206" stroke="#ececec" stroke-width="0.5"/>
<line x1="182.7" y1="215" x2="246.7" y2="215" stroke="#ececec" stroke-width="0.5"/>
<line x1="182.7" y1="224" x2="246.7" y2="224" stroke="#ececec" stroke-width="0.5"/>
<line x1="195.2" y1="173.4" x2="195.2" y2="226.9" stroke="#f4f4f4" stroke-width="0.4"/>
<line x1="211.4" y1="173.4" x2="211.4" y2="226.9" stroke="#f4f4f4" stroke-width="0.4"/>
<line x1="227.7" y1="173.4" x2="227.7" y2="226.9" stroke="#f4f4f4" stroke-width="0.4"/>
<line x1="187" y1="226.9" x2="187" y2="227.9" stroke="#666" stroke-width="0.4"/>
<text x="187" y="230.9" font-size="3.6" font-family="'Liberation Sans',sans-serif" fill="#444" text-anchor="middle">-2</text>
<line x1="203.3" y1="226.9" x2="203.3" y2="227.9" stroke="#666" stroke-width="0.4"/>
<text x="203.3" y="230.9" font-size="3.6" font-family="'Liberation Sans',sans-serif" fill="#444" text-anchor="middle">-1</text>
<line x1="219.5" y1="226.9" x2="219.5" y2="227.9" stroke="#666" stroke-width="0.4"/>
<text x="219.5" y="230.9" font-size="3.6" font-family="'Liberation Sans',sans-serif" fill="#444" text-anchor="middle">0</text>
<line x1="235.8" y1="226.9" x2="235.8" y2="227.9" stroke="#666" stroke-width="0.4"/>
<text x="235.8" y="230.9" font-size="3.6" font-family="'Liberation Sans',sans-serif" fill="#444" text-anchor="middle">1</text>
<line x1="181.7" y1="179.5" x2="182.7" y2="179.5" stroke="#666" stroke-width="0.4"/>
<text x="181.2" y="180.7" font-size="3.6" font-family="'Liberation Sans',sans-serif" fill="#444" text-anchor="end">0.8</text>
<line x1="181.7" y1="188.5" x2="182.7" y2="188.5" stroke="#666" stroke-width="0.4"/>
<text x="181.2" y="189.7" font-size="3.6" font-family="'Liberation Sans',sans-serif" fill="#444" text-anchor="end">0.6</text>
<line x1="181.7" y1="197" x2="182.7" y2="197" stroke="#666" stroke-width="0.4"/>
<text x="181.2" y="198.2" font-size="3.6" font-family="'Liberation Sans',sans-serif" fill="#444" text-anchor="end">0.4</text>
<line x1="181.7" y1="206" x2="182.7" y2="206" stroke="#666" stroke-width="0.4"/>
<text x="181.2" y="207.2" font-size="3.6" font-family="'Liberation Sans',sans-serif" fill="#444" text-anchor="end">0.2</text>
<line x1="181.7" y1="215" x2="182.7" y2="215" stroke="#666" stroke-width="0.4"/>
<text x="181.2" y="216.2" font-size="3.6" font-family="'Liberation Sans',sans-serif" fill="#444" text-anchor="end">0.0</text>
<line x1="181.7" y1="224" x2="182.7" y2="224" stroke="#666" stroke-width="0.4"/>
<text x="181.2" y="225.2" font-size="3.6" font-family="'Liberation Sans',sans-serif" fill="#444" text-anchor="end">-0.2</text>
<path d="M215.4 217.8h0M221.9 216.3h0M217.8 210.4h0M218.2 208.1h0M205.7 196.3h0M201.9 202.2h0M218 216.9h0M217.6 210.3h0M219 209.2h0M195.8 204.6h0M208.8 205.6h0M210.5 218.1h0M223.6 214.3h0M202.5 206.9h0M204.7 209.8h0M199 198.6h0M221.7 204.9h0M214.1 207.9h0M221.8 207.4h0M219.5 217.9h0M199.2 193.6h0M217.4 204.1h0M200.5 209.7h0M222.1 216.6h0M223.3 216.1h0M205.5 186.5h0M217.9 201.5h0M213.7 209.3h0M201.4 198.3h0M229.5 217h0M198 197.5h0M213.3 210.4h0M220.2 209.6h0M211 211.3h0M199.8 207.5h0M216.3 204.6h0M207.7 205.2h0M199.3 183.6h0M216.6 216.5h0M211.5 205.8h0M212.7 199.4h0M216.6 213.4h0M213.1 212.2h0M203.2 202.8h0M205.7 199h0M215.1 208.1h0M220.6 214.2h0M201.6 208.9h0M197.9 197.6h0M215.2 206.3h0M216.9 207.8h0M203.1 206.1h0M211.7 198.8h0M212.7 205.2h0M215.2 202.8h0M213.7 204.6h0M226.8 210h0M223.8 210.4h0M222.4 218.4h0M208.5 204.2h0M203.7 196.2h0M206.9 203.1h0M220.5 215.2h0M207.5 203.8h0M198.6 202.2h0M209.8 196.7h0M205.3 205.5h0M212.9 209.7h0M207.9 204h0M209.8 193.8h0M210.5 203.4h0M205.7 207.1h0M231.6 218.1h0M212.4 197.5h0M210.3 200h0M213.4 213.6h0M211.5 195.4h0M224.4 211.6h0M224.5 205.4h0M234.9 208.4h0M213.2 211h0M188.4 188h0M197.4 209h0M218.4 201.9h0M196 185.5h0M213.6 200.5h0M215.4 203.1h0M196.5 209.2h0M216.5 202.6h0M208.9 212.1h0M219.5 200.5h0M225.4 207.6h0M217.3 199.6h0M205.8 207.1h0M201 200h0M215.7 202.5h0M225.3 216h0M210.8 211.1h0M224.6 216.9h0M210.9 209.8h0M215.6 199.5h0M208.8 216.2h0M204.8 204.6h0M227.5 210.3h0M211.9 200h0M216.7 199.3h0M216.1 201.6h0M215.1 195.2h0M202 206.1h0M217.4 187.5h0M225.9 206.5h0M220.1 215.8h0M210.5 201.7h0M194.4 199.2h0M229 205.2h0M222.3 215h0M220.7 202.2h0M210.9 206.1h0M227.6 206.6h0M207.1 197.4h0M219.8 198.4h0M210.1 195.4h0M208.8 208.4h0M207 207h0M207.6 202.4h0M210.5 198.3h0M215.7 211.1h0M204.7 205.8h0M212.8 202.5h0M213.3 211h0M218.7 216.5h0M214.3 207.5h0M198.2 194.5h0M217.2 200.2h0M203.4 212.6h0M211.1 197.2h0M192.5 189.4h0M232.8 215.2h0M217.4 212h0M207.4 204.9h0M212.2 202.8h0M221.1 203.9h0M205 197.1h0M222.9 207.1h0M228.2 204.2h0M202.8 183h0M203.4 201.1h0M218.1 201.5h0M207.1 211.7h0M207.3 203.2h0M217.6 201.3h0M222.9 209h0M218.9 206.4h0M214.2 213.9h0M213.8 193.8h0M209.2 200.9h0M210.1 205.1h0M197 208.8h0M204 209.3h0M208.4 200.7h0M210.6 201.9h0M216.7 215.2h0M228.2 218.3h0M200.7 203.5h0M216.2 206.4h0M214.6 206.3h0M201.4 194.1h0M220.4 208.7h0M224.3 208.1h0M206.6 202.9h0M212.8 211.6h0M207.1 207.7h0M215.1 200.7h0M210.3 202.8h0M221 216.3h0M218 204.4h0M218.4 209.2h0M206.5 207h0M204.9 199.4h0M202.5 191.1h0M215.1 196.1h0M206 199.4h0M216 202.5h0M218.2 202.7h0M204.7 195.8h0M207.3 197.8h0M199 193.5h0M204.1 207.8h0M202.2 202.1h0M203.6 206.2h0M210.6 200.4h0M222.2 216.9h0M225.6 216.5h0M212.4 200.6h0M207.5 199h0M216.4 204.3h0M213.8 207.1h0M210.8 200h0M202.3 216.1h0M210.7 193.8h0M200.6 195h0M228.4 214h0M203.6 212h0M195 203.8h0M237.2 216.4h0M220.9 213.8h0M185.8 194.1h0M206.7 184.3h0M219.9 205.1h0M215 209.4h0M206.4 186.7h0M207.8 197.7h0M201.2 194.2h0M211.7 214.9h0M212.7 206.8h0M221.6 212.7h0M209.9 199.5h0M201 205.5h0M211.1 212.4h0M204.7 197.3h0M215.6 216.1h0M210.2 200.1h0M216.6 198.4h0M222.5 201.8h0M197.7 198.2h0M206.8 211.1h0M219.2 211.6h0M193.3 195.1h0M204 188h0M228.3 200.5h0M202.8 194.3h0M205.8 202.8h0M215.6 198.2h0M215.5 210.8h0M214.6 216.1h0M207.1 200h0M207.6 195.1h0M211 211.5h0M217 207.3h0M213 214.2h0M222.9 198h0M199.6 205.4h0M218.5 212.6h0M220.3 201.6h0M200.5 202.1h0M200.7 200h0M230.3 202.4h0M216.6 216.4h0M223.6 207.8h0M203.3 200.6h0M200.2 200h0M208.6 201.2h0M219.2 208.6h0M206.3 200.9h0M209.6 201.9h0M207.5 208.2h0M208 209.9h0M217.7 214.2h0M215.6 198h0M233.7 212.9h0M202 201h0M213.5 192.4h0M199.1 196.1h0M208.1 195.8h0M202.9 200.1h0M202.3 202.5h0M213.7 202.2h0M227.1 217.6h0M198.1 197.4h0M224.7 206h0M191.7 188.4h0M205 196.5h0M214.2 209.6h0M217 194.2h0M205.1 207.8h0M206.7 194.3h0M208.9 216.4h0M198.5 195h0M208.4 196.7h0M210.2 200.1h0M199.5 196h0M206.9 198.5h0M213.7 208.6h0M216.1 210h0M200.4 200h0M209.4 197h0M212.2 203.5h0M209.4 206.4h0M200.3 198.3h0M203.6 197.3h0M206.6 206.6h0M216.6 210h0M200.4 199.9h0M226 216.9h0M216.6 207.9h0M204.3 203h0M198.3 196.9h0M198.9 192.1h0M198.7 200.2h0M207.9 204.6h0M217.1 209.4h0M205.2 203.4h0M199.6 195.2h0M216.5 205.4h0M212.4 205.1h0M232 202.9h0M201.3 208.4h0M200.4 198.9h0M225.4 199.6h0M210 208.4h0M222.4 205.8h0M217.2 204.9h0M215.1 203.4h0M216.5 211.5h0M220 206.2h0M205.1 203.5h0M220.7 212.5h0M203.9 201.1h0M211.1 199h0M231.6 213h0M208.3 201.7h0M200.3 195.8h0M206.4 196.7h0M207.2 180.9h0M211.2 202.8h0M203.3 194.1h0M191.6 190.5h0M213.6 206.2h0M211.3 201.7h0M222.8 216.9h0M200 209.3h0M216.2 198h0M209.6 205.9h0M230 212h0M221.3 205.8h0M209.6 212.7h0M206.9 204.5h0M219 212.8h0M216.2 211.2h0M232.8 213.2h0" stroke="#8d8fdf" stroke-width="1.8" stroke-linecap="round" fill="none"/>
<polygon points="184.5,188.4 214.6,205.5 244.7,220 244.7,224.8 214.6,207.7 184.5,193.2" fill="#999999" opacity="0.55"/>
<line x1="184.5" y1="190.8" x2="244.7" y2="222.4" stroke="#d9544c" stroke-width="0.9"/>
<text x="245.5" y="217.6" font-size="3.7" font-family="'Liberation Serif',serif" fill="#222" text-anchor="end">Spearman</text>
<text x="245.5" y="221.3" font-size="3.7" font-family="'Liberation Serif',serif" fill="#222" text-anchor="end">r = -0.538</text>
<text x="245.5" y="225.1" font-size="3.7" font-family="'Liberation Serif',serif" fill="#222" text-anchor="end">ρ < 0.001</text>
<text x="174.4" y="198.7" font-size="7.4" font-family="'Liberation Serif',serif" fill="#222" text-anchor="middle" transform="rotate(-90 174.4 198.7)" textLength="66" lengthAdjust="spacingAndGlyphs">Microenvironment score</text>
<text x="132.8" y="240.9" font-size="6.8" font-family="'Liberation Serif',serif" fill="#333" text-anchor="middle" textLength="36.4" lengthAdjust="spacingAndGlyphs">ICDrisk score</text>
<rect x="271.2" y="101.5" width="62.7" height="52.7" fill="#fff" stroke="#aaa" stroke-width="0.8"/>
<line x1="271.2" y1="104.5" x2="333.9" y2="104.5" stroke="#ededed" stroke-width="0.5"/>
<line x1="270.2" y1="104.5" x2="271.2" y2="104.5" stroke="#555" stroke-width="0.5"/>
<text x="269.6" y="105.6" font-size="3.4" font-family="'Liberation Serif',serif" fill="#555" text-anchor="end">0.06</text>
<line x1="271.2" y1="114.5" x2="333.9" y2="114.5" stroke="#ededed" stroke-width="0.5"/>
<line x1="270.2" y1="114.5" x2="271.2" y2="114.5" stroke="#555" stroke-width="0.5"/>
<text x="269.6" y="115.6" font-size="3.4" font-family="'Liberation Serif',serif" fill="#555" text-anchor="end">0.05</text>
<line x1="271.2" y1="124.5" x2="333.9" y2="124.5" stroke="#ededed" stroke-width="0.5"/>
<line x1="270.2" y1="124.5" x2="271.2" y2="124.5" stroke="#555" stroke-width="0.5"/>
<text x="269.6" y="125.6" font-size="3.4" font-family="'Liberation Serif',serif" fill="#555" text-anchor="end">0.04</text>
<line x1="271.2" y1="134.5" x2="333.9" y2="134.5" stroke="#ededed" stroke-width="0.5"/>
<line x1="270.2" y1="134.5" x2="271.2" y2="134.5" stroke="#555" stroke-width="0.5"/>
<text x="269.6" y="135.6" font-size="3.4" font-family="'Liberation Serif',serif" fill="#555" text-anchor="end">0.03</text>
<line x1="271.2" y1="144.5" x2="333.9" y2="144.5" stroke="#ededed" stroke-width="0.5"/>
<line x1="270.2" y1="144.5" x2="271.2" y2="144.5" stroke="#555" stroke-width="0.5"/>
<text x="269.6" y="145.6" font-size="3.4" font-family="'Liberation Serif',serif" fill="#555" text-anchor="end">0.02</text>
<line x1="302.5" y1="101.5" x2="302.5" y2="154.2" stroke="#ededed" stroke-width="0.5"/>
<path d="M287.9,113.5 L288.1,114.2 L288.4,115 L288.6,115.8 L288.6,116.5 L288.6,117.2 L288.6,118 L288.6,118.8 L288.6,119.5 L288.6,120.2 L288.6,121 L288.6,121.8 L288.6,122.5 L288.6,123.2 L288.6,124 L289.4,124.8 L290.5,125.5 L291.5,126.2 L292.5,127 L293.4,127.8 L294.4,128.5 L295.3,129.2 L296.1,130 L296.9,130.8 L297.6,131.5 L298.2,132.2 L297.7,133 L296.9,133.8 L296.1,134.5 L295.2,135.2 L294.2,136 L293.2,136.8 L292.2,137.5 L291.1,138.2 L290.1,139 L288.9,139.8 L288.6,140.5 L288.6,141.2 L288.6,142 L288.6,142.8 L288.6,143.5 L288.6,144.2 L288.6,145 L288.6,145.8 L288.6,146.5 L288.6,147.2 L288.4,148 L288.1,148.8 L287.9,149.5 L287.8,149.5 L287.5,148.8 L287.2,148 L287.1,147.2 L287.1,146.5 L287.1,145.8 L287.1,145 L287.1,144.2 L287.1,143.5 L287.1,142.8 L287.1,142 L287.1,141.2 L287.1,140.5 L286.7,139.8 L285.6,139 L284.5,138.2 L283.4,137.5 L282.4,136.8 L281.4,136 L280.5,135.2 L279.6,134.5 L278.7,133.8 L278,133 L277.4,132.2 L278,131.5 L278.7,130.8 L279.5,130 L280.4,129.2 L281.3,128.5 L282.2,127.8 L283.2,127 L284.1,126.2 L285.2,125.5 L286.2,124.8 L287.1,124 L287.1,123.2 L287.1,122.5 L287.1,121.8 L287.1,121 L287.1,120.2 L287.1,119.5 L287.1,118.8 L287.1,118 L287.1,117.2 L287.1,116.5 L287.1,115.8 L287.2,115 L287.5,114.2 L287.8,113.5Z" fill="#f39a3e"/>
<path d="M293.8 129.8h0M289.2 130.3h0M293.3 131.9h0M290.9 138.5h0M281.7 132.5h0M293.2 130.2h0M287.8 132.2h0M285.5 137.3h0M286.1 139h0M289.2 127.8h0M282 133.6h0M288.1 139.8h0M285 128.6h0M293.8 136.6h0M289.6 134.5h0M294.1 130.9h0M281.6 135.2h0M289.9 138.9h0M282.7 135h0M286.7 139.4h0M290 133.6h0M283.2 129.5h0M280.5 134.5h0M290.6 136.4h0M295.3 133.2h0M285.8 134.1h0M280.6 134.5h0M283.6 135.1h0M285.1 137.9h0M291.8 137.3h0M287.8 124.9h0M283.8 129.7h0M293.7 131.3h0M281.2 129.8h0M292.5 129.9h0M289.4 136.2h0M287.6 138.1h0M282.8 130.5h0M292.6 132.2h0M287.6 139.5h0M283.2 130.2h0M284.3 132.8h0M287.5 126h0M287.6 133.3h0M294.2 132.1h0M292.3 132.5h0M292 136.5h0M285.6 133.7h0M281.9 132.4h0M289.9 132.8h0M293.4 132.1h0M291.1 133.8h0M296.8 132.9h0M286.8 130.5h0M283 130.7h0M286.6 138.2h0M291 135.8h0M282.2 131.9h0M285.4 132.6h0M284.2 128.4h0M290 132.6h0M287.9 131.7h0M284.2 138.2h0M289.1 133.4h0M285.1 130.1h0M286.7 130.3h0M291 135.1h0M284.2 128.1h0M295.1 132h0M289 136.2h0M294 136h0M289.5 137.5h0M285.9 134h0M284.6 128h0M285.6 127h0M296.6 133.3h0M280.7 135h0M287.7 130.5h0M294 135.5h0M289 128.6h0M288.9 126.7h0M291.9 133.7h0M288.9 140.4h0M293.7 129h0M292.2 132.3h0M289.8 135.2h0M281.5 129.9h0M286.7 132.5h0M292.6 134.5h0M284.6 136h0M291.8 134.8h0M282.9 128.8h0M279.7 133h0M287.6 136.2h0M291.7 128.8h0M282.8 128.9h0M291 133.8h0M285.8 137.3h0M289.3 126.7h0" stroke="#3a2a1a" stroke-width="0.8" stroke-linecap="round" fill="none" opacity="0.6"/>
<path d="M317.6,120 L317.8,120.7 L318,121.3 L318.2,122 L318.2,122.6 L318.2,123.3 L318.2,123.9 L319,124.6 L320,125.2 L321,125.9 L321.9,126.5 L322.8,127.2 L323.6,127.8 L324.4,128.5 L325.1,129.2 L325.8,129.8 L326.4,130.5 L326.9,131.1 L327.4,131.8 L327.8,132.4 L328,133.1 L327.9,133.7 L327.6,134.4 L327.2,135 L326.7,135.7 L326.2,136.4 L325.6,137 L325,137.7 L324.3,138.3 L323.6,139 L322.8,139.6 L322,140.3 L321.1,140.9 L320.2,141.6 L319.3,142.2 L318.4,142.9 L318.2,143.6 L318.2,144.2 L318.2,144.9 L318.2,145.5 L318.2,146.2 L318.2,146.8 L318.2,147.5 L318.2,148.1 L318.2,148.8 L318.2,149.4 L318,150.1 L317.8,150.7 L317.6,151.4 L317.5,151.4 L317.4,150.7 L317.2,150.1 L317,149.4 L316.9,148.8 L316.9,148.1 L316.9,147.5 L316.9,146.8 L316.9,146.2 L316.9,145.5 L316.9,144.9 L316.9,144.2 L316.9,143.6 L316.8,142.9 L315.9,142.2 L315,141.6 L314.1,140.9 L313.2,140.3 L312.4,139.6 L311.6,139 L310.9,138.3 L310.2,137.7 L309.6,137 L309,136.4 L308.5,135.7 L308,135 L307.6,134.4 L307.3,133.7 L307.2,133.1 L307.4,132.4 L307.8,131.8 L308.3,131.1 L308.8,130.5 L309.4,129.8 L310.1,129.2 L310.8,128.5 L311.6,127.8 L312.4,127.2 L313.3,126.5 L314.2,125.9 L315.2,125.2 L316.2,124.6 L316.9,123.9 L316.9,123.3 L316.9,122.6 L317,122 L317.2,121.3 L317.4,120.7 L317.5,120Z" fill="#5fc1a0"/>
<path d="M320.8 134.9h0M323.1 131.8h0M312.2 137.5h0M325.5 133.8h0M317 141.6h0M326.1 136h0M313.9 133.3h0M319.8 139.5h0M319.5 132.6h0M308.7 135h0M316.5 140.8h0M317.7 127.4h0M323.2 135.7h0M312.1 133.5h0M323 133.4h0M320.6 137.3h0M319.4 128.7h0M313.5 134.4h0M322 131.4h0M309.4 130.7h0M314.5 135.8h0M317.9 140.1h0M313.1 135h0M321.2 136.2h0M315.6 126.7h0M316.3 133.2h0M324 137.6h0M325.5 133.1h0M315.8 138.2h0M320.5 137.7h0M315.6 136.8h0M324.9 131.1h0M318 139.5h0M315.9 127.7h0M314.8 141.5h0M321.3 129.8h0M317.4 131.5h0M320.9 133.9h0M314.7 130.7h0M312.3 131.3h0M325.9 133.6h0M311.7 135.7h0M324.1 134.6h0M321.1 127.8h0M320.6 132.4h0M315.3 137.4h0M315.4 130.1h0M313.7 129.6h0M310.7 137.1h0M322.4 138.8h0M319.8 130.1h0M313 133h0M315.4 132.8h0M311.2 132.5h0M320.6 126.4h0M323.1 136.4h0M314.1 131.3h0M312.9 129.7h0M313.1 129.3h0M319.7 139.1h0M318 136.8h0M317 135.9h0M316.8 139.9h0M313.8 136.2h0M321.1 135.4h0M322.5 132.7h0M319.4 127.8h0M322.5 134.9h0M314 133.3h0M318.6 127.6h0M325.1 131.4h0M323.7 130.7h0M319.9 135.2h0M313.2 136.8h0M310.7 132.1h0M313.1 127.9h0M318.1 139.8h0M316 138.7h0M324.7 129.7h0M317 130.4h0M316.7 126.4h0M319.8 129.3h0M320.4 132.5h0M315.9 141.1h0M317.2 141.2h0M319 127.3h0M315.5 134.4h0M321.7 134.6h0M323.2 129.6h0M312.8 133.2h0" stroke="#1d3a30" stroke-width="0.8" stroke-linecap="round" fill="none" opacity="0.6"/>
<line x1="287.8" y1="110.8" x2="317.6" y2="110.8" stroke="#777" stroke-width="0.5"/>
<line x1="287.8" y1="110.8" x2="287.8" y2="112" stroke="#777" stroke-width="0.5"/>
<line x1="317.6" y1="110.8" x2="317.6" y2="112" stroke="#777" stroke-width="0.5"/>
<text x="302.5" y="110" font-size="3.4" font-family="'Liberation Sans',sans-serif" fill="#555" text-anchor="middle">****</text>
<line x1="302.5" y1="154.2" x2="302.5" y2="155.2" stroke="#555" stroke-width="0.5"/>
<text x="287.8" y="158" font-size="3.3" font-family="'Liberation Serif',serif" fill="#333" text-anchor="middle">High</text>
<text x="317.6" y="158" font-size="3.3" font-family="'Liberation Serif',serif" fill="#333" text-anchor="middle">Low</text>
<text x="303.7" y="163" font-size="4.8" font-family="'Liberation Serif',serif" fill="#222" text-anchor="middle" font-weight="bold" textLength="28" lengthAdjust="spacingAndGlyphs">ICD risk score</text>
<text x="263.2" y="128.3" font-size="4.2" font-family="'Liberation Serif',serif" fill="#222" text-anchor="middle" font-weight="bold" transform="rotate(-90 263.2 128.3)" textLength="22" lengthAdjust="spacingAndGlyphs">CAFs-EPIC</text>
<rect x="350.5" y="101.5" width="62.9" height="52" fill="#fff" stroke="#aaa" stroke-width="0.8"/>
<line x1="350.5" y1="106" x2="413.4" y2="106" stroke="#ededed" stroke-width="0.5"/>
<line x1="349.5" y1="106" x2="350.5" y2="106" stroke="#555" stroke-width="0.5"/>
<text x="348.9" y="107.1" font-size="3.4" font-family="'Liberation Serif',serif" fill="#555" text-anchor="end">1.5</text>
<line x1="350.5" y1="119" x2="413.4" y2="119" stroke="#ededed" stroke-width="0.5"/>
<line x1="349.5" y1="119" x2="350.5" y2="119" stroke="#555" stroke-width="0.5"/>
<text x="348.9" y="120.1" font-size="3.4" font-family="'Liberation Serif',serif" fill="#555" text-anchor="end">1.0</text>
<line x1="350.5" y1="132.2" x2="413.4" y2="132.2" stroke="#ededed" stroke-width="0.5"/>
<line x1="349.5" y1="132.2" x2="350.5" y2="132.2" stroke="#555" stroke-width="0.5"/>
<text x="348.9" y="133.3" font-size="3.4" font-family="'Liberation Serif',serif" fill="#555" text-anchor="end">0.5</text>
<line x1="350.5" y1="145.5" x2="413.4" y2="145.5" stroke="#ededed" stroke-width="0.5"/>
<line x1="349.5" y1="145.5" x2="350.5" y2="145.5" stroke="#555" stroke-width="0.5"/>
<text x="348.9" y="146.6" font-size="3.4" font-family="'Liberation Serif',serif" fill="#555" text-anchor="end">0.0</text>
<line x1="381.9" y1="101.5" x2="381.9" y2="153.5" stroke="#ededed" stroke-width="0.5"/>
<path d="M367.7,114 L371.2,116 L375.9,119 L377.2,122 L377.2,131 L375.7,135 L371.7,141 L369,146 L367.7,151 L366.7,151 L365.4,146 L362.7,141 L358.7,135 L357.2,131 L357.2,122 L358.5,119 L363.2,116 L366.7,114Z" fill="#f39a3e"/>
<path d="M369.4 120.1h0M372.7 131.7h0M357.7 132.7h0M359 127.7h0M364.9 143.4h0M359.9 126.2h0M361 119.7h0M366.9 134.4h0M373.2 120.9h0M361.6 122.7h0M361.1 135.5h0M361.5 131.6h0M366.2 129.2h0M359.4 128.3h0M368.1 132.4h0M368.1 141.7h0M361.1 134.6h0M374.2 120.3h0M363.5 126.8h0M369.6 117.8h0M368.7 142.7h0M362.4 132.2h0M365.7 146.4h0M358.7 131.9h0M365.6 123.5h0M364.5 120.3h0M367.7 123.3h0M362.5 141h0M373.8 129.8h0M362.9 125.4h0M368.8 142.4h0M367.5 149.3h0M365.6 135.6h0M364.1 118.9h0M374.1 130.5h0M367.8 138.2h0M361.8 126h0M365.1 120.1h0M359.8 140.3h0M372.2 131.2h0M363.1 120.5h0M359.8 139.8h0M374.8 128.4h0M368.1 124.9h0M367.5 149.1h0M376 132.8h0M367.7 125.5h0M373.1 134.7h0M363.9 118h0M358 130.6h0M367.4 137.9h0M362 128.4h0M371 130.1h0M365 130.9h0M376 132h0M374.6 132.2h0M373.9 139.3h0M373.3 128.3h0M365.1 125.6h0M360.2 119.4h0M371.8 125.2h0M375.8 131.1h0M364.5 140h0M363.3 137.7h0M360.6 123.4h0M368.8 139.2h0M375.5 124.3h0M369.4 131.3h0M365 124.4h0M375.9 124.1h0M367.2 140.1h0M363 136.5h0M363.5 134.1h0M364.7 130.8h0M368 120.9h0M373.7 122.3h0M373.6 135.5h0M372.4 121h0M366.7 136.4h0M365.2 143.6h0M369.6 127.1h0M365.7 146.9h0M361.3 132.9h0M358.4 124h0M370.1 132.3h0M374.3 119.9h0M370.8 133.9h0M360.4 140.9h0M363.2 144.6h0M369.6 127h0M367.1 120.4h0M371.7 139.1h0M375.5 128.4h0M365.9 143.4h0M371.3 136.7h0M374.1 137.9h0M361.6 133.8h0M364.7 117.1h0M364.6 134h0M366.6 118.8h0M369.8 135.5h0M374.2 121.8h0M367.4 133.4h0M366.6 118.5h0M371.2 137.7h0M366 138.1h0M362.7 128h0M358.3 133.9h0M357.7 127.9h0M368.4 138.6h0M366.2 150.9h0M364.7 131.9h0M369.6 131.1h0M373.1 136.1h0M365 141.8h0M368.4 148.3h0M366.5 147h0" stroke="#3a2a1a" stroke-width="0.8" stroke-linecap="round" fill="none" opacity="0.6"/>
<path d="M397.4,114.7 L398.2,117 L400,120 L403.5,124 L407,129 L406.5,132 L405,135 L401,140 L398.5,143 L397.7,147 L397.4,151 L396.6,151 L396.3,147 L395.5,143 L393,140 L389,135 L387.5,132 L387,129 L390.5,124 L394,120 L395.8,117 L396.6,114.7Z" fill="#5fc1a0"/>
<path d="M398.2 119.8h0M397.9 121.4h0M402.4 126.3h0M399.9 140.4h0M392.3 136.1h0M398.8 135.3h0M402 138.3h0M390.2 138.9h0M404.7 134h0M395.4 133.1h0M398.1 125.9h0M397.6 125.5h0M397.6 130.4h0M395.8 127.6h0M389.8 133.3h0M395.3 127.4h0M397.2 121.6h0M405 129.6h0M397 131.4h0M405.9 133.7h0M394.2 132.9h0M388.3 130.5h0M393.5 127.5h0M394.8 121.3h0M394.1 131.8h0M396.7 145h0M396.2 145.5h0M401.6 132.5h0M395.7 123.7h0M397 138.1h0M396.8 136.6h0M398 142.5h0M394.2 134.1h0M393 128.5h0M403.3 134.7h0M393 133.3h0M402.8 133.2h0M394.5 121.8h0M397.3 128.5h0M388.4 133.8h0M395.8 144.7h0M401.6 129.7h0M393.8 126.4h0M394.8 125.5h0M396.8 126.8h0M403 129.8h0M401.7 125.8h0M402.6 128.3h0M390.3 133.4h0M395 123.4h0M397 144.5h0M399 135.9h0M393.8 139h0M396.9 117.7h0M396.8 143h0M389.8 137.8h0M393.1 135.9h0M397.8 126.9h0M392.7 134.9h0M398.6 139.5h0M395.8 135.8h0M401.3 136.7h0M394.2 140.6h0M396.3 124.2h0M398.3 144.1h0M389.8 133.1h0M393 128.2h0M398.5 131.1h0M399.1 123h0M397.8 119.2h0M396 137.4h0M399.3 141.3h0M394.1 129.5h0M403.2 135h0M400.5 133.3h0M405.2 134.2h0M388.9 131.1h0M398.4 128.8h0M396.4 143.5h0M401.9 138h0M387.9 131.2h0M399.5 137.6h0M393.9 141.3h0M391.1 131.7h0M402 128.9h0M400.1 141.5h0M399.1 120.1h0M396.6 144.8h0M392.7 127.5h0M403 138.6h0M401.8 132.2h0M392.4 127.2h0M400 125.4h0M394.6 124.7h0M395.1 121.9h0M397 123h0M395.8 135.9h0M398.7 142.6h0M397.4 132.4h0" stroke="#1d3a30" stroke-width="0.8" stroke-linecap="round" fill="none" opacity="0.6"/>
<line x1="367.2" y1="110.8" x2="397" y2="110.8" stroke="#777" stroke-width="0.5"/>
<line x1="367.2" y1="110.8" x2="367.2" y2="112" stroke="#777" stroke-width="0.5"/>
<line x1="397" y1="110.8" x2="397" y2="112" stroke="#777" stroke-width="0.5"/>
<text x="381.9" y="110" font-size="3.4" font-family="'Liberation Sans',sans-serif" fill="#555" text-anchor="middle">*</text>
<line x1="381.9" y1="153.5" x2="381.9" y2="154.5" stroke="#555" stroke-width="0.5"/>
<text x="367.2" y="157.3" font-size="3.3" font-family="'Liberation Serif',serif" fill="#333" text-anchor="middle">High</text>
<text x="397" y="157.3" font-size="3.3" font-family="'Liberation Serif',serif" fill="#333" text-anchor="middle">Low</text>
<text x="383.1" y="162.3" font-size="4.8" font-family="'Liberation Serif',serif" fill="#222" text-anchor="middle" font-weight="bold" textLength="28" lengthAdjust="spacingAndGlyphs">ICD risk score</text>
<text x="341.2" y="128" font-size="4.2" font-family="'Liberation Serif',serif" fill="#222" text-anchor="middle" font-weight="bold" transform="rotate(-90 341.2 128)" textLength="11" lengthAdjust="spacingAndGlyphs">M2 M</text>
<rect x="432.5" y="101" width="63.6" height="52.3" fill="#fff" stroke="#aaa" stroke-width="0.8"/>
<line x1="432.5" y1="107.5" x2="496.1" y2="107.5" stroke="#ededed" stroke-width="0.5"/>
<line x1="431.5" y1="107.5" x2="432.5" y2="107.5" stroke="#555" stroke-width="0.5"/>
<text x="430.9" y="108.6" font-size="3.4" font-family="'Liberation Serif',serif" fill="#555" text-anchor="end">60</text>
<line x1="432.5" y1="120.5" x2="496.1" y2="120.5" stroke="#ededed" stroke-width="0.5"/>
<line x1="431.5" y1="120.5" x2="432.5" y2="120.5" stroke="#555" stroke-width="0.5"/>
<text x="430.9" y="121.6" font-size="3.4" font-family="'Liberation Serif',serif" fill="#555" text-anchor="end">40</text>
<line x1="432.5" y1="133.5" x2="496.1" y2="133.5" stroke="#ededed" stroke-width="0.5"/>
<line x1="431.5" y1="133.5" x2="432.5" y2="133.5" stroke="#555" stroke-width="0.5"/>
<text x="430.9" y="134.6" font-size="3.4" font-family="'Liberation Serif',serif" fill="#555" text-anchor="end">20</text>
<line x1="432.5" y1="145.5" x2="496.1" y2="145.5" stroke="#ededed" stroke-width="0.5"/>
<line x1="431.5" y1="145.5" x2="432.5" y2="145.5" stroke="#555" stroke-width="0.5"/>
<text x="430.9" y="146.6" font-size="3.4" font-family="'Liberation Serif',serif" fill="#555" text-anchor="end">0</text>
<line x1="464.3" y1="101" x2="464.3" y2="153.3" stroke="#ededed" stroke-width="0.5"/>
<path d="M449.7,109 L449.9,136 L451.4,139.5 L456.4,142.5 L459.6,145.4 L455.4,147.5 L450.9,149.7 L449.7,150.5 L449.1,150.5 L447.9,149.7 L443.4,147.5 L439.2,145.4 L442.4,142.5 L447.4,139.5 L448.9,136 L449.1,109Z" fill="#f39a3e"/>
<path d="M450.3 140.4h0M448 150.3h0M445.9 148h0M446.1 148.6h0M453.1 147.2h0M458.9 146.8h0M448.5 149.8h0M449.3 144.4h0M450.9 144.9h0M445.1 143.1h0M449.7 144.7h0M448.4 144.4h0M450.9 143.3h0M443.6 146.2h0M448 142.8h0M445.3 142.9h0M448.4 141h0M445.7 147.8h0M447.5 146.9h0M447 144.1h0M447.9 144.6h0M452.1 143.2h0M448.1 150.4h0M453.8 146.4h0M450.3 144.7h0M447.2 146.8h0M452.4 143.8h0M457.3 146.8h0M447.2 148.8h0M454.3 146.6h0M453 144.1h0M449.7 149.2h0M447.9 145.4h0M446.2 146.2h0M452.1 144.6h0M445.3 146.2h0M448.1 143.1h0M444.5 146.3h0M455 145.1h0M444.8 145.6h0M442.5 147.3h0M449.2 146.9h0M449.2 149.7h0M448.4 140.8h0M448.8 149.3h0M451.1 148.7h0M448.7 146.3h0M451.4 148.6h0M444.6 145.6h0M450.2 145.1h0M444.3 143.5h0M448.4 150.3h0M448.8 145.7h0M451.3 147.1h0" stroke="#3a2a1a" stroke-width="0.8" stroke-linecap="round" fill="none" opacity="0.6"/>
<path d="M479.8,138 L480,143 L482.6,144.5 L490.6,145.4 L482.6,146.3 L479.9,147 L479.3,147 L476.6,146.3 L468.6,145.4 L476.6,144.5 L479.2,143 L479.4,138Z" fill="#5fc1a0"/>
<path d="M484.2 146.1h0M488.9 145.6h0M469.1 145.9h0M476.8 144.8h0M473.3 145.5h0M477.6 146.8h0M481.4 146.4h0M481.6 144.5h0M481.2 146.8h0M486.3 146.2h0M476.7 146.7h0M483.2 145.9h0M486.4 146.1h0M489.4 145.9h0M470.7 145.8h0M477.2 144.8h0M489.2 145.6h0M477.6 145.3h0M482.4 146.3h0M479.7 146.8h0M477.3 146h0M484.1 145.7h0M471.3 146.2h0M483.1 145.6h0M470.8 145.8h0M481.6 146.4h0M477.6 144.9h0M480.3 146.9h0M481.5 146.5h0M477.4 144.6h0M477.8 144.8h0" stroke="#1d3a30" stroke-width="0.8" stroke-linecap="round" fill="none" opacity="0.6"/>
<line x1="439.4" y1="145.4" x2="459.4" y2="145.4" stroke="#222" stroke-width="0.6"/>
<line x1="469.1" y1="145.4" x2="490.1" y2="145.4" stroke="#222" stroke-width="0.6"/>
<line x1="449.4" y1="110.3" x2="479.6" y2="110.3" stroke="#777" stroke-width="0.5"/>
<line x1="449.4" y1="110.3" x2="449.4" y2="111.5" stroke="#777" stroke-width="0.5"/>
<line x1="479.6" y1="110.3" x2="479.6" y2="111.5" stroke="#777" stroke-width="0.5"/>
<text x="464.3" y="109.5" font-size="3.4" font-family="'Liberation Sans',sans-serif" fill="#555" text-anchor="middle">****</text>
<line x1="464.3" y1="153.3" x2="464.3" y2="154.3" stroke="#555" stroke-width="0.5"/>
<text x="449.4" y="157.1" font-size="3.3" font-family="'Liberation Serif',serif" fill="#333" text-anchor="middle">High</text>
<text x="479.6" y="157.1" font-size="3.3" font-family="'Liberation Serif',serif" fill="#333" text-anchor="middle">Low</text>
<text x="465.5" y="162.1" font-size="4.8" font-family="'Liberation Serif',serif" fill="#222" text-anchor="middle" font-weight="bold" textLength="28" lengthAdjust="spacingAndGlyphs">ICD risk score</text>
<text x="423.8" y="127.7" font-size="4.2" font-family="'Liberation Serif',serif" fill="#222" text-anchor="middle" font-weight="bold" transform="rotate(-90 423.8 127.7)" textLength="16" lengthAdjust="spacingAndGlyphs">Th1/Th2</text>
<rect x="268.7" y="172.7" width="65.2" height="54.1" fill="#fff" stroke="#aaa" stroke-width="0.8"/>
<line x1="268.7" y1="176.6" x2="333.9" y2="176.6" stroke="#ededed" stroke-width="0.5"/>
<line x1="267.7" y1="176.6" x2="268.7" y2="176.6" stroke="#555" stroke-width="0.5"/>
<text x="267.1" y="177.7" font-size="3.4" font-family="'Liberation Serif',serif" fill="#555" text-anchor="end">9</text>
<line x1="268.7" y1="186.9" x2="333.9" y2="186.9" stroke="#ededed" stroke-width="0.5"/>
<line x1="267.7" y1="186.9" x2="268.7" y2="186.9" stroke="#555" stroke-width="0.5"/>
<text x="267.1" y="188" font-size="3.4" font-family="'Liberation Serif',serif" fill="#555" text-anchor="end">8</text>
<line x1="268.7" y1="197.3" x2="333.9" y2="197.3" stroke="#ededed" stroke-width="0.5"/>
<line x1="267.7" y1="197.3" x2="268.7" y2="197.3" stroke="#555" stroke-width="0.5"/>
<text x="267.1" y="198.4" font-size="3.4" font-family="'Liberation Serif',serif" fill="#555" text-anchor="end">7</text>
<line x1="268.7" y1="207.7" x2="333.9" y2="207.7" stroke="#ededed" stroke-width="0.5"/>
<line x1="267.7" y1="207.7" x2="268.7" y2="207.7" stroke="#555" stroke-width="0.5"/>
<text x="267.1" y="208.8" font-size="3.4" font-family="'Liberation Serif',serif" fill="#555" text-anchor="end">6</text>
<line x1="268.7" y1="217.5" x2="333.9" y2="217.5" stroke="#ededed" stroke-width="0.5"/>
<line x1="267.7" y1="217.5" x2="268.7" y2="217.5" stroke="#555" stroke-width="0.5"/>
<text x="267.1" y="218.6" font-size="3.4" font-family="'Liberation Serif',serif" fill="#555" text-anchor="end">5</text>
<line x1="301.3" y1="172.7" x2="301.3" y2="226.8" stroke="#ededed" stroke-width="0.5"/>
<path d="M286,186.9 L286.2,187.5 L286.5,188.2 L286.7,188.8 L286.7,189.4 L286.7,190 L286.7,190.7 L286.7,191.3 L286.9,191.9 L287.7,192.5 L288.5,193.2 L289.3,193.8 L290,194.4 L290.8,195.1 L291.5,195.7 L292.2,196.3 L292.9,196.9 L293.5,197.6 L294.2,198.2 L294.8,198.8 L295.3,199.4 L295.9,200.1 L296.3,200.7 L296.8,201.3 L297.1,201.9 L297,202.6 L296.7,203.2 L296.2,203.8 L295.7,204.5 L295.2,205.1 L294.6,205.7 L294,206.3 L293.3,207 L292.6,207.6 L291.9,208.2 L291.2,208.8 L290.5,209.5 L289.7,210.1 L288.9,210.7 L288.1,211.4 L287.3,212 L286.7,212.6 L286.7,213.2 L286.7,213.9 L286.7,214.5 L286.7,215.1 L286.5,215.7 L286.2,216.4 L286,217 L285.9,217 L285.7,216.4 L285.5,215.7 L285.3,215.1 L285.2,214.5 L285.2,213.9 L285.2,213.2 L285.2,212.6 L284.6,212 L283.8,211.4 L283,210.7 L282.2,210.1 L281.5,209.5 L280.7,208.8 L280,208.2 L279.3,207.6 L278.6,207 L278,206.3 L277.4,205.7 L276.8,205.1 L276.2,204.5 L275.7,203.8 L275.3,203.2 L274.9,202.6 L274.9,201.9 L275.2,201.3 L275.6,200.7 L276.1,200.1 L276.6,199.4 L277.2,198.8 L277.8,198.2 L278.4,197.6 L279.1,196.9 L279.8,196.3 L280.5,195.7 L281.2,195.1 L281.9,194.4 L282.7,193.8 L283.4,193.2 L284.2,192.5 L285,191.9 L285.2,191.3 L285.2,190.7 L285.2,190 L285.2,189.4 L285.3,188.8 L285.5,188.2 L285.7,187.5 L285.9,186.9Z" fill="#f39a3e"/>
<path d="M280.8 198.4h0M287 204.3h0M287.2 198.4h0M287.7 208.7h0M290.9 205.6h0M291.7 207.1h0M292.7 205.2h0M288.3 207h0M276.2 201.7h0M284.5 200.7h0M280.5 206.6h0M287.3 209.5h0M287.6 206.6h0M294.2 199.5h0M293.8 199.3h0M287.7 195.2h0M283.7 193.4h0M288.1 196.8h0M287 204.9h0M294 201.9h0M286.3 211.6h0M288.4 206.1h0M286 210.5h0M289.3 204.8h0M289.7 196.2h0M292.4 205.3h0M286 207.7h0M280.1 204.8h0M285.9 201.2h0M287.3 211.8h0M288.6 209.8h0M282.1 196.6h0M289.3 202.4h0M292.8 202.9h0M288.4 195.1h0M282.4 208.8h0M290 202.8h0M290.5 201.6h0M285.9 192.6h0M284.7 208.4h0M291.2 198.1h0M283.6 210.4h0M293.6 201.1h0M289.8 201.5h0M290 202.9h0M289.2 195.4h0M288.6 195h0M286.4 196.1h0M287.2 209.6h0M277.3 200.4h0M284.8 198h0M292.9 203.9h0M293.4 200.7h0M289.8 210.1h0M284.6 204h0M286.9 195h0M293.4 205.5h0M285.4 203.1h0M289.9 202.5h0M290.4 195.6h0M285.9 195h0M292.9 202.7h0M287.6 211h0M285.9 197.5h0M291.7 203.6h0M293.4 206.4h0M285.6 209.4h0M280.3 203.2h0M282.8 202.2h0M283.6 201.3h0M282.5 209.9h0M285.5 200.4h0M283.5 193.8h0M283.6 195.6h0M286.6 202.4h0M287.7 204.7h0M277.5 202.1h0M279.4 199.8h0M284.3 200.2h0M292.5 198.9h0M285.4 195.6h0M283.2 205.9h0M285.4 201h0M285.2 207.1h0M285.8 210.1h0M283 209.8h0M278.9 206.8h0M283.6 197.9h0M283.9 194.4h0M284.7 204.1h0M289.4 199h0M290.1 200.7h0M286.7 201.7h0M288.7 205.8h0M280.5 205.3h0M288.3 209.9h0M293.5 199h0M284.9 200.3h0M295.8 201.2h0" stroke="#3a2a1a" stroke-width="0.8" stroke-linecap="round" fill="none" opacity="0.6"/>
<path d="M317,189.6 L317.2,190.3 L317.5,191 L317.7,191.7 L317.7,192.4 L317.7,193.2 L317.7,193.9 L317.7,194.6 L317.7,195.3 L317.7,196 L318.3,196.7 L319.2,197.4 L320,198.2 L320.9,198.9 L321.7,199.6 L322.4,200.3 L323.2,201 L323.9,201.7 L324.5,202.4 L325.2,203.1 L325.8,203.8 L326.3,204.6 L326.8,205.3 L327.3,206 L327.6,206.7 L327.7,207.4 L327.3,208.1 L326.9,208.8 L326.4,209.6 L325.8,210.3 L325.2,211 L324.5,211.7 L323.9,212.4 L323.1,213.1 L322.4,213.8 L321.6,214.5 L320.8,215.2 L320,216 L319.1,216.7 L318.2,217.4 L317.7,218.1 L317.7,218.8 L317.7,219.5 L317.7,220.2 L317.7,221 L317.7,221.7 L317.5,222.4 L317.2,223.1 L317,223.8 L316.9,223.8 L316.6,223.1 L316.4,222.4 L316.2,221.7 L316.2,221 L316.2,220.2 L316.2,219.5 L316.2,218.8 L316.2,218.1 L315.7,217.4 L314.8,216.7 L313.9,216 L313.1,215.2 L312.3,214.5 L311.5,213.8 L310.8,213.1 L310,212.4 L309.3,211.7 L308.7,211 L308.1,210.3 L307.5,209.6 L307,208.8 L306.6,208.1 L306.2,207.4 L306.3,206.7 L306.6,206 L307,205.3 L307.6,204.6 L308.1,203.8 L308.7,203.1 L309.4,202.4 L310,201.7 L310.7,201 L311.5,200.3 L312.2,199.6 L313,198.9 L313.8,198.2 L314.7,197.4 L315.5,196.7 L316.2,196 L316.2,195.3 L316.2,194.6 L316.2,193.9 L316.2,193.2 L316.2,192.4 L316.2,191.7 L316.4,191 L316.6,190.3 L316.9,189.6Z" fill="#5fc1a0"/>
<path d="M313.4 211.5h0M312.2 204h0M310.8 206.9h0M312.9 211.8h0M308.1 209.8h0M322.3 201.2h0M312.2 201.1h0M321.1 210.2h0M314.5 207.9h0M319.3 208.5h0M308.4 209.3h0M316 197.6h0M314.9 211.3h0M312.2 211.8h0M315.7 214.5h0M319.8 211.5h0M314.3 216.1h0M313.9 200.4h0M312.2 205.3h0M318.6 208.8h0M324.7 203.3h0M307.8 207h0M315.7 211.1h0M324.3 207.7h0M319.8 208h0M324.6 204.5h0M321.4 210.4h0M317.6 208h0M321.4 200.7h0M322.1 206.2h0M316.8 215.8h0M324.3 208.4h0M317.6 204.1h0M315.3 214.6h0M317.2 211.8h0M311.9 209.7h0M323.3 211.2h0M318.1 196.9h0M322.3 209.1h0M315.3 217.2h0M316.4 204.3h0M322.6 203.4h0M316.7 198.1h0M312.7 204h0M317.8 204.8h0M315 206.2h0M325.1 205.2h0M310.1 208.6h0M321.6 209.4h0M323.3 209.6h0M312.2 210h0M318.4 210.8h0M310.9 207.5h0M315.9 214.1h0M314.5 212.6h0M316.6 215.3h0M321.3 202.2h0M322.7 213.7h0M321.5 212h0M319 208.5h0M318.3 214.1h0M308.6 204.1h0M307.3 208.5h0M318.6 208.3h0M311.5 203.5h0M320.8 214.8h0M319.1 216.5h0M322.5 205.3h0M316.1 197.4h0M309.1 207.9h0M316.6 198.7h0M318 214.5h0M318.5 207.1h0M321.9 208h0M311.3 212.5h0M314.3 212.3h0M315 214.2h0M313.7 203.6h0M317.8 210.7h0M316.3 209.4h0M316.5 204.7h0M315.2 216.8h0M313.6 207.2h0M313 212.6h0M312.2 203.8h0M313.9 213.4h0M320.6 212h0M316.4 215.9h0M311.9 207.3h0M319.9 205.2h0M317 210.6h0M317.8 198.5h0M310.3 211h0M315.6 199.4h0M311.5 208.1h0M315.6 203.5h0M323.3 209.6h0M313.3 215.8h0M317.7 203.9h0" stroke="#1d3a30" stroke-width="0.8" stroke-linecap="round" fill="none" opacity="0.6"/>
<line x1="286" y1="182" x2="316.9" y2="182" stroke="#777" stroke-width="0.5"/>
<line x1="286" y1="182" x2="286" y2="183.2" stroke="#777" stroke-width="0.5"/>
<line x1="316.9" y1="182" x2="316.9" y2="183.2" stroke="#777" stroke-width="0.5"/>
<text x="301.3" y="181.2" font-size="3.4" font-family="'Liberation Sans',sans-serif" fill="#555" text-anchor="middle">****</text>
<line x1="301.3" y1="226.8" x2="301.3" y2="227.8" stroke="#555" stroke-width="0.5"/>
<text x="286" y="230.6" font-size="3.3" font-family="'Liberation Serif',serif" fill="#333" text-anchor="middle">High</text>
<text x="316.9" y="230.6" font-size="3.3" font-family="'Liberation Serif',serif" fill="#333" text-anchor="middle">Low</text>
<text x="302.5" y="235.6" font-size="4.8" font-family="'Liberation Serif',serif" fill="#222" text-anchor="middle" font-weight="bold" textLength="28" lengthAdjust="spacingAndGlyphs">ICD risk score</text>
<text x="261.8" y="200.2" font-size="4.2" font-family="'Liberation Serif',serif" fill="#222" text-anchor="middle" font-weight="bold" transform="rotate(-90 261.8 200.2)" textLength="9" lengthAdjust="spacingAndGlyphs">CD39</text>
<rect x="350.3" y="172.5" width="64" height="54.2" fill="#fff" stroke="#aaa" stroke-width="0.8"/>
<line x1="350.3" y1="173.3" x2="414.3" y2="173.3" stroke="#ededed" stroke-width="0.5"/>
<line x1="349.3" y1="173.3" x2="350.3" y2="173.3" stroke="#555" stroke-width="0.5"/>
<text x="348.7" y="174.4" font-size="3.4" font-family="'Liberation Serif',serif" fill="#555" text-anchor="end">12</text>
<line x1="350.3" y1="180.9" x2="414.3" y2="180.9" stroke="#ededed" stroke-width="0.5"/>
<line x1="349.3" y1="180.9" x2="350.3" y2="180.9" stroke="#555" stroke-width="0.5"/>
<text x="348.7" y="182" font-size="3.4" font-family="'Liberation Serif',serif" fill="#555" text-anchor="end">10</text>
<line x1="350.3" y1="189.1" x2="414.3" y2="189.1" stroke="#ededed" stroke-width="0.5"/>
<line x1="349.3" y1="189.1" x2="350.3" y2="189.1" stroke="#555" stroke-width="0.5"/>
<text x="348.7" y="190.2" font-size="3.4" font-family="'Liberation Serif',serif" fill="#555" text-anchor="end">8</text>
<line x1="350.3" y1="196.8" x2="414.3" y2="196.8" stroke="#ededed" stroke-width="0.5"/>
<line x1="349.3" y1="196.8" x2="350.3" y2="196.8" stroke="#555" stroke-width="0.5"/>
<text x="348.7" y="197.9" font-size="3.4" font-family="'Liberation Serif',serif" fill="#555" text-anchor="end">6</text>
<line x1="350.3" y1="205" x2="414.3" y2="205" stroke="#ededed" stroke-width="0.5"/>
<line x1="349.3" y1="205" x2="350.3" y2="205" stroke="#555" stroke-width="0.5"/>
<text x="348.7" y="206.1" font-size="3.4" font-family="'Liberation Serif',serif" fill="#555" text-anchor="end">4</text>
<line x1="350.3" y1="212.6" x2="414.3" y2="212.6" stroke="#ededed" stroke-width="0.5"/>
<line x1="349.3" y1="212.6" x2="350.3" y2="212.6" stroke="#555" stroke-width="0.5"/>
<text x="348.7" y="213.7" font-size="3.4" font-family="'Liberation Serif',serif" fill="#555" text-anchor="end">2</text>
<line x1="350.3" y1="220.5" x2="414.3" y2="220.5" stroke="#ededed" stroke-width="0.5"/>
<line x1="349.3" y1="220.5" x2="350.3" y2="220.5" stroke="#555" stroke-width="0.5"/>
<text x="348.7" y="221.6" font-size="3.4" font-family="'Liberation Serif',serif" fill="#555" text-anchor="end">0</text>
<line x1="382.3" y1="172.5" x2="382.3" y2="226.7" stroke="#ededed" stroke-width="0.5"/>
<path d="M367.4,187.5 L367.6,188.3 L367.8,189.2 L367.8,190.1 L368,190.9 L368.4,191.8 L368.9,192.6 L369.5,193.4 L370.3,194.3 L371.1,195.2 L372.1,196 L373,196.8 L374,197.7 L375,198.6 L375.9,199.4 L376.6,200.2 L377.2,201.1 L377.6,201.9 L377.9,202.8 L378,203.7 L378.1,204.5 L378,205.3 L377.9,206.2 L377.6,207.1 L377,207.9 L376.3,208.8 L375.5,209.6 L374.5,210.4 L373.4,211.3 L372.4,212.2 L371.3,213 L370.4,213.8 L369.6,214.7 L368.9,215.6 L368.4,216.4 L368,217.2 L367.8,218.1 L367.8,218.9 L367.8,219.8 L367.6,220.7 L367.3,221.5 L367.2,221.5 L367,220.7 L366.8,219.8 L366.8,218.9 L366.8,218.1 L366.5,217.2 L366.1,216.4 L365.6,215.6 L365,214.7 L364.1,213.8 L363.2,213 L362.2,212.2 L361.1,211.3 L360,210.4 L359,209.6 L358.2,208.8 L357.5,207.9 L357,207.1 L356.6,206.2 L356.5,205.3 L356.5,204.5 L356.5,203.7 L356.6,202.8 L356.9,201.9 L357.3,201.1 L357.9,200.2 L358.6,199.4 L359.5,198.6 L360.5,197.7 L361.5,196.8 L362.5,196 L363.4,195.2 L364.3,194.3 L365,193.4 L365.6,192.6 L366.1,191.8 L366.5,190.9 L366.8,190.1 L366.8,189.2 L367,188.3 L367.2,187.5Z" fill="#f39a3e"/>
<path d="M364.8 208.9h0M366.7 216.5h0M360.7 203.7h0M372.6 208.4h0M369.3 213.4h0M366.7 202.4h0M365.9 203.3h0M376 201.6h0M364.4 206.2h0M372.6 202.8h0M367.7 209.4h0M368.9 201.8h0M374.3 207.2h0M376.6 207.4h0M369.2 203.3h0M363.1 206.3h0M370.1 203.9h0M359.9 201.9h0M357.4 203.3h0M370.8 210h0M376.5 206.5h0M366.9 210.2h0M368.9 213.9h0M369.2 198.4h0M366 210.8h0M368.3 212.7h0M363.8 213.5h0M370.8 213.2h0M373.1 204h0M370.5 207.6h0M372.9 202.3h0M375.9 206.8h0M372.3 208.4h0M360.5 207.3h0M361.2 205.3h0M374.6 204.7h0M367.5 209.8h0M358.4 204h0M365.8 194.1h0M367.1 215.2h0M363.2 205.4h0M358.8 203.6h0M357.8 206.5h0M370.9 204.6h0M367.2 193.1h0M363.8 205.6h0M368.9 203.8h0M361 201.2h0M372.4 204.5h0M359.5 204.5h0M370.4 212.1h0M361.8 203.2h0M366.8 193.1h0M366.3 210.5h0M364.7 201h0M364.6 212.4h0M368.7 195h0M362.1 203.7h0M364.8 196.8h0M371.4 210.1h0M374.8 203.5h0M370.5 196.8h0M365.4 200.7h0M361.4 206.3h0M362 201.4h0M373.5 210.4h0M372 204.2h0M361.6 202.9h0M363.9 202.9h0M368.4 200.1h0M369 195.7h0M369.1 198.6h0M367.6 200.1h0M359.4 205.5h0M364.9 195.9h0M369.8 205.3h0M365.4 206.1h0M368.3 202.5h0M363.6 213.8h0M366.7 199.9h0M368 195.4h0M358.7 200.9h0M376.4 206.4h0M361.9 207.8h0M362.2 203.8h0M376.2 203.5h0M372 207.2h0M365 204.2h0M376 206.7h0M370.3 195.9h0M372.7 209.7h0M374.1 210.1h0M365.6 213.3h0M364 198.6h0M365.2 205.1h0M362.8 197.2h0M367.3 212.4h0M369.3 208.6h0M360.3 203.6h0M373 200.9h0M367.9 195.1h0M366 215.9h0M367.1 207.6h0M372.2 201.5h0M370.9 208.2h0M368.4 197.3h0M365.6 207.1h0M374.8 200.2h0" stroke="#3a2a1a" stroke-width="0.8" stroke-linecap="round" fill="none" opacity="0.6"/>
<path d="M397.7,184.5 L398,185.5 L398.2,186.4 L398.2,187.4 L398.2,188.3 L398.2,189.3 L398.2,190.3 L398.2,191.2 L398.2,192.2 L398.2,193.2 L398.2,194.1 L398.2,195.1 L398.5,196.1 L399,197 L399.7,198 L400.6,198.9 L401.6,199.9 L402.8,200.9 L404,201.8 L405.2,202.8 L406.3,203.8 L407.1,204.7 L407.8,205.7 L408.2,206.6 L408.4,207.6 L408.5,208.6 L408.4,209.5 L408.2,210.5 L407.7,211.4 L407,212.4 L406.1,213.4 L405,214.3 L403.8,215.3 L402.6,216.3 L401.5,217.2 L400.4,218.2 L399.6,219.2 L398.9,220.1 L398.5,221.1 L398.1,222 L397.9,223 L397.4,223 L397.2,222 L396.9,221.1 L396.4,220.1 L395.7,219.2 L394.9,218.2 L393.9,217.2 L392.7,216.3 L391.5,215.3 L390.3,214.3 L389.2,213.4 L388.3,212.4 L387.6,211.4 L387.1,210.5 L386.9,209.5 L386.9,208.6 L386.9,207.6 L387.1,206.6 L387.5,205.7 L388.2,204.7 L389.1,203.8 L390.1,202.8 L391.3,201.8 L392.5,200.9 L393.7,199.9 L394.8,198.9 L395.6,198 L396.3,197 L396.8,196.1 L397.2,195.1 L397.2,194.1 L397.2,193.2 L397.2,192.2 L397.2,191.2 L397.2,190.3 L397.2,189.3 L397.2,188.3 L397.2,187.4 L397.2,186.4 L397.3,185.5 L397.6,184.5Z" fill="#5fc1a0"/>
<path d="M405.5 212.4h0M396.5 200.4h0M395.3 208.8h0M402.7 214.5h0M398.6 210.3h0M392.4 204.5h0M400.8 211.3h0M392.8 200.9h0M396.8 209.7h0M398.8 207.6h0M391.4 213.2h0M399.9 215.8h0M401 210.3h0M395.2 212.4h0M401.6 204.4h0M401.2 208h0M398.2 202.1h0M400.3 215h0M400.3 216.6h0M398.1 217.1h0M395.6 200.1h0M391.6 211.6h0M398.4 215.1h0M404.7 209.5h0M400.8 211.2h0M399.6 212.5h0M397.9 214.4h0M394.7 216h0M398.2 197.7h0M397.9 216.4h0M398 204.9h0M393 207.2h0M391 212.2h0M398.8 200.3h0M397.2 214h0M402.1 203.9h0M394.5 214.8h0M403 209h0M393.2 215h0M396.6 201.5h0M397.3 202.6h0M392.9 214.7h0M396.7 220.3h0M399 207.1h0M397.9 211.8h0M395.2 214.6h0M398.5 208.7h0M399.1 208.8h0M398.2 205.9h0M393.8 216.7h0M400.4 209h0M396 219.6h0M392.1 204.6h0M398.6 202.4h0M400.8 202.5h0M402.1 213h0M390 204.7h0M395.9 211.8h0M395.2 201.4h0M403 212.5h0M398.1 218.7h0M406.5 206.6h0M398.5 216.3h0M399.6 216.1h0M390.7 212.4h0M397.8 200.1h0M397.5 205.8h0M397 204.1h0M395.1 217h0M392.7 204.6h0M404.4 206h0M394.7 202.8h0M393.3 201.4h0M402.2 205.4h0M397.8 220.2h0M390.4 213.6h0M392.6 202.8h0M395 208.9h0M395.7 216.5h0M397.4 204.3h0M400.2 210.9h0M405.6 209.9h0M391.7 204.6h0M400.4 212.6h0M400.2 212.9h0M394 202.3h0M401.1 209.2h0M389.2 209.6h0M406.6 205.4h0M401.2 205.1h0M390.2 204.6h0M398.8 215.9h0M398.1 220.6h0M390.8 207.4h0M404.4 204.6h0M405.1 206.6h0M395.8 208.4h0M400.5 204.3h0M395.1 208.2h0M397.6 206h0M395 210.5h0M396.4 206.8h0M395 213.3h0M395.7 209.7h0M393.6 207.6h0M396.7 206.3h0M401.6 214.7h0M395.6 210.3h0" stroke="#1d3a30" stroke-width="0.8" stroke-linecap="round" fill="none" opacity="0.6"/>
<line x1="367.3" y1="181.8" x2="397.7" y2="181.8" stroke="#777" stroke-width="0.5"/>
<line x1="367.3" y1="181.8" x2="367.3" y2="183" stroke="#777" stroke-width="0.5"/>
<line x1="397.7" y1="181.8" x2="397.7" y2="183" stroke="#777" stroke-width="0.5"/>
<text x="382.3" y="181" font-size="3.4" font-family="'Liberation Sans',sans-serif" fill="#555" text-anchor="middle">****</text>
<line x1="382.3" y1="226.7" x2="382.3" y2="227.7" stroke="#555" stroke-width="0.5"/>
<text x="367.3" y="230.5" font-size="3.3" font-family="'Liberation Serif',serif" fill="#333" text-anchor="middle">High</text>
<text x="397.7" y="230.5" font-size="3.3" font-family="'Liberation Serif',serif" fill="#333" text-anchor="middle">Low</text>
<text x="383.5" y="235.5" font-size="4.8" font-family="'Liberation Serif',serif" fill="#222" text-anchor="middle" font-weight="bold" textLength="28" lengthAdjust="spacingAndGlyphs">ICD risk score</text>
<text x="342.1" y="200.1" font-size="4.2" font-family="'Liberation Serif',serif" fill="#222" text-anchor="middle" font-weight="bold" transform="rotate(-90 342.1 200.1)" textLength="12" lengthAdjust="spacingAndGlyphs">CD73</text>
<rect x="434.6" y="171.9" width="61.2" height="54.1" fill="#fff" stroke="#aaa" stroke-width="0.8"/>
<line x1="434.6" y1="177.4" x2="495.8" y2="177.4" stroke="#ededed" stroke-width="0.5"/>
<line x1="433.6" y1="177.4" x2="434.6" y2="177.4" stroke="#555" stroke-width="0.5"/>
<text x="433" y="178.5" font-size="3.4" font-family="'Liberation Serif',serif" fill="#555" text-anchor="end">0.20</text>
<line x1="434.6" y1="187.2" x2="495.8" y2="187.2" stroke="#ededed" stroke-width="0.5"/>
<line x1="433.6" y1="187.2" x2="434.6" y2="187.2" stroke="#555" stroke-width="0.5"/>
<text x="433" y="188.3" font-size="3.4" font-family="'Liberation Serif',serif" fill="#555" text-anchor="end">0.15</text>
<line x1="434.6" y1="197.3" x2="495.8" y2="197.3" stroke="#ededed" stroke-width="0.5"/>
<line x1="433.6" y1="197.3" x2="434.6" y2="197.3" stroke="#555" stroke-width="0.5"/>
<text x="433" y="198.4" font-size="3.4" font-family="'Liberation Serif',serif" fill="#555" text-anchor="end">0.10</text>
<line x1="434.6" y1="207.7" x2="495.8" y2="207.7" stroke="#ededed" stroke-width="0.5"/>
<line x1="433.6" y1="207.7" x2="434.6" y2="207.7" stroke="#555" stroke-width="0.5"/>
<text x="433" y="208.8" font-size="3.4" font-family="'Liberation Serif',serif" fill="#555" text-anchor="end">0.05</text>
<line x1="434.6" y1="217.5" x2="495.8" y2="217.5" stroke="#ededed" stroke-width="0.5"/>
<line x1="433.6" y1="217.5" x2="434.6" y2="217.5" stroke="#555" stroke-width="0.5"/>
<text x="433" y="218.6" font-size="3.4" font-family="'Liberation Serif',serif" fill="#555" text-anchor="end">0.00</text>
<line x1="465.2" y1="171.9" x2="465.2" y2="226" stroke="#ededed" stroke-width="0.5"/>
<path d="M451.1,184 L451.8,196 L453,204 L454.8,210 L457.8,214 L461.3,217 L461.8,218.5 L458.8,220.5 L453.8,223 L447.8,223 L442.8,220.5 L439.8,218.5 L440.3,217 L443.8,214 L446.8,210 L448.6,204 L449.8,196 L450.5,184Z" fill="#f39a3e"/>
<path d="M448.4 215.6h0M449.2 212.4h0M458.1 222.2h0M451.7 208.5h0M450 199.9h0M450.6 198.3h0M449.3 217.2h0M450.3 197.5h0M450.6 199.5h0M446.3 221.3h0M449.8 217.2h0M456.9 218h0M449.6 216.8h0M452.7 219h0M450.3 207.3h0M450.4 203.4h0M443.1 220.3h0M459.6 218.1h0M452.4 216.4h0M447.9 222.1h0M444.9 220.8h0M452.1 213.9h0M447.9 216h0M453.3 214h0M450.8 214.3h0M450 216h0M441.1 219.7h0M455.5 222.2h0M447.4 220.4h0M442.2 219.9h0M452.6 215.2h0M450.3 219h0M449.3 206h0M450.3 196.1h0M446.8 215.7h0M446.8 222.5h0M451.3 209.6h0M457.9 218.8h0M453.6 219h0M457.9 217.7h0M441.3 218.4h0M450.2 204.4h0M451 199h0M450 196.1h0M453.5 221.1h0M450.2 216.6h0M452.5 206.7h0M445.1 220.8h0M457.4 215.9h0M443.4 222.9h0M444.6 220.2h0M449.6 215.2h0M452 208.3h0M449.8 204.2h0M453.1 216.5h0M443.4 222.1h0M440.5 220.2h0M441.4 220.4h0M461.2 220h0M445.7 222h0M452 218.8h0M448 212.6h0M454.2 212.2h0" stroke="#3a2a1a" stroke-width="0.8" stroke-linecap="round" fill="none" opacity="0.6"/>
<path d="M480.1,204.5 L480.5,210 L481.4,215 L485.9,217.5 L489.9,218.5 L485.9,219.8 L480.9,220.5 L478.9,220.5 L473.9,219.8 L469.9,218.5 L473.9,217.5 L478.4,215 L479.3,210 L479.7,204.5Z" fill="#5fc1a0"/>
<path d="M488.8 219.3h0M480 218.9h0M476.9 219.5h0M475.9 219.6h0M480.6 218h0M478 218.8h0M475.3 217.7h0M486.3 219.6h0M475.3 219.3h0M480.8 215.9h0M479.3 215.4h0M477.1 219.9h0M480.3 219.5h0M487.3 219.1h0M488.7 219.2h0M479.9 217h0M489.2 219.6h0M475 218.6h0M480.5 218.3h0M477.4 220.4h0M474.2 218.6h0M477.6 217.6h0M475.2 219.8h0M470.6 218.6h0M477 218.8h0M475 217.8h0M486.8 218.8h0M479.4 216.5h0M479.3 216.8h0M482.1 219.6h0M483.3 220h0" stroke="#1d3a30" stroke-width="0.8" stroke-linecap="round" fill="none" opacity="0.6"/>
<line x1="440.8" y1="218.4" x2="460.8" y2="218.4" stroke="#222" stroke-width="0.6"/>
<line x1="469.4" y1="218.4" x2="490.4" y2="218.4" stroke="#222" stroke-width="0.6"/>
<line x1="450.8" y1="181.2" x2="479.9" y2="181.2" stroke="#777" stroke-width="0.5"/>
<line x1="450.8" y1="181.2" x2="450.8" y2="182.4" stroke="#777" stroke-width="0.5"/>
<line x1="479.9" y1="181.2" x2="479.9" y2="182.4" stroke="#777" stroke-width="0.5"/>
<text x="465.2" y="180.4" font-size="3.4" font-family="'Liberation Sans',sans-serif" fill="#555" text-anchor="middle">****</text>
<line x1="465.2" y1="226" x2="465.2" y2="227" stroke="#555" stroke-width="0.5"/>
<text x="450.8" y="229.8" font-size="3.3" font-family="'Liberation Serif',serif" fill="#333" text-anchor="middle">High</text>
<text x="479.9" y="229.8" font-size="3.3" font-family="'Liberation Serif',serif" fill="#333" text-anchor="middle">Low</text>
<text x="466.4" y="234.8" font-size="4.8" font-family="'Liberation Serif',serif" fill="#222" text-anchor="middle" font-weight="bold" textLength="28" lengthAdjust="spacingAndGlyphs">ICD risk score</text>
<text x="423.2" y="199.4" font-size="4.2" font-family="'Liberation Serif',serif" fill="#222" text-anchor="middle" font-weight="bold" transform="rotate(-90 423.2 199.4)" textLength="10.4" lengthAdjust="spacingAndGlyphs">Tregs</text>
<rect x="33" y="251.6" width="113.8" height="112.9" fill="#fff" stroke="#333" stroke-width="0.8"/>
<line x1="31.5" y1="255.2" x2="33" y2="255.2" stroke="#333" stroke-width="0.6"/>
<text x="30.5" y="257.7" font-size="7" font-family="'Liberation Sans',sans-serif" fill="#333" text-anchor="end">4</text>
<line x1="31.5" y1="279.3" x2="33" y2="279.3" stroke="#333" stroke-width="0.6"/>
<text x="30.5" y="281.8" font-size="7" font-family="'Liberation Sans',sans-serif" fill="#333" text-anchor="end">2</text>
<line x1="31.5" y1="303.4" x2="33" y2="303.4" stroke="#333" stroke-width="0.6"/>
<text x="30.5" y="305.9" font-size="7" font-family="'Liberation Sans',sans-serif" fill="#333" text-anchor="end">0</text>
<line x1="31.5" y1="327.6" x2="33" y2="327.6" stroke="#333" stroke-width="0.6"/>
<text x="30.5" y="330.1" font-size="7" font-family="'Liberation Sans',sans-serif" fill="#333" text-anchor="end">-2</text>
<line x1="31.5" y1="351.8" x2="33" y2="351.8" stroke="#333" stroke-width="0.6"/>
<text x="30.5" y="354.3" font-size="7" font-family="'Liberation Sans',sans-serif" fill="#333" text-anchor="end">-4</text>
<line x1="40.8" y1="364.5" x2="40.8" y2="366" stroke="#333" stroke-width="0.6"/>
<text x="40.8" y="373" font-size="7" font-family="'Liberation Sans',sans-serif" fill="#333" text-anchor="middle">-2</text>
<line x1="69.5" y1="364.5" x2="69.5" y2="366" stroke="#333" stroke-width="0.6"/>
<text x="69.5" y="373" font-size="7" font-family="'Liberation Sans',sans-serif" fill="#333" text-anchor="middle">-1</text>
<line x1="98.2" y1="364.5" x2="98.2" y2="366" stroke="#333" stroke-width="0.6"/>
<text x="98.2" y="373" font-size="7" font-family="'Liberation Sans',sans-serif" fill="#333" text-anchor="middle">0</text>
<line x1="126.9" y1="364.5" x2="126.9" y2="366" stroke="#333" stroke-width="0.6"/>
<text x="126.9" y="373" font-size="7" font-family="'Liberation Sans',sans-serif" fill="#333" text-anchor="middle">1</text>
<text x="18" y="301" font-size="6" font-family="'Liberation Serif',serif" fill="#444" text-anchor="middle" transform="rotate(-90 18 301)">Exclusion</text>
<text x="84" y="380" font-size="6.3" font-family="'Liberation Serif',serif" fill="#444" text-anchor="middle">ICDrisk score</text>
<path d="M79.1 321.6h0M86.2 334h0M71.9 333.6h0M99.4 300h0M79.4 311h0M77.3 326.7h0M96.6 322.1h0M70 347.7h0M88.2 297.9h0M85.8 314.6h0M101.4 303.4h0M99.8 295.3h0M80.5 322.9h0M97.8 325.2h0M115.8 293.1h0M88.6 312.1h0M88.2 307.1h0M73 319.5h0M92.7 330.2h0M88.3 321.1h0M87 300.8h0M91.8 306.6h0M69.2 310.3h0M81.3 318.7h0M89.6 317.9h0M90.2 326.1h0M93.2 285.9h0M89.5 303.8h0M82.1 331.3h0M88.6 323.9h0M75.6 326.5h0M107.5 315.1h0M83.8 301.8h0M79.1 333.7h0M76.5 341.9h0M90.5 332.8h0M86 323.5h0M97.8 312.9h0M85.4 328.1h0M101.5 288.7h0M94.7 304h0M70.6 331.5h0M82.2 333.6h0M104.5 301.2h0M67 341.6h0M76.4 301.7h0M92.5 326.7h0M74.3 305.4h0M92 302.9h0M78.9 327.4h0M85.4 313.2h0M76.3 300.1h0M88.9 298.1h0M85.8 292.6h0M68.9 319.2h0M88 290.6h0M91.8 310.5h0M58.1 313.2h0M75.1 330.8h0M77.1 312.5h0M108.2 299.4h0M92.5 321.6h0M95.3 317.8h0M82.1 302.8h0M90.1 319.3h0M62.4 314.6h0M99.6 279.3h0M106.5 285.2h0M88.4 316h0M83.9 314.7h0M74.7 319.7h0M72 314.3h0M74.8 312.8h0M82.7 312.8h0M81 323.3h0M93.3 320.2h0M66.3 335.2h0M90.7 319.2h0M78.3 314.3h0M80.6 298.7h0M102.4 313h0M89.2 304.8h0M87 294.4h0M99.7 290.9h0M87.1 295.2h0M96.8 310.7h0M89 318.6h0M53.4 332h0M98.1 307.2h0M104.2 315.5h0M65.2 332.3h0M106.2 312.8h0M97.4 288.3h0M84.5 317.3h0M83.7 321.3h0M102.7 288.2h0M95.4 317h0M75.6 332.4h0M80.4 325.7h0M108.4 305.4h0M67.6 317.6h0M92.7 301.4h0M59.2 325.9h0M47.8 328.6h0M81.5 309.5h0M71.2 327.7h0M94 334.2h0M74.3 355.3h0M104.4 317.8h0M117.6 282.1h0M76.3 312.4h0M90.7 307.6h0M87.8 328.2h0M94.2 297.8h0M88.1 305.4h0M86.2 336.8h0M75.2 303.9h0M96.8 295.6h0M67.2 320.6h0M81.2 314.9h0M87.2 301.1h0M86.8 309.6h0M93.5 311.9h0M83.4 324h0M85.5 329.7h0M85.1 307.4h0M92.7 317.6h0M57.4 337.9h0M88 328.9h0M77.4 325.9h0M75 330.1h0M93.7 309.7h0M70.7 307.1h0M92.1 309.6h0M74 288.4h0M63.3 337.5h0M94 303h0M89.6 301.7h0M94 304.8h0M106.4 316.9h0M86.6 326.2h0M106.5 303.7h0M70.8 335.2h0M88.5 284.8h0M60.3 340.3h0M103 303.1h0M90.1 306.4h0M86.7 307.9h0M72.1 324.9h0M88.2 313.1h0M69.4 303.7h0M99.6 293.1h0M108.2 303.3h0M83 354.8h0M80.5 339.3h0M69.7 280.5h0M105 317h0M81.8 319.1h0M76.6 316.7h0M91.5 318.3h0M85.8 289.7h0M65.7 340.9h0M94.6 349.7h0M81.3 328.4h0M76.8 307.8h0M82.9 320.5h0M73.2 309.1h0M65.5 317h0M74.5 338.1h0M86.5 311h0M81 317.2h0M105.8 293.1h0M101.2 317.8h0M93.4 323h0M91.2 313.3h0M91.5 301h0M103.4 308h0M74.8 316.2h0M96.7 310h0M111.9 288.8h0M92.6 293h0M79.7 285.4h0M67.1 316.5h0M83.5 313.9h0M82.4 320.5h0M55.6 323.5h0M89.9 304.2h0M104.3 297.4h0M80.8 333.7h0M88.3 318.6h0M96.4 314h0M74.4 316.1h0M94.5 303.7h0M97.6 305.2h0M74.2 294.2h0M82.4 323.5h0M80.7 307.1h0M80.5 319.7h0M92.5 308.6h0M74.7 301.2h0M71.2 316.7h0M72.5 328.9h0M74.7 324.3h0M71 343.4h0M77.4 305.8h0M92.9 272.3h0M87.8 307.6h0M117.2 286.9h0M73.4 336.3h0M107.6 310.2h0M98.5 300.4h0M87.1 297.8h0M86.8 316.3h0M99.2 304.4h0M113.4 292.5h0M81.9 331.9h0M85.4 310.1h0M95.3 309.7h0M71.4 336.4h0M83.5 325.7h0M84.9 310.7h0M92.9 295.3h0M69.8 331.6h0M85.4 337.3h0M53.8 350.8h0M85.9 313.2h0M105.2 299.2h0M107.1 286.7h0M101.2 306.2h0M85.5 325.7h0M95 299.9h0M93.8 320.2h0M95.4 292.8h0M93.1 323.5h0M98 310h0M103.9 328.7h0M100.1 318h0M88.2 296.5h0M87 316.9h0M79.5 309.8h0M91.2 317.9h0M96.9 303.6h0M85.2 308.2h0M93.4 342.2h0M54.8 329.4h0M99.2 305h0M76.8 322.2h0M81 310.9h0M83.6 308.1h0M78.5 319.9h0M69.2 323.7h0M69.7 307.8h0M112.3 292.4h0M96.5 317.1h0M94.3 301.4h0M94.6 332.3h0M97.2 299.6h0M86.7 287.5h0M79.1 312.6h0M87.3 302.8h0M117.1 290.8h0M94.5 310.4h0M86.1 315.5h0M91.5 299.8h0M86.1 315.3h0M101.4 331.4h0M94 305.1h0M94.7 302.9h0M80.6 321.9h0M80.6 325.1h0M84.7 312h0M80.7 314.7h0M114.2 284.9h0M103 294.7h0M98.1 306.5h0M80.7 324.3h0M84.8 283.2h0M72.9 331.2h0M76.1 344.2h0M98.2 313.7h0M83.4 308.9h0M82.2 323.1h0M94.3 294.8h0M74.1 291.2h0M83.6 334.6h0M97.8 295h0M90.4 311.2h0M100 304h0M83.3 325.9h0M82.3 323.5h0M80.4 318.7h0M88.7 304.2h0M81.7 305.4h0M97 320.1h0M87.4 303.6h0M75.9 318.1h0M95.8 298.1h0M86.3 297.7h0M109.5 276.2h0M90.4 325.8h0M103.1 336.9h0M87.2 310.5h0M91.3 310.5h0M103.6 312.7h0M92.7 287.1h0M91.7 320.8h0M89.5 318.5h0M96.4 301.8h0M80.2 307.2h0M87.8 320.2h0M78.7 333.7h0M105 318.2h0M86.8 315.7h0M101.3 318.7h0M92.3 321.1h0M106.8 288.2h0M87.2 336h0M67.7 319.1h0M72.5 309.6h0M100.9 302h0M90.3 277.1h0M105.1 293.9h0M90.6 294h0M102.6 322.6h0M90.3 318.6h0M97.7 318.2h0M85.4 315.5h0M73.8 297.3h0M93.5 312.5h0M85.9 319.7h0M88.2 300.4h0M97 303.7h0M88.5 321.4h0M80.2 316h0M83.9 308h0M84.7 343.7h0M89.8 327.9h0M76 317.2h0M115.2 299.2h0M78.8 310.1h0M74.5 329.1h0M91 321.2h0M100.8 307h0M75.5 310.6h0M97.8 302h0M48.4 324.2h0M75.8 312.4h0M101 315.9h0M91.4 315h0M82.5 330.6h0M65.8 315.4h0M72.2 333.2h0M103.1 293.2h0M81.6 312.7h0M69.9 328.8h0M76.6 322.9h0M104.1 287.9h0M100.4 323.4h0M94.5 312.2h0M91 325.4h0M63.2 312h0M84.5 300.3h0M94.8 318.9h0M77.4 326.5h0M77.4 317h0M72.8 317.5h0M67.6 319.6h0M62.7 335h0M94.9 309.1h0M81.4 309.4h0M79 333.6h0M75.5 302.7h0M73.2 313.9h0M75.1 325.7h0M86 311.2h0M81.7 324.3h0M72.3 323h0M69 336.4h0M88.7 310.3h0M100.7 301.8h0M95.1 301.9h0M62.2 332h0M78.8 318.3h0M78.6 308.9h0M84.3 328.1h0M85.6 310h0M99.1 313.7h0M83 300.8h0M72.3 320.7h0M123.1 265.1h0M100.3 310.5h0M89.8 302.1h0M90.5 315.7h0M73 338.9h0M63.5 315.6h0M68.2 323h0M97.4 310.5h0M87.3 313.6h0M96.1 318.5h0M63.9 335h0M81.3 291.9h0M86.5 308.1h0M99.8 328.3h0M91.7 295.2h0M72.3 346.7h0M89 315.4h0M82.5 330h0M80.6 318.3h0M97.4 298.7h0M107.3 325.5h0M79.2 330.1h0M78.2 321.1h0M73.7 312.2h0M76.2 306.3h0M100.4 304.9h0M80 311.9h0M94.2 300.4h0M89.4 327.4h0M75.9 327.7h0M77.5 311.2h0M86.3 312.4h0M80.9 323.9h0M84.2 319.2h0M96.5 310.6h0M73.2 340.6h0M78.8 286.9h0M43 311.6h0M85.3 325.4h0M87.7 302.8h0M83.2 332.9h0M48.2 326.8h0M64.1 308.1h0M92.4 323.6h0M94.6 290.4h0M70.6 327.5h0M74.9 327.1h0M87.4 302.6h0M102 298.4h0M83.7 295.1h0M74.5 331.2h0M69.9 331.1h0M75.5 317.4h0M88.2 319.1h0M115.7 306h0M90.7 323.1h0M91.6 315.3h0M72.5 323.9h0M70.7 315.3h0M83.4 312.4h0M76.9 318.5h0M78.4 299.4h0M88.8 305.8h0M98.3 329.3h0M85.3 312.3h0M95.6 296.2h0M80.1 325h0M86.3 310h0M92.2 315h0M78.5 343.8h0M78.2 309.5h0M90 307.3h0M100.4 314.6h0M80.5 314h0M97.7 333.4h0M93.3 312.1h0M78.6 332.6h0M70.7 328h0M96.4 294.3h0M58.1 329.8h0M98.5 296.8h0M143.5 254.5h0M36 315h0M37 329h0M45 320h0M47 344h0M122 270h0M118 264h0" stroke="#f8b677" stroke-width="3.7" stroke-linecap="round" fill="none"/>
<polygon points="37.2,336 90,310.9 143.6,278.6 143.6,290.6 90,313.9 37.2,344.4" fill="#888" opacity="0.5"/>
<line x1="37.2" y1="340.2" x2="143.6" y2="284.6" stroke="#111" stroke-width="1"/>
<text x="143.3" y="346" font-size="6" font-family="'Liberation Sans',sans-serif" fill="#f2303e" text-anchor="end">Spearman</text>
<text x="143.3" y="354" font-size="6" font-family="'Liberation Sans',sans-serif" fill="#f2303e" text-anchor="end">r = 0.441</text>
<text x="143.3" y="361.8" font-size="6" font-family="'Liberation Sans',sans-serif" fill="#f2303e" text-anchor="end">ρ < 0.001</text>
<rect x="188.6" y="251.5" width="127.4" height="116.8" fill="#fff" stroke="#555" stroke-width="0.7"/>
<line x1="187.4" y1="362.3" x2="188.6" y2="362.3" stroke="#555" stroke-width="0.5"/>
<text x="186.8" y="363.6" font-size="4" font-family="'Liberation Serif',serif" fill="#444" text-anchor="end">0</text>
<line x1="187.4" y1="338.3" x2="188.6" y2="338.3" stroke="#555" stroke-width="0.5"/>
<text x="186.8" y="339.6" font-size="4" font-family="'Liberation Serif',serif" fill="#444" text-anchor="end">1000</text>
<line x1="187.4" y1="314.3" x2="188.6" y2="314.3" stroke="#555" stroke-width="0.5"/>
<text x="186.8" y="315.6" font-size="4" font-family="'Liberation Serif',serif" fill="#444" text-anchor="end">2000</text>
<line x1="187.4" y1="290.4" x2="188.6" y2="290.4" stroke="#555" stroke-width="0.5"/>
<text x="186.8" y="291.7" font-size="4" font-family="'Liberation Serif',serif" fill="#444" text-anchor="end">3000</text>
<line x1="187.4" y1="266.5" x2="188.6" y2="266.5" stroke="#555" stroke-width="0.5"/>
<text x="186.8" y="267.8" font-size="4" font-family="'Liberation Serif',serif" fill="#444" text-anchor="end">4000</text>
<line x1="193.2" y1="368.3" x2="193.2" y2="369.5" stroke="#555" stroke-width="0.5"/>
<text x="193.2" y="372.6" font-size="4" font-family="'Liberation Serif',serif" fill="#444" text-anchor="middle">-1000</text>
<line x1="220.6" y1="368.3" x2="220.6" y2="369.5" stroke="#555" stroke-width="0.5"/>
<text x="220.6" y="372.6" font-size="4" font-family="'Liberation Serif',serif" fill="#444" text-anchor="middle">0</text>
<line x1="248.4" y1="368.3" x2="248.4" y2="369.5" stroke="#555" stroke-width="0.5"/>
<text x="248.4" y="372.6" font-size="4" font-family="'Liberation Serif',serif" fill="#444" text-anchor="middle">1000</text>
<line x1="276.2" y1="368.3" x2="276.2" y2="369.5" stroke="#555" stroke-width="0.5"/>
<text x="276.2" y="372.6" font-size="4" font-family="'Liberation Serif',serif" fill="#444" text-anchor="middle">2000</text>
<line x1="303.8" y1="368.3" x2="303.8" y2="369.5" stroke="#555" stroke-width="0.5"/>
<text x="303.8" y="372.6" font-size="4" font-family="'Liberation Serif',serif" fill="#444" text-anchor="middle">3000</text>
<text x="176.8" y="309.6" font-size="5.9" font-family="'Liberation Serif',serif" fill="#222" text-anchor="middle" transform="rotate(-90 176.8 309.6)">Microenvironment tumor neoantigen</text>
<text x="249.4" y="376.5" font-size="6.2" font-family="'Liberation Serif',serif" fill="#222" text-anchor="middle">Immune Score</text>
<line x1="188.6" y1="359.3" x2="316" y2="359.3" stroke="#888" stroke-width="0.5" stroke-dasharray="1,1.3"/>
<line x1="262.8" y1="251.5" x2="262.8" y2="368.3" stroke="#888" stroke-width="0.5" stroke-dasharray="1,1.3"/>
<path d="M227.7 348.6h0M228.4 358.7h0M243.9 358.7h0M243.5 356.7h0M256.5 356.8h0M267.1 360.9h0M235 359.5h0M215 361.3h0M226.8 357h0M249.9 360.5h0M225.7 353.8h0M218.7 359.3h0M245.2 357.8h0M255.8 353.7h0M235.2 358.2h0M250.7 351.4h0M213 350.2h0M224.9 352h0M262.1 359.3h0M235.3 359h0M251.4 361.5h0M238.5 338.6h0M246.1 349.2h0M243.2 359h0M252.6 359h0M253.2 359.4h0M279.2 361h0M211.9 361.1h0M244 359.7h0M238 356.8h0M234.5 362h0M209.1 360.5h0M263.3 360h0M238 359.9h0M264.7 359.7h0M203.3 361.8h0M243.2 361.9h0M254.7 351.8h0M241 358h0M241.3 353.7h0M268.9 337h0M249.9 360.3h0M240.1 360.2h0M225.7 360.1h0M232.7 361.8h0M255.3 352.2h0M245.3 361.7h0M239.3 357.3h0M272.8 360.9h0M199 360.9h0M246.8 357.2h0M265.6 344h0M236.8 351.1h0M205.7 361.7h0M255.6 354.5h0M192.6 359.6h0M263.7 361.9h0M271 359.4h0M274.8 360.9h0M242.9 358.6h0M246.7 356.5h0M263.2 358.9h0M269.6 361.8h0M248.8 361.2h0M225.4 350.6h0M214.7 348.5h0M246.6 361.1h0M253.2 358.1h0M258.7 358.7h0M233.3 360.4h0M253.2 357.7h0M239.9 359.5h0M242.4 361.3h0M200 338.9h0M242.9 360.9h0M235.2 356.3h0M263.8 360.5h0M259.4 349.1h0M235.7 354.9h0M224.2 361.7h0M253.7 361.4h0M206.1 355h0M243.5 359.1h0M220.3 351.4h0M263.5 360.6h0M245.2 358h0M220.4 350.6h0M260.9 353.8h0M228.4 360.4h0M262.4 360.2h0M220.2 359.6h0M249.7 359.2h0M281.8 331.2h0M258.4 357.9h0M233.8 348.9h0M263.8 358.2h0M256.9 355h0M265.9 353.4h0M223.4 359.2h0M284.2 358.6h0M199.3 347.2h0M259.7 360.6h0M226 358.9h0M202.2 361.5h0M272.8 336.6h0M237.7 356.1h0M225.4 361.7h0M286 358h0M223.3 359h0M279 361.4h0M248.2 348.8h0M201 345.4h0M232.6 355.7h0M251.7 357.5h0M225 361.9h0M265.6 361.6h0M255 352.1h0M237.3 356.3h0M274.4 357.1h0M237.9 361.8h0M231 360.9h0M245 358.4h0M262.8 356.2h0M227.1 361h0M269.9 347.5h0M247.3 360.7h0M238.1 355.8h0M278.5 348.5h0M230.5 356.1h0M261 361.4h0M241.2 359.9h0M271.2 360h0M248.1 356.3h0M232.4 361.8h0M244.2 358.8h0M253.6 355.4h0M235.7 356.2h0M251.1 348.9h0M267 359h0M230.7 360.6h0M254.9 352.3h0M283 360.6h0M219.5 349.1h0M238.2 348.9h0M234.7 361h0M254.1 351h0M248.8 351.6h0M227.7 361.9h0M256 349.8h0M229.3 361.3h0M242.2 356.5h0M229.6 360h0M232.9 358.3h0M263.3 360.8h0M264.9 359.2h0M216.7 349.6h0M262.3 360h0M256.5 354.7h0M241.3 361.5h0M226.3 354.1h0M247.5 350.5h0M272.1 360.7h0M236.7 361.1h0M266.2 360.4h0M237.4 361.1h0M231.2 360.5h0M252.6 361.2h0M240.4 358.2h0M262.7 358.2h0M235.7 358.3h0M214.7 359.1h0M253.8 361.5h0M273.1 345.6h0M252.5 360.8h0M231.7 355.4h0M209.5 360.5h0M251.8 353.5h0M230.3 352.2h0M267.8 358.5h0M279.3 349h0M229.1 357h0M227.2 331.3h0M255.4 357.8h0M267.4 343.2h0M256.1 350.4h0M272.4 334.7h0M260.8 360.7h0M258.5 345.1h0M260.6 350.4h0M265.3 360.2h0M250.8 359h0M218 359.5h0M277 361.8h0M222.1 360.2h0M256.6 301.3h0M217 328.5h0M271.4 323.8h0M300.6 336.3h0M229.4 347.9h0M249.6 333.7h0M281.2 333.7h0M215.2 354.4h0M237 349h0M244 344h0M262 346h0M224 352h0M210 357h0" stroke="#f2624b" stroke-width="1.4" stroke-linecap="round" fill="none"/>
<path d="M288.6 357.8h0M247.5 360.9h0M308.5 361.6h0M250.6 340.1h0M272 348.4h0M310.8 361h0M286.9 355.3h0M267.5 359.3h0M253.7 351.5h0M248.1 358.8h0M281.2 356.1h0M307.8 359.3h0M269.9 357.1h0M274.4 360.7h0M285.5 361.7h0M306.2 360h0M262.7 348.6h0M283.4 358h0M302.9 342h0M244.9 361.2h0M288.6 361.1h0M272.2 349.5h0M266.2 350.5h0M283.2 337.7h0M286.1 361.8h0M266.2 350.9h0M228.8 351.4h0M293.3 340.6h0M279 341.5h0M295.5 351h0M262 354.4h0M270 361.7h0M263.1 358.5h0M291.8 360.7h0M260.3 361.8h0M251.6 359.4h0M235 361.3h0M266.4 351.9h0M233.3 359.2h0M256.8 361.9h0M247.2 361.7h0M275.7 356.4h0M311.5 361.8h0M269.8 359.7h0M238.9 361.9h0M251.5 359.6h0M261 360.1h0M260.2 349.2h0M297.5 361.6h0M247.2 358.4h0M271.8 358.3h0M247.3 359.4h0M267.3 361.2h0M259.4 361.1h0M265.2 358.3h0M312 358.5h0M244.5 358.1h0M307.8 360.7h0M270.7 358.2h0M247.2 357.3h0M253.5 358.7h0M246.1 358.7h0M260.5 358.2h0M241.4 360.2h0M232 361.8h0M262.5 362h0M272.8 356.2h0M266.9 336.9h0M290.8 361.9h0M259.9 359.1h0M263.7 353.6h0M261.1 362h0M280.5 355.3h0M273 359.5h0M258.6 351h0M280.5 358.2h0M277.6 361.3h0M263.8 362h0M271.7 356.1h0M271.4 348.6h0M272.5 359.8h0M265.8 357.8h0M265.8 359.5h0M286.8 361.3h0M247.4 357.1h0M250.9 360.8h0M262.2 349.5h0M219 361.4h0M277.8 351.6h0M275.2 360.7h0M251.5 356h0M236 361.9h0M253.6 358.4h0M270.1 340h0M245.2 360.7h0M265.6 349h0M247.3 352.9h0M284.6 349.3h0M267.9 359.2h0M269.3 361.3h0M288.1 360.7h0M258.3 361.3h0M270.3 351.4h0M281.6 348.5h0M266.4 351.9h0M292.8 361.4h0M264.8 358.5h0M280.8 350.2h0M309.5 348.4h0M259 358h0M256.3 361.3h0M276.9 359.4h0M278.5 340.1h0M271.5 350h0M253.7 359.5h0M262.1 360.6h0M312 360.2h0M236.1 354.5h0M280.4 356.9h0M258 356.5h0M286.2 359.9h0M279.2 357.7h0M309.8 360.9h0M279.3 354.9h0M279.7 360.4h0M260.4 354.4h0M281.1 360.6h0M264.8 361.6h0M274.4 361.6h0M225.3 360.6h0M249.6 360.6h0M270.3 358.4h0M264.6 358.2h0M245.9 361.8h0M250.1 361.2h0M246 359.4h0M267.6 360.4h0M280.7 354.4h0M254.7 356.1h0M258.7 359.7h0M273.7 359.1h0M278.7 361.2h0M249.7 357.7h0M280.9 360.9h0M278.1 360.5h0M275.3 358.6h0M255.7 359.6h0M285.3 358.9h0M247.1 360.7h0M275.5 351.7h0M252.8 352.2h0M302.4 361.2h0M236.8 360.1h0M264.2 358.4h0M257.1 360.8h0M267.5 349.8h0M305.5 347.6h0M269.6 359.2h0M304.7 356.6h0M259 351.4h0M239.3 348.9h0M218.9 360h0M276.3 355.8h0M251.5 358.7h0M267.7 361.1h0M253 359.4h0M259.7 357.6h0M281.8 356.3h0M267 361h0M274.3 360.1h0M244.6 361.4h0M248.1 359.7h0M285.4 360.2h0M281.9 361.4h0M246 349.7h0M241.8 358.7h0M286.5 348h0M277.9 358.7h0M268.7 357.3h0M265.8 358.6h0M238.5 359h0M283.1 361.1h0M266.6 335.7h0M283.4 351h0M282.5 362h0M279 359.8h0M290 256.5h0M266.5 278h0M278.5 293.5h0M278.5 299h0M294.2 304.7h0M301.9 312.2h0M305.8 321.2h0M232 335h0M272.2 315.5h0M258.4 326.7h0M228 341.4h0M278 340.9h0M290.3 333.7h0M219 343.5h0M298 345h0M286 350h0M270 352h0" stroke="#19b4c8" stroke-width="1.4" stroke-linecap="round" fill="none"/>
<circle cx="194" cy="255.2" r="1.5" fill="#f2624b"/>
<circle cx="194" cy="260.3" r="1.5" fill="#19b4c8"/>
<line x1="192.2" y1="265.2" x2="195.8" y2="265.2" stroke="#777" stroke-width="0.6" stroke-dasharray="0.8,0.6"/>
<text x="197.3" y="256.9" font-size="5" font-family="'Liberation Serif',serif" fill="#111" text-anchor="start">High ICDrisk</text>
<text x="197.3" y="262" font-size="5" font-family="'Liberation Serif',serif" fill="#111" text-anchor="start">Low ICDrisk</text>
<text x="197.3" y="266.9" font-size="5" font-family="'Liberation Serif',serif" fill="#111" text-anchor="start">Median</text>
<text x="373.9" y="261.8" font-size="8.6" font-family="'Liberation Serif',serif" fill="#111" text-anchor="middle" font-weight="bold" textLength="45" lengthAdjust="spacingAndGlyphs">High ICDrisk</text>
<path d="M373.5,304 L373.5,272 A32,32 0 0 1 401.8,318.9 Z" fill="#22444f" stroke="#fff" stroke-width="0.7"/>
<path d="M373.5,304 L401.8,318.9 A32,32 0 0 1 378.9,335.5 Z" fill="#ec8a3b" stroke="#fff" stroke-width="0.7"/>
<path d="M373.5,304 L378.9,335.5 A32,32 0 0 1 347.3,322.3 Z" fill="#1c98d2" stroke="#fff" stroke-width="0.7"/>
<path d="M373.5,304 L347.3,322.3 A32,32 0 0 1 373.5,272 Z" fill="#c7383e" stroke="#fff" stroke-width="0.7"/>
<text x="461.4" y="261.8" font-size="8.6" font-family="'Liberation Serif',serif" fill="#111" text-anchor="middle" font-weight="bold" textLength="43.7" lengthAdjust="spacingAndGlyphs">Low ICDrisk</text>
<path d="M460.5,304.2 L460.5,272.2 A32,32 0 0 1 490.3,292.4 Z" fill="#22444f" stroke="#fff" stroke-width="0.7"/>
<path d="M460.5,304.2 L490.3,292.4 A32,32 0 0 1 455.5,335.8 Z" fill="#ec8a3b" stroke="#fff" stroke-width="0.7"/>
<path d="M460.5,304.2 L455.5,335.8 A32,32 0 0 1 436.1,283.5 Z" fill="#1c98d2" stroke="#fff" stroke-width="0.7"/>
<path d="M460.5,304.2 L436.1,283.5 A32,32 0 0 1 460.1,272.2 Z" fill="#c7383e" stroke="#fff" stroke-width="0.7"/>
<text x="336.5" y="287.5" font-size="5.6" font-family="'Liberation Serif',serif" fill="#333" text-anchor="middle">34.7%</text>
<text x="406.7" y="282.5" font-size="5.6" font-family="'Liberation Serif',serif" fill="#333" text-anchor="middle">32.7%</text>
<text x="397.5" y="339.2" font-size="5.6" font-family="'Liberation Serif',serif" fill="#333" text-anchor="middle">14.6%</text>
<text x="356.3" y="344" font-size="5.6" font-family="'Liberation Serif',serif" fill="#333" text-anchor="middle">18.0%</text>
<text x="442.8" y="267" font-size="5.6" font-family="'Liberation Serif',serif" fill="#333" text-anchor="middle">13.6%</text>
<text x="483.7" y="269" font-size="5.6" font-family="'Liberation Serif',serif" fill="#333" text-anchor="middle">19.0%</text>
<text x="422.3" y="322.2" font-size="5.6" font-family="'Liberation Serif',serif" fill="#333" text-anchor="middle">33.7%</text>
<text x="489.2" y="329.6" font-size="5.6" font-family="'Liberation Serif',serif" fill="#333" text-anchor="middle">33.5%</text>
<line x1="402" y1="284" x2="396" y2="288" stroke="#999" stroke-width="0.4"/>
<line x1="394" y1="333" x2="392" y2="329" stroke="#999" stroke-width="0.4"/>
<line x1="359" y1="340" x2="360" y2="336.5" stroke="#999" stroke-width="0.4"/>
<line x1="447" y1="268" x2="450" y2="273" stroke="#999" stroke-width="0.4"/>
<line x1="480" y1="270" x2="476" y2="275" stroke="#999" stroke-width="0.4"/>
<line x1="426" y1="319" x2="429.5" y2="317" stroke="#999" stroke-width="0.4"/>
<line x1="485" y1="325" x2="481" y2="321" stroke="#999" stroke-width="0.4"/>
<circle cx="357.7" cy="351.7" r="4.6" fill="#c7383e"/>
<circle cx="357.7" cy="363.4" r="4.6" fill="#22444f"/>
<text x="365.5" y="353.8" font-size="6.2" font-family="'Liberation Serif',serif" fill="#222">IS<tspan font-size="3.7" dy="-2">high</tspan><tspan dy="2"> mutTNA</tspan><tspan font-size="3.7" dy="-2">high</tspan></text>
<text x="365.5" y="365.5" font-size="6.2" font-family="'Liberation Serif',serif" fill="#222">IS<tspan font-size="3.7" dy="-2">low</tspan><tspan dy="2"> mutTNA</tspan><tspan font-size="3.7" dy="-2">low</tspan></text>
<circle cx="445.5" cy="351.4" r="4.6" fill="#ec8a3b"/>
<circle cx="445.5" cy="364.2" r="4.6" fill="#1c98d2"/>
<text x="452.3" y="353.5" font-size="6.2" font-family="'Liberation Serif',serif" fill="#222">IS<tspan font-size="3.7" dy="-2">low</tspan><tspan dy="2"> mutTNA</tspan><tspan font-size="3.7" dy="-2">low</tspan></text>
<text x="452.3" y="366.3" font-size="6.2" font-family="'Liberation Serif',serif" fill="#222">IS<tspan font-size="3.7" dy="-2">high</tspan><tspan dy="2"> mutTNA</tspan><tspan font-size="3.7" dy="-2">high</tspan></text>
<line x1="21.4" y1="401" x2="21.4" y2="457.2" stroke="#888" stroke-width="0.6"/>
<line x1="21.4" y1="457.2" x2="107.6" y2="457.2" stroke="#888" stroke-width="0.6"/>
<line x1="20.4" y1="405" x2="21.4" y2="405" stroke="#666" stroke-width="0.5"/>
<text x="20.1" y="406.4" font-size="4.2" font-family="'Liberation Serif',serif" fill="#333" text-anchor="end">1.0</text>
<line x1="20.4" y1="431.1" x2="21.4" y2="431.1" stroke="#666" stroke-width="0.5"/>
<text x="20.1" y="432.5" font-size="4.2" font-family="'Liberation Serif',serif" fill="#333" text-anchor="end">0.5</text>
<line x1="20.4" y1="457.2" x2="21.4" y2="457.2" stroke="#666" stroke-width="0.5"/>
<text x="20.1" y="458.6" font-size="4.2" font-family="'Liberation Serif',serif" fill="#333" text-anchor="end">0.0</text>
<line x1="22" y1="457.2" x2="22" y2="458.2" stroke="#666" stroke-width="0.5"/>
<text x="22" y="462" font-size="4.3" font-family="'Liberation Serif',serif" fill="#333" text-anchor="middle">0</text>
<line x1="42.2" y1="457.2" x2="42.2" y2="458.2" stroke="#666" stroke-width="0.5"/>
<text x="42.2" y="462" font-size="4.3" font-family="'Liberation Serif',serif" fill="#333" text-anchor="middle">1000</text>
<line x1="62.4" y1="457.2" x2="62.4" y2="458.2" stroke="#666" stroke-width="0.5"/>
<text x="62.4" y="462" font-size="4.3" font-family="'Liberation Serif',serif" fill="#333" text-anchor="middle">2000</text>
<line x1="82.6" y1="457.2" x2="82.6" y2="458.2" stroke="#666" stroke-width="0.5"/>
<text x="82.6" y="462" font-size="4.3" font-family="'Liberation Serif',serif" fill="#333" text-anchor="middle">3000</text>
<line x1="102.8" y1="457.2" x2="102.8" y2="458.2" stroke="#666" stroke-width="0.5"/>
<text x="102.8" y="462" font-size="4.3" font-family="'Liberation Serif',serif" fill="#333" text-anchor="middle">4000</text>
<text x="63.8" y="465.5" font-size="4.3" font-family="'Liberation Serif',serif" fill="#333" text-anchor="middle">Time</text>
<text x="11.2" y="431" font-size="5.4" font-family="'Liberation Serif',serif" fill="#555" text-anchor="middle" transform="rotate(-90 11.2 431)">Probability of Survival</text>
<text x="48.6" y="396.7" font-size="5.6" font-family="'Liberation Serif',serif" fill="#000" text-anchor="start" font-weight="bold" textLength="27.2" lengthAdjust="spacingAndGlyphs">Low ICDrisk</text>
<path d="M22,405 H24.7 V407.6 H26.6 V410.2 H29.9 V416 H34.1 V421.7 H36.3 V421.7 H38.9 V421.7 H41.1 V421.7 H43.3 V421.7 H46.6 V421.7 H49.2 V421.7 H50.6 V421.7 H53.6 V421.7 H55.6 V421.7 H59 V421.7 H60.9 V421.7 H63 V421.7 H66.1 V421.7 H67.6 V421.7 H70.1 V421.7 H73.6 V421.7 H76.1 V421.7 H77.9 V421.7 H79.9 V421.7 H83 V421.7 H85.7 V421.7 H87.9 V421.7 H88.7 V439.5 H104.8 V439.5" fill="none" stroke="#e9524e" stroke-width="0.9"/>
<path d="M22,405 H23.4 V406 H26.1 V407.1 H30 V408.1 H32.7 V409.2 H34.3 V410.2 H37.2 V411.3 H40.1 V413.2 H43.6 V415.2 H46.1 V417.1 H49 V419.1 H51.3 V430.1 H54.1 V430.2 H56.2 V430.4 H58.7 V430.6 H60.7 V430.8 H62.8 V431 H65.4 V431.2 H68.3 V431.4 H70.9 V431.6 H73.5 V431.8 H76.3 V432 H78.7 V432.1 H79.1 V444.1 H82.9 V457.2 H83.6 V457.2" fill="none" stroke="#f7983f" stroke-width="0.9"/>
<path d="M22,405 H24.5 V406.3 H26.9 V407.5 H30 V408.8 H32.5 V410 H35.3 V411.3 H39 V413.9 H42 V416.5 H43.8 V419.1 H47.6 V421.7 H52.2 V432.1 H54.1 V432.1 H57.5 V432.1 H59.6 V432.1 H62.7 V432.1 H65.2 V432.1 H68.4 V432.1 H70.5 V432.1 H72.8 V432.1 H74.2 V436.8 H104.8 V436.8" fill="none" stroke="#2c5a5e" stroke-width="0.9"/>
<path d="M22,405 H24.3 V405.6 H27.1 V406.2 H29.3 V406.8 H32.2 V407.4 H35 V408 H37.1 V408.6 H39.1 V409.2 H41.8 V411.8 H44.4 V414.4 H47.7 V417 H49.9 V418.4 H52.8 V419.8 H55.5 V421.2 H58.4 V425.1 H61.1 V429 H63 V429.3 H66 V429.5 H68.9 V429.8 H71.8 V430.1 H73.3 V447.8 H82.6 V447.8" fill="none" stroke="#29aee6" stroke-width="0.9"/>
<text x="24.5" y="451.6" font-size="4.3" font-family="'Liberation Serif',serif" fill="#222" text-anchor="start">ρ=0.630</text>
<text x="24.5" y="455.6" font-size="4.3" font-family="'Liberation Serif',serif" fill="#222" text-anchor="start">HR(95%CI): 1.06(0.84-1.34)</text>
<line x1="99.5" y1="395.8" x2="109" y2="395.8" stroke="#f7983f" stroke-width="1.1"/>
<text x="110.9" y="397.7" font-size="5.6" font-family="'Liberation Serif',serif" fill="#222" textLength="29" lengthAdjust="spacingAndGlyphs">IS<tspan font-size="3.4" dy="-1.8">high</tspan><tspan dy="1.8"> mutTNA</tspan><tspan font-size="3.4" dy="-1.8">low</tspan></text>
<line x1="99.5" y1="405.4" x2="109" y2="405.4" stroke="#29aee6" stroke-width="1.1"/>
<text x="110.9" y="407.3" font-size="5.6" font-family="'Liberation Serif',serif" fill="#222" textLength="29" lengthAdjust="spacingAndGlyphs">IS<tspan font-size="3.4" dy="-1.8">high</tspan><tspan dy="1.8"> mutTNA</tspan><tspan font-size="3.4" dy="-1.8">high</tspan></text>
<line x1="99.5" y1="415.1" x2="109" y2="415.1" stroke="#e9524e" stroke-width="1.1"/>
<text x="110.9" y="417" font-size="5.6" font-family="'Liberation Serif',serif" fill="#222" textLength="29" lengthAdjust="spacingAndGlyphs">IS<tspan font-size="3.4" dy="-1.8">low</tspan><tspan dy="1.8"> mutTNA</tspan><tspan font-size="3.4" dy="-1.8">high</tspan></text>
<line x1="99.5" y1="424.8" x2="109" y2="424.8" stroke="#2c5a5e" stroke-width="1.1"/>
<text x="110.9" y="426.6" font-size="5.6" font-family="'Liberation Serif',serif" fill="#222" textLength="29" lengthAdjust="spacingAndGlyphs">IS<tspan font-size="3.4" dy="-1.8">low</tspan><tspan dy="1.8"> mutTNA</tspan><tspan font-size="3.4" dy="-1.8">low</tspan></text>
<line x1="21.4" y1="478.9" x2="21.4" y2="535.6" stroke="#888" stroke-width="0.6"/>
<line x1="21.4" y1="535.6" x2="107.6" y2="535.6" stroke="#888" stroke-width="0.6"/>
<line x1="20.4" y1="482.9" x2="21.4" y2="482.9" stroke="#666" stroke-width="0.5"/>
<text x="20.1" y="484.3" font-size="4.2" font-family="'Liberation Serif',serif" fill="#333" text-anchor="end">1.0</text>
<line x1="20.4" y1="509.2" x2="21.4" y2="509.2" stroke="#666" stroke-width="0.5"/>
<text x="20.1" y="510.6" font-size="4.2" font-family="'Liberation Serif',serif" fill="#333" text-anchor="end">0.5</text>
<line x1="20.4" y1="535.6" x2="21.4" y2="535.6" stroke="#666" stroke-width="0.5"/>
<text x="20.1" y="537" font-size="4.2" font-family="'Liberation Serif',serif" fill="#333" text-anchor="end">0.0</text>
<line x1="22" y1="535.6" x2="22" y2="536.6" stroke="#666" stroke-width="0.5"/>
<text x="22" y="540.4" font-size="4.3" font-family="'Liberation Serif',serif" fill="#333" text-anchor="middle">0</text>
<line x1="42.2" y1="535.6" x2="42.2" y2="536.6" stroke="#666" stroke-width="0.5"/>
<text x="42.2" y="540.4" font-size="4.3" font-family="'Liberation Serif',serif" fill="#333" text-anchor="middle">1000</text>
<line x1="62.4" y1="535.6" x2="62.4" y2="536.6" stroke="#666" stroke-width="0.5"/>
<text x="62.4" y="540.4" font-size="4.3" font-family="'Liberation Serif',serif" fill="#333" text-anchor="middle">2000</text>
<line x1="82.6" y1="535.6" x2="82.6" y2="536.6" stroke="#666" stroke-width="0.5"/>
<text x="82.6" y="540.4" font-size="4.3" font-family="'Liberation Serif',serif" fill="#333" text-anchor="middle">3000</text>
<line x1="102.8" y1="535.6" x2="102.8" y2="536.6" stroke="#666" stroke-width="0.5"/>
<text x="102.8" y="540.4" font-size="4.3" font-family="'Liberation Serif',serif" fill="#333" text-anchor="middle">4000</text>
<text x="63.8" y="543.9" font-size="4.3" font-family="'Liberation Serif',serif" fill="#333" text-anchor="middle">Time</text>
<text x="11.2" y="509" font-size="5.4" font-family="'Liberation Serif',serif" fill="#555" text-anchor="middle" transform="rotate(-90 11.2 509)">Probability of Survival</text>
<text x="47.5" y="474.6" font-size="5.6" font-family="'Liberation Serif',serif" fill="#000" text-anchor="start" font-weight="bold" textLength="29" lengthAdjust="spacingAndGlyphs">High ICDrisk</text>
<path d="M22,482.9 H25 V486.1 H27.9 V487.9 H30.3 V489.8 H33.6 V492.4 H36.1 V495 H38.6 V497.7 H43.7 V501.9 H46.3 V506.6 H50.3 V508.7 H53.3 V511.9 H56.8 V511.9 H59.2 V511.9 H62.2 V511.9 H63.9 V511.9 H66.7 V511.9 H70.2 V511.9 H71.6 V511.9 H74.3 V511.9 H75.5 V511.9" fill="none" stroke="#e9524e" stroke-width="0.9"/>
<path d="M22,482.9 H24.2 V486.3 H26.8 V489.8 H29.5 V492.4 H32.7 V495 H35.5 V497.7 H37.8 V500.8 H40.8 V504 H42.9 V509.8 H46 V515.6 H49.7 V519.8 H53.7 V525.6 H56.5 V525.6 H59.9 V525.6 H62.2 V525.6 H65.3 V525.6 H67 V525.6 H69 V527.7 H70.5 V527.7 H71.5 V527.7" fill="none" stroke="#f7983f" stroke-width="0.9"/>
<path d="M22,482.9 H24.5 V488.4 H26.8 V494 H29.5 V496.6 H31.8 V499.2 H35.2 V501.9 H38 V506.4 H41 V510.8 H44.7 V517.7 H46.9 V519.8 H50.7 V521.9 H52.8 V521.9 H55.8 V521.9 H58.3 V521.9 H60.7 V521.9 H62.8 V521.9 H65.7 V521.9 H69 V521.9 H69.6 V528.7 H72.4 V528.7 H74.3 V528.7 H77.4 V528.7 H80.4 V528.7 H81.6 V528.7" fill="none" stroke="#29aee6" stroke-width="0.9"/>
<path d="M22,482.9 H25.6 V491.9 H28.3 V499.8 H31.6 V502.4 H34.1 V505 H38 V509 H40.9 V512.9 H43.7 V517.7 H46.8 V520.7 H49.8 V523.7 H51.8 V526.6 H54.8 V526.6 H56.9 V526.6 H60.3 V526.6 H62.8 V526.6 H64.5 V526.6 H67.8 V526.6 H69 V529.3 H70.6 V529.3 H73.3 V529.3 H76.4 V529.3 H78.4 V529.3 H80.8 V529.3 H83.9 V529.3 H85.8 V529.3 H89 V529.3 H91.2 V529.3 H94 V529.3 H94.1 V529.3" fill="none" stroke="#2c5a5e" stroke-width="0.9"/>
<text x="24.5" y="530" font-size="4.3" font-family="'Liberation Serif',serif" fill="#222" text-anchor="start">ρ=0.012</text>
<text x="24.5" y="534" font-size="4.3" font-family="'Liberation Serif',serif" fill="#222" text-anchor="start">HR(95%CI): 1.25(1.03-1.50)</text>
<rect x="154.3" y="397.8" width="67.9" height="48.6" fill="#fff" stroke="#aaa" stroke-width="0.7"/>
<line x1="154.3" y1="402.3" x2="222.2" y2="402.3" stroke="#eeeeee" stroke-width="0.5"/>
<text x="153" y="403.1" font-size="2.6" font-family="'Liberation Sans',sans-serif" fill="#555" text-anchor="end">2,500</text>
<line x1="154.3" y1="410" x2="222.2" y2="410" stroke="#eeeeee" stroke-width="0.5"/>
<text x="153" y="410.8" font-size="2.6" font-family="'Liberation Sans',sans-serif" fill="#555" text-anchor="end">2,000</text>
<line x1="154.3" y1="417.7" x2="222.2" y2="417.7" stroke="#eeeeee" stroke-width="0.5"/>
<text x="153" y="418.5" font-size="2.6" font-family="'Liberation Sans',sans-serif" fill="#555" text-anchor="end">1,500</text>
<line x1="154.3" y1="425.4" x2="222.2" y2="425.4" stroke="#eeeeee" stroke-width="0.5"/>
<text x="153" y="426.2" font-size="2.6" font-family="'Liberation Sans',sans-serif" fill="#555" text-anchor="end">1,000</text>
<line x1="154.3" y1="433.1" x2="222.2" y2="433.1" stroke="#eeeeee" stroke-width="0.5"/>
<text x="153" y="433.9" font-size="2.6" font-family="'Liberation Sans',sans-serif" fill="#555" text-anchor="end">500</text>
<line x1="154.3" y1="440.8" x2="222.2" y2="440.8" stroke="#eeeeee" stroke-width="0.5"/>
<text x="153" y="441.6" font-size="2.6" font-family="'Liberation Sans',sans-serif" fill="#555" text-anchor="end">0</text>
<line x1="172.7" y1="397.8" x2="172.7" y2="446.4" stroke="#eeeeee" stroke-width="0.5"/>
<line x1="172.7" y1="446.4" x2="172.7" y2="447.4" stroke="#666" stroke-width="0.4"/>
<text x="172.7" y="451" font-size="2.8" font-family="'Liberation Sans',sans-serif" fill="#444" text-anchor="middle">Cancer DNA</text>
<line x1="204.5" y1="397.8" x2="204.5" y2="446.4" stroke="#eeeeee" stroke-width="0.5"/>
<line x1="204.5" y1="446.4" x2="204.5" y2="447.4" stroke="#666" stroke-width="0.4"/>
<text x="204.5" y="451" font-size="2.8" font-family="'Liberation Sans',sans-serif" fill="#444" text-anchor="middle">Nucleotide DNA</text>
<path d="M164.8,407.5 L165,408.4 L165.1,409.3 L165.1,410.2 L165.1,411.1 L165.1,412 L165.1,412.9 L165.1,413.8 L165.1,414.7 L165.1,415.6 L165.1,416.5 L165.1,417.4 L165.1,418.3 L165.1,419.2 L165.1,420.1 L165.1,421 L165.1,421.9 L165.1,422.8 L165.1,423.7 L165.1,424.6 L165.1,425.5 L165.1,426.4 L165.1,427.3 L165.1,428.2 L165.1,429.1 L165.2,430 L165.5,430.9 L166.1,431.8 L166.8,432.7 L167.7,433.6 L168.5,434.5 L169.3,435.4 L169.8,436.3 L169.9,437.2 L169.5,438.1 L168.7,439 L167.7,439.9 L166.8,440.8 L166,441.7 L165.4,442.6 L165.1,443.5 L164.3,443.5 L164,442.6 L163.4,441.7 L162.6,440.8 L161.7,439.9 L160.7,439 L159.9,438.1 L159.5,437.2 L159.6,436.3 L160.1,435.4 L160.9,434.5 L161.7,433.6 L162.6,432.7 L163.3,431.8 L163.9,430.9 L164.2,430 L164.2,429.1 L164.2,428.2 L164.2,427.3 L164.2,426.4 L164.2,425.5 L164.2,424.6 L164.2,423.7 L164.2,422.8 L164.2,421.9 L164.2,421 L164.2,420.1 L164.2,419.2 L164.2,418.3 L164.2,417.4 L164.2,416.5 L164.2,415.6 L164.2,414.7 L164.2,413.8 L164.2,412.9 L164.2,412 L164.2,411.1 L164.2,410.2 L164.2,409.3 L164.4,408.4 L164.6,407.5Z" fill="#e03a2a"/>
<path d="M167.3 437.6h0M166.5 433.5h0M162 440h0M163.2 438.5h0M161.8 436.2h0M164.8 438.5h0M165.4 442h0M161.9 434.7h0M160 436.9h0M165.5 433.4h0M168.7 438.4h0M167.1 439.1h0M162.2 435.7h0M162.8 433.6h0M166.2 440.3h0M163.1 437.8h0M165.8 437.3h0M165.3 435.6h0M164.1 431.6h0M162.7 439.4h0M167 434.3h0M163.9 431h0M164 442.4h0M164.7 438.6h0M168.6 436.1h0M160.9 437.1h0M167 440.6h0M163.6 440.3h0M163.7 438.1h0M163.7 437.3h0M166.7 439.1h0M166.2 439.3h0M166.7 438.1h0M166 434.8h0M167.4 433.8h0M161.5 436.4h0M163 434.5h0M162.6 437.6h0M167.1 436.6h0M164.7 442.5h0M167.1 437.5h0M164.4 437.5h0M164.7 431.1h0M161.4 439.4h0M165.6 434h0M168.6 437.9h0M166.3 434.5h0M161.1 439.5h0M166.6 437.7h0M165.5 437h0" stroke="#111" stroke-width="0.6" stroke-linecap="round" fill="none" opacity="0.6"/>
<path d="M180.7,425 L180.7,425.5 L180.8,425.9 L180.9,426.4 L180.9,426.8 L180.9,427.3 L180.9,427.7 L180.9,428.2 L180.9,428.6 L180.9,429.1 L180.9,429.6 L180.9,430 L180.9,430.5 L180.9,430.9 L180.9,431.4 L180.9,431.8 L180.9,432.3 L180.9,432.7 L180.9,433.2 L180.9,433.6 L180.9,434.1 L180.9,434.6 L180.9,435 L181,435.5 L181.3,435.9 L181.7,436.4 L182.3,436.8 L183.2,437.3 L184.1,437.7 L185.2,438.2 L186.1,438.6 L186.9,439.1 L187.3,439.6 L187.3,440 L186.8,440.5 L185.9,440.9 L184.8,441.4 L183.6,441.8 L182.6,442.3 L181.8,442.7 L181.3,443.2 L179.9,443.2 L179.4,442.7 L178.6,442.3 L177.6,441.8 L176.4,441.4 L175.3,440.9 L174.4,440.5 L173.9,440 L173.9,439.6 L174.3,439.1 L175.1,438.6 L176,438.2 L177.1,437.7 L178,437.3 L178.9,436.8 L179.5,436.4 L179.9,435.9 L180.2,435.5 L180.2,435 L180.2,434.6 L180.2,434.1 L180.2,433.6 L180.2,433.2 L180.2,432.7 L180.2,432.3 L180.2,431.8 L180.2,431.4 L180.2,430.9 L180.2,430.5 L180.2,430 L180.2,429.6 L180.2,429.1 L180.2,428.6 L180.2,428.2 L180.2,427.7 L180.2,427.3 L180.2,426.8 L180.3,426.4 L180.4,425.9 L180.5,425.5 L180.5,425Z" fill="#666666"/>
<path d="M181.2 441.2h0M185.5 440.1h0M181.3 441.4h0M182.6 437.7h0M184.2 441.6h0M182.5 441.5h0M180.8 440.9h0M177.2 440.5h0M182.8 441h0M182.1 437.2h0M178.5 438.3h0M176.6 439.8h0M179.5 443h0M179.2 438.5h0M181.6 440.9h0M177.9 438.2h0M180.7 438.3h0M180.8 439.6h0M179.7 437.5h0M182.1 442h0M176.6 438.7h0M180.9 439.5h0M178.8 439.9h0M180.4 443.2h0M180.2 436.8h0M183.3 438h0M180.7 441h0M180.5 436.6h0M182 439.6h0M178.7 442.6h0M183.9 440.2h0M183.2 438.7h0M182.7 439.3h0M182.4 440.8h0M183.2 441.6h0M182.3 440.3h0M181.8 442.4h0M184.3 439.5h0M185.4 440h0M185.2 441.3h0M181 438.9h0M177.8 440.2h0M180.2 436.6h0M178.5 441.9h0M176.9 439h0M183.9 440.5h0M184 440.4h0M181.7 440.2h0M179.5 440.3h0M181.6 443.1h0" stroke="#eee" stroke-width="0.6" stroke-linecap="round" fill="none" opacity="0.6"/>
<path d="M196.7,428.5 L196.7,428.9 L196.8,429.2 L196.9,429.6 L197,429.9 L197,430.3 L197,430.7 L197,431 L197,431.4 L197,431.8 L197,432.1 L197,432.5 L197,432.9 L197,433.2 L197,433.6 L197,433.9 L197.2,434.3 L197.5,434.7 L197.9,435 L198.3,435.4 L198.9,435.8 L199.4,436.1 L200.1,436.5 L200.7,436.8 L201.3,437.2 L201.8,437.6 L202.2,437.9 L202.4,438.3 L202.4,438.6 L202.2,439 L201.8,439.4 L201.2,439.7 L200.5,440.1 L199.8,440.5 L199.1,440.8 L198.5,441.2 L198,441.6 L197.6,441.9 L197.2,442.3 L197,442.6 L196.9,443 L196.3,443 L196.2,442.6 L196,442.3 L195.6,441.9 L195.2,441.6 L194.7,441.2 L194.1,440.8 L193.4,440.5 L192.7,440.1 L192,439.7 L191.4,439.4 L191,439 L190.8,438.6 L190.8,438.3 L191,437.9 L191.4,437.6 L191.9,437.2 L192.5,436.8 L193.1,436.5 L193.8,436.1 L194.3,435.8 L194.9,435.4 L195.3,435 L195.7,434.7 L196,434.3 L196.2,433.9 L196.2,433.6 L196.2,433.2 L196.2,432.9 L196.2,432.5 L196.2,432.1 L196.2,431.8 L196.2,431.4 L196.2,431 L196.2,430.7 L196.2,430.3 L196.2,429.9 L196.3,429.6 L196.4,429.2 L196.5,428.9 L196.5,428.5Z" fill="#e03a2a"/>
<path d="M195 440.6h0M199.3 438.2h0M192.9 437.1h0M200.4 438.2h0M200.2 438.9h0M193.7 436.8h0M198.5 437.4h0M194.2 437.2h0M192.5 437.4h0M197.5 436.9h0M197.9 437.7h0M195.6 437.1h0M197.3 439.7h0M193.7 439.2h0M194.3 440.2h0M195.8 440.9h0M198.3 436.2h0M195.3 440.7h0M193.9 440.2h0M195.3 440h0M195.3 441.8h0M194.4 438.1h0M199 437h0M194.5 439.3h0M195.7 438.1h0M194 439.8h0M196.6 440.9h0M193.8 438.6h0M197.4 435.2h0M193.8 437h0M192.6 439.7h0M194.9 441.3h0M198.7 440.7h0M198.7 439.6h0M198.6 439.3h0M194 438.9h0M194.5 437h0M200.5 438.7h0M194.4 437h0M201.4 439.7h0M195.1 440.9h0M192.3 439.1h0M195.7 440.6h0M195.4 436.4h0M200.7 438.1h0M197.8 441.7h0M198.5 440.2h0M192.5 438.3h0M197.6 436.7h0M200.4 437.6h0" stroke="#111" stroke-width="0.6" stroke-linecap="round" fill="none" opacity="0.6"/>
<path d="M212.6,432.5 L212.6,432.8 L212.7,433 L212.7,433.3 L212.8,433.6 L212.8,433.8 L212.8,434.1 L212.8,434.3 L212.8,434.6 L212.8,434.9 L212.8,435.1 L212.8,435.4 L212.8,435.6 L212.8,435.9 L212.8,436.2 L212.8,436.4 L212.9,436.7 L213.1,437 L213.4,437.2 L213.8,437.5 L214.3,437.8 L214.9,438 L215.5,438.3 L216.3,438.5 L217,438.8 L217.7,439.1 L218.3,439.3 L218.7,439.6 L219,439.9 L219,440.1 L218.8,440.4 L218.4,440.6 L217.8,440.9 L217.1,441.2 L216.4,441.4 L215.6,441.7 L215,441.9 L214.4,442.2 L213.9,442.5 L213.5,442.7 L213.2,443 L211.8,443 L211.5,442.7 L211.1,442.5 L210.6,442.2 L210,441.9 L209.4,441.7 L208.6,441.4 L207.9,441.2 L207.2,440.9 L206.6,440.6 L206.2,440.4 L206,440.1 L206,439.9 L206.3,439.6 L206.7,439.3 L207.3,439.1 L208,438.8 L208.7,438.5 L209.5,438.3 L210.1,438 L210.7,437.8 L211.2,437.5 L211.6,437.2 L211.9,437 L212.1,436.7 L212.2,436.4 L212.2,436.2 L212.2,435.9 L212.2,435.6 L212.2,435.4 L212.2,435.1 L212.2,434.9 L212.2,434.6 L212.2,434.3 L212.2,434.1 L212.2,433.8 L212.2,433.6 L212.3,433.3 L212.3,433 L212.4,432.8 L212.4,432.5Z" fill="#666666"/>
<path d="M212.9 440.5h0M212.4 437.8h0M207.9 441h0M212.8 439.1h0M211.1 439.1h0M213.2 440.3h0M210.4 442h0M209.4 440.5h0M212.8 437.3h0M209.4 441.1h0M210.2 440.7h0M207.1 439.6h0M212.6 443h0M218.3 440.6h0M211.9 437.7h0M209.2 441.6h0M211.8 437.7h0M217.5 439.7h0M213.7 442.5h0M215.3 441.9h0M208.8 439.5h0M214.3 442.2h0M213.5 441.7h0M206.7 440.6h0M209.5 440.8h0M211.3 441.8h0M215.1 441.3h0M209.9 441.7h0M210.2 440h0M207.3 440h0M214.8 441.4h0M210.3 439.6h0M209.4 438.9h0M214.4 440.6h0M216.5 441h0M213.4 438.5h0M213 442.3h0M212.7 442.5h0M212.9 442.7h0M209.2 439.9h0M211.6 441.1h0M216.4 439h0M208.8 439h0M209.6 440.7h0M213.5 442.5h0M217.9 439.6h0M211.1 438h0M214.9 440.1h0M212.5 440.1h0M211.7 441.7h0" stroke="#eee" stroke-width="0.6" stroke-linecap="round" fill="none" opacity="0.6"/>
<line x1="164.7" y1="405.5" x2="180.6" y2="405.5" stroke="#888" stroke-width="0.4"/>
<text x="172.6" y="404.7" font-size="2.6" font-family="'Liberation Sans',sans-serif" fill="#555" text-anchor="middle">****</text>
<line x1="196.6" y1="405.5" x2="212.5" y2="405.5" stroke="#888" stroke-width="0.4"/>
<text x="204.6" y="404.7" font-size="2.6" font-family="'Liberation Sans',sans-serif" fill="#555" text-anchor="middle">****</text>
<rect x="231" y="397.5" width="67.1" height="49.2" fill="#fff" stroke="#aaa" stroke-width="0.7"/>
<line x1="231" y1="402.5" x2="298.1" y2="402.5" stroke="#eeeeee" stroke-width="0.5"/>
<text x="229.7" y="403.3" font-size="2.6" font-family="'Liberation Sans',sans-serif" fill="#555" text-anchor="end">2,000</text>
<line x1="231" y1="411.4" x2="298.1" y2="411.4" stroke="#eeeeee" stroke-width="0.5"/>
<text x="229.7" y="412.2" font-size="2.6" font-family="'Liberation Sans',sans-serif" fill="#555" text-anchor="end">1,500</text>
<line x1="231" y1="420.3" x2="298.1" y2="420.3" stroke="#eeeeee" stroke-width="0.5"/>
<text x="229.7" y="421.1" font-size="2.6" font-family="'Liberation Sans',sans-serif" fill="#555" text-anchor="end">1,000</text>
<line x1="231" y1="429.2" x2="298.1" y2="429.2" stroke="#eeeeee" stroke-width="0.5"/>
<text x="229.7" y="430" font-size="2.6" font-family="'Liberation Sans',sans-serif" fill="#555" text-anchor="end">500</text>
<line x1="231" y1="438.1" x2="298.1" y2="438.1" stroke="#eeeeee" stroke-width="0.5"/>
<text x="229.7" y="438.9" font-size="2.6" font-family="'Liberation Sans',sans-serif" fill="#555" text-anchor="end">0</text>
<line x1="248.8" y1="397.5" x2="248.8" y2="446.7" stroke="#eeeeee" stroke-width="0.5"/>
<line x1="248.8" y1="446.7" x2="248.8" y2="447.7" stroke="#666" stroke-width="0.4"/>
<text x="248.8" y="451.3" font-size="2.8" font-family="'Liberation Sans',sans-serif" fill="#444" text-anchor="middle">Cancer</text>
<line x1="280.4" y1="397.5" x2="280.4" y2="446.7" stroke="#eeeeee" stroke-width="0.5"/>
<line x1="280.4" y1="446.7" x2="280.4" y2="447.7" stroke="#666" stroke-width="0.4"/>
<text x="280.4" y="451.3" font-size="2.8" font-family="'Liberation Sans',sans-serif" fill="#444" text-anchor="middle">Nucleotide</text>
<path d="M241.4,408 L241.6,408.9 L241.8,409.8 L241.8,410.6 L241.8,411.5 L241.8,412.4 L241.8,413.2 L241.8,414.1 L241.8,415 L241.8,415.9 L241.8,416.8 L241.8,417.6 L241.8,418.5 L241.8,419.4 L241.8,420.2 L241.8,421.1 L241.8,422 L241.8,422.9 L241.8,423.8 L241.8,424.6 L241.9,425.5 L242.2,426.4 L242.6,427.2 L243.1,428.1 L243.7,429 L244.4,429.9 L245.1,430.8 L245.7,431.6 L246.3,432.5 L246.7,433.4 L246.9,434.2 L246.8,435.1 L246.4,436 L245.7,436.9 L244.9,437.8 L244.1,438.6 L243.3,439.5 L242.7,440.4 L242.2,441.2 L241.8,442.1 L241.6,443 L241,443 L240.8,442.1 L240.4,441.2 L239.9,440.4 L239.3,439.5 L238.5,438.6 L237.7,437.8 L236.9,436.9 L236.2,436 L235.8,435.1 L235.7,434.2 L235.9,433.4 L236.3,432.5 L236.9,431.6 L237.5,430.8 L238.2,429.9 L238.9,429 L239.5,428.1 L240,427.2 L240.4,426.4 L240.7,425.5 L240.9,424.6 L240.9,423.8 L240.9,422.9 L240.9,422 L240.9,421.1 L240.9,420.2 L240.9,419.4 L240.9,418.5 L240.9,417.6 L240.9,416.8 L240.9,415.9 L240.9,415 L240.9,414.1 L240.9,413.2 L240.9,412.4 L240.9,411.5 L240.9,410.6 L240.9,409.8 L241,408.9 L241.2,408Z" fill="#e03a2a"/>
<path d="M241.2 439.5h0M242.5 435.9h0M239.3 438.5h0M244.5 438.5h0M242.1 429.1h0M239.5 436.6h0M245.8 432.7h0M242.1 435.6h0M243.9 435.1h0M240.9 441.1h0M241.3 440.1h0M243.3 437.3h0M240.6 435.6h0M240.9 437.6h0M239.2 433.5h0M243.5 434.6h0M241.5 428.3h0M242.8 435.9h0M244.2 433.6h0M242.6 430.8h0M241.1 430.1h0M240.9 439.6h0M237.4 437.1h0M241.5 429.5h0M244.3 436.6h0M239.2 439.3h0M244 434h0M241.8 427.1h0M239.9 437.8h0M244.1 437.1h0M239.5 432.3h0M242.9 431.2h0M244.5 432.5h0M239.3 432.9h0M241.7 440.1h0M239.5 429.8h0M240.9 438.7h0M242.4 432.4h0M241.5 429.7h0M237.4 434.3h0M243.5 433.8h0M242.5 430.9h0M243.7 435.9h0M242.5 436.7h0M244.7 436.2h0M237.2 433.9h0M241 434.6h0M240 438.8h0M241.7 441.1h0M236.5 435.3h0" stroke="#111" stroke-width="0.6" stroke-linecap="round" fill="none" opacity="0.6"/>
<path d="M256.4,413.5 L256.6,414.3 L256.8,415 L256.8,415.8 L256.8,416.6 L256.8,417.3 L256.8,418.1 L256.8,418.8 L256.8,419.6 L256.8,420.4 L256.8,421.1 L256.8,421.9 L256.8,422.6 L256.8,423.4 L256.8,424.2 L256.8,424.9 L256.8,425.7 L256.8,426.5 L256.8,427.2 L256.8,428 L256.8,428.8 L256.8,429.5 L256.8,430.3 L256.8,431 L256.8,431.8 L256.8,432.6 L257,433.3 L257.5,434.1 L258.2,434.9 L259.2,435.6 L260.3,436.4 L261.4,437.1 L262.3,437.9 L262.8,438.7 L262.7,439.4 L261.7,440.2 L260.2,440.9 L258.7,441.7 L257.6,442.5 L256.9,443.2 L256.6,444 L256.2,444 L255.9,443.2 L255.2,442.5 L254.1,441.7 L252.6,440.9 L251.1,440.2 L250.1,439.4 L250,438.7 L250.5,437.9 L251.4,437.1 L252.5,436.4 L253.6,435.6 L254.6,434.9 L255.3,434.1 L255.8,433.3 L256,432.6 L256,431.8 L256,431 L256,430.3 L256,429.5 L256,428.8 L256,428 L256,427.2 L256,426.5 L256,425.7 L256,424.9 L256,424.2 L256,423.4 L256,422.6 L256,421.9 L256,421.1 L256,420.4 L256,419.6 L256,418.8 L256,418.1 L256,417.3 L256,416.6 L256,415.8 L256,415 L256.2,414.3 L256.3,413.5Z" fill="#666666"/>
<path d="M258.4 436.7h0M259.8 438.1h0M252.5 440.3h0M254.8 437.2h0M259.8 440.6h0M256.3 436.3h0M251.8 437.4h0M256 441.8h0M258.2 438h0M258 437.1h0M257.5 434.9h0M258.4 440.7h0M260.6 437.6h0M254.3 437.2h0M257.4 435.2h0M258 442.2h0M253.4 441.6h0M256.6 435.8h0M258.3 438.1h0M258 436.6h0M257 437.5h0M256.2 441.6h0M257.3 437.5h0M257.3 437.2h0M258.3 442.4h0M252 438.9h0M257.5 438.8h0M255.9 440.6h0M261.5 438.2h0M252.1 438.2h0M258.7 439.8h0M260.3 438.3h0M260.7 440.9h0M250.4 439.6h0M255.1 437.2h0M260.9 439.2h0M252.9 437.8h0M256.4 435.4h0M259 438h0M252.8 441.3h0M261.4 440.4h0M260.5 439h0M255.7 439.1h0M253.5 439.8h0M261.3 440.5h0M257.3 435.4h0M256.8 440.3h0M258.7 440.4h0M253.2 440.2h0M255.6 441.7h0" stroke="#eee" stroke-width="0.6" stroke-linecap="round" fill="none" opacity="0.6"/>
<path d="M272.4,429.5 L272.5,429.8 L272.6,430.1 L272.7,430.4 L272.8,430.8 L272.8,431.1 L272.8,431.4 L272.8,431.7 L272.8,432 L272.8,432.3 L272.8,432.6 L272.8,432.9 L272.8,433.2 L272.9,433.6 L273.2,433.9 L273.5,434.2 L273.9,434.5 L274.4,434.8 L274.9,435.1 L275.5,435.4 L276.1,435.8 L276.8,436.1 L277.3,436.4 L277.8,436.7 L278.2,437 L278.4,437.3 L278.4,437.6 L278.2,437.9 L277.8,438.2 L277.2,438.6 L276.5,438.9 L275.8,439.2 L275.1,439.5 L274.5,439.8 L274,440.1 L273.5,440.4 L273.2,440.8 L272.9,441.1 L272.7,441.4 L272.6,441.7 L272.5,442 L272.3,442 L272.2,441.7 L272.1,441.4 L271.9,441.1 L271.6,440.8 L271.3,440.4 L270.8,440.1 L270.3,439.8 L269.7,439.5 L269,439.2 L268.3,438.9 L267.6,438.6 L267,438.2 L266.6,437.9 L266.4,437.6 L266.4,437.3 L266.6,437 L267,436.7 L267.5,436.4 L268,436.1 L268.7,435.8 L269.3,435.4 L269.9,435.1 L270.4,434.8 L270.9,434.5 L271.3,434.2 L271.6,433.9 L271.9,433.6 L271.9,433.2 L271.9,432.9 L271.9,432.6 L271.9,432.3 L271.9,432 L271.9,431.7 L271.9,431.4 L271.9,431.1 L272,430.8 L272.1,430.4 L272.2,430.1 L272.3,429.8 L272.3,429.5Z" fill="#e03a2a"/>
<path d="M272.8 437.6h0M271.9 435.8h0M277.3 436.7h0M272.8 439.7h0M272.9 437.5h0M270.4 438h0M270.3 436.8h0M273.4 435.6h0M275.9 436.7h0M271.8 439.8h0M272 437.9h0M270.4 439.1h0M273.7 438.1h0M276.8 438h0M272.7 434.5h0M270.5 439.9h0M272.8 436.1h0M270.6 439.2h0M269.1 436h0M274.1 435.5h0M268.6 438.6h0M274.1 439.6h0M273 437.7h0M277.3 437.6h0M271.4 439.8h0M271.6 436.8h0M272 436h0M272.2 439.5h0M272.8 439.3h0M272.8 438.2h0M270.9 440h0M271.4 435h0M272.1 439.9h0M270.2 435.9h0M273 438.5h0M271.8 435h0M267.6 437.3h0M270 439.2h0M270.6 439.7h0M267.7 438.1h0M273.5 440.2h0M269.2 436.1h0M272.4 439h0M270.7 437.4h0M269.3 438.8h0M269.5 437.9h0M272.1 435.2h0M276.3 436.3h0M272.4 435.8h0M271.4 434.5h0" stroke="#111" stroke-width="0.6" stroke-linecap="round" fill="none" opacity="0.6"/>
<path d="M288.4,427.8 L288.4,428.2 L288.5,428.5 L288.6,428.9 L288.6,429.3 L288.7,429.6 L288.7,430 L288.7,430.4 L288.7,430.7 L288.7,431.1 L288.7,431.5 L288.7,431.8 L288.7,432.2 L288.7,432.6 L288.7,432.9 L288.7,433.3 L288.7,433.7 L288.7,434 L288.7,434.4 L288.7,434.8 L288.7,435.1 L288.7,435.5 L288.8,435.9 L289.1,436.3 L289.6,436.6 L290.2,437 L290.9,437.4 L291.8,437.7 L292.7,438.1 L293.6,438.5 L294.2,438.8 L294.7,439.2 L294.8,439.6 L294.5,439.9 L293.7,440.3 L292.7,440.7 L291.6,441 L290.5,441.4 L289.7,441.8 L289.1,442.1 L288.8,442.5 L287.8,442.5 L287.5,442.1 L286.9,441.8 L286.1,441.4 L285,441 L283.9,440.7 L282.9,440.3 L282.1,439.9 L281.8,439.6 L281.9,439.2 L282.4,438.8 L283,438.5 L283.9,438.1 L284.8,437.7 L285.7,437.4 L286.4,437 L287,436.6 L287.5,436.3 L287.8,435.9 L287.9,435.5 L287.9,435.1 L287.9,434.8 L287.9,434.4 L287.9,434 L287.9,433.7 L287.9,433.3 L287.9,432.9 L287.9,432.6 L287.9,432.2 L287.9,431.8 L287.9,431.5 L287.9,431.1 L287.9,430.7 L287.9,430.4 L287.9,430 L287.9,429.6 L288,429.3 L288,428.9 L288.1,428.5 L288.2,428.2 L288.2,427.8Z" fill="#666666"/>
<path d="M288.9 441.9h0M285.2 440h0M288.5 442.4h0M290.5 440.7h0M286.2 438.1h0M282.8 439.1h0M284.6 439h0M290.9 439.7h0M287.5 442.2h0M292.9 438.7h0M292.7 440.1h0M288 436.8h0M286 438.2h0M292.5 439.3h0M283.3 440.1h0M287.5 438.6h0M285.9 440h0M285.6 439.6h0M287.2 440.9h0M291.4 438.8h0M289.6 439.4h0M288.1 437.9h0M288.8 441.4h0M285.5 438.4h0M284.9 439.3h0M283.8 438.8h0M287.6 441.5h0M292.7 439h0M286.1 440.2h0M293.8 440.1h0M287.9 437.3h0M286.2 437.9h0M288.5 442.5h0M289.9 439.7h0M292.5 440.2h0M285.3 438.2h0M291.9 439.9h0M289.8 439h0M285.1 440.8h0M286.7 438.4h0M289.4 437.2h0M292.5 440.4h0M288.3 442.2h0M285.2 438h0M287.6 438h0M288.4 438h0M289.6 438.3h0M284.2 439.5h0M287 439.1h0M287.7 437.1h0" stroke="#eee" stroke-width="0.6" stroke-linecap="round" fill="none" opacity="0.6"/>
<line x1="241.3" y1="405.5" x2="256.4" y2="405.5" stroke="#888" stroke-width="0.4"/>
<text x="248.8" y="404.7" font-size="2.6" font-family="'Liberation Sans',sans-serif" fill="#555" text-anchor="middle">****</text>
<line x1="272.4" y1="405.5" x2="288.3" y2="405.5" stroke="#888" stroke-width="0.4"/>
<text x="280.4" y="404.7" font-size="2.6" font-family="'Liberation Sans',sans-serif" fill="#555" text-anchor="middle">****</text>
<rect x="304" y="397.4" width="40.1" height="49.3" fill="#fff" stroke="#aaa" stroke-width="0.7"/>
<line x1="304" y1="403.5" x2="344.1" y2="403.5" stroke="#eeeeee" stroke-width="0.5"/>
<text x="302.7" y="404.3" font-size="2.6" font-family="'Liberation Sans',sans-serif" fill="#555" text-anchor="end">180</text>
<line x1="304" y1="410.5" x2="344.1" y2="410.5" stroke="#eeeeee" stroke-width="0.5"/>
<text x="302.7" y="411.3" font-size="2.6" font-family="'Liberation Sans',sans-serif" fill="#555" text-anchor="end">160</text>
<line x1="304" y1="418" x2="344.1" y2="418" stroke="#eeeeee" stroke-width="0.5"/>
<text x="302.7" y="418.8" font-size="2.6" font-family="'Liberation Sans',sans-serif" fill="#555" text-anchor="end">140</text>
<line x1="304" y1="425.5" x2="344.1" y2="425.5" stroke="#eeeeee" stroke-width="0.5"/>
<text x="302.7" y="426.3" font-size="2.6" font-family="'Liberation Sans',sans-serif" fill="#555" text-anchor="end">120</text>
<line x1="304" y1="433" x2="344.1" y2="433" stroke="#eeeeee" stroke-width="0.5"/>
<text x="302.7" y="433.8" font-size="2.6" font-family="'Liberation Sans',sans-serif" fill="#555" text-anchor="end">100</text>
<line x1="304" y1="440.5" x2="344.1" y2="440.5" stroke="#eeeeee" stroke-width="0.5"/>
<text x="302.7" y="441.3" font-size="2.6" font-family="'Liberation Sans',sans-serif" fill="#555" text-anchor="end">80</text>
<line x1="324.5" y1="397.4" x2="324.5" y2="446.7" stroke="#eeeeee" stroke-width="0.5"/>
<line x1="324.5" y1="446.7" x2="324.5" y2="447.7" stroke="#666" stroke-width="0.4"/>
<text x="324.5" y="451.3" font-size="2.8" font-family="'Liberation Sans',sans-serif" fill="#444" text-anchor="middle">IDS</text>
<path d="M315.6,409 L316,409.9 L316.4,410.7 L316.4,411.6 L316.4,412.4 L316.4,413.3 L316.4,414.2 L316.4,415 L316.4,415.9 L316.4,416.8 L316.4,417.6 L316.4,418.5 L316.4,419.4 L316.4,420.2 L316.4,421.1 L316.4,421.9 L316.4,422.8 L316.8,423.7 L317.2,424.5 L317.8,425.4 L318.3,426.2 L319,427.1 L319.6,428 L320.2,428.8 L320.8,429.7 L321.3,430.6 L321.6,431.4 L321.7,432.3 L321.6,433.1 L321.4,434 L321,434.9 L320.5,435.7 L319.9,436.6 L319.3,437.5 L318.6,438.3 L318,439.2 L317.5,440.1 L317,440.9 L316.6,441.8 L316.3,442.6 L316.1,443.5 L314.9,443.5 L314.7,442.6 L314.4,441.8 L314,440.9 L313.5,440.1 L313,439.2 L312.4,438.3 L311.7,437.5 L311.1,436.6 L310.5,435.7 L310,434.9 L309.6,434 L309.4,433.1 L309.3,432.3 L309.4,431.4 L309.7,430.6 L310.2,429.7 L310.8,428.8 L311.4,428 L312,427.1 L312.7,426.2 L313.2,425.4 L313.8,424.5 L314.2,423.7 L314.6,422.8 L314.6,421.9 L314.6,421.1 L314.6,420.2 L314.6,419.4 L314.6,418.5 L314.6,417.6 L314.6,416.8 L314.6,415.9 L314.6,415 L314.6,414.2 L314.6,413.3 L314.6,412.4 L314.6,411.6 L314.6,410.7 L315,409.9 L315.4,409Z" fill="#e03a2a"/>
<path d="M314.3 430.3h0M318.1 433.3h0M318.1 435.7h0M315.1 423.6h0M318.8 436.9h0M314.9 439.3h0M315.2 426h0M315.9 440.3h0M313.1 439.9h0M315.6 442.1h0M313.2 429.9h0M314.2 430.1h0M318.7 432.3h0M317.8 428.8h0M315.7 420.2h0M316.3 417.9h0M311.1 429.9h0M312.3 428.4h0M313.6 426.1h0M316.4 427.2h0M315 416.7h0M316 440.4h0M317 427.7h0M317.8 433.9h0M316.6 431h0M316 439.2h0M314.9 423h0M311.1 430h0M317.3 427.5h0M314.4 437.7h0M316.2 412.8h0M315.2 426.9h0M314.4 441.6h0M313.1 436.6h0M315.1 416.6h0M316.9 427.8h0M316.9 431.7h0M315.6 420.6h0M316.7 426.7h0M316.2 411.5h0M319.7 431.4h0M316.5 426.5h0M315.3 432.6h0M316.6 434.8h0M311.3 432.1h0M314.4 440.1h0M319.6 432.7h0M316.8 426.1h0M315.2 442.3h0M318.5 429h0" stroke="#111" stroke-width="0.6" stroke-linecap="round" fill="none" opacity="0.6"/>
<path d="M333.8,409 L335,412 L336.7,416 L338.3,420 L339.3,426 L340.1,433 L339.5,436 L336,440 L333.9,442.5 L333.1,442.5 L331,440 L327.5,436 L326.9,433 L327.7,426 L328.7,420 L330.3,416 L332,412 L333.2,409Z" fill="#8a8a8a"/>
<path d="M334.4 428.1h0M336.3 420h0M335.2 442.4h0M331.1 429.2h0M335.5 431.6h0M336.5 431.2h0M328 429.5h0M334.1 439.1h0M334.3 423.6h0M330.4 437.3h0M333.5 422.8h0M334.4 412.2h0M331.4 422.9h0M329.3 429.7h0M334.9 424.3h0M332.9 425.1h0M331.5 432.9h0M333.8 431.6h0M334.7 439.5h0M332.6 425.4h0M329.8 427h0M329 422.9h0M329 426.9h0M333.5 424.4h0M330.5 439.5h0M337 436.8h0M338.2 438.8h0M334.5 431.4h0M331.8 439.8h0M336.3 438.7h0M332.7 432.3h0M330.9 431.2h0M334.7 430h0M332.7 430.9h0M330.8 434.4h0M333.6 432.3h0M333.3 425.2h0M337.9 433.1h0M331.5 437h0M330 429.4h0M334.3 414.6h0M334.7 440.3h0M333.8 440.9h0M330.1 438.1h0M333.8 437.4h0M334.2 432.2h0M334.7 437.8h0M333.8 414.7h0M331.8 439.9h0M336.8 420.6h0M334.2 436.5h0M332.9 424.4h0M331.9 435.6h0M337.6 421.1h0M331.8 429h0M333.2 415.5h0M337 434.2h0M337.8 438.4h0M333.6 428.5h0M328.9 438.8h0M331.6 441.2h0M330.9 433.2h0M329.7 426.8h0M332.2 422.4h0M335.2 441.5h0M336.9 426.8h0M338.3 437h0M335.1 433.4h0M332.1 442.1h0M334.2 417.3h0M334.1 428.6h0M332.1 427.5h0M329.3 424.4h0M335.8 430h0M331.4 421.2h0M333.6 414.1h0M332.4 413.7h0M335 436.1h0M333.6 434.2h0M331.4 426.9h0M337.4 432.2h0M334.9 437.5h0M337.9 429.4h0M331.4 422h0M338.5 430.9h0M335.1 427.6h0M336.5 426.5h0M339.7 433.2h0M333.1 412h0M335.8 424.3h0M336 434.6h0M332.8 417.1h0M335.2 428.8h0M331.5 416h0M333.3 428.7h0M335.1 420.9h0M335.9 438.4h0M333.2 423.4h0M332.1 438.4h0M334.3 436.7h0M338.6 439.1h0M328.1 436.3h0M333.5 424.1h0M335.8 424.7h0M330.5 436.3h0M336 421.5h0M331.2 424.6h0M331.9 431.8h0M330.7 417.7h0M334.2 434.7h0M328.6 429h0M334.2 424.8h0M330.2 427.4h0M336.4 433.3h0M336.2 422.2h0M337.8 437.5h0M332.7 432.6h0M335.9 437h0M334.6 430.4h0M337.6 438.2h0M338.3 438.7h0M333.7 426h0M334.1 412.1h0M334.7 418.1h0M337.5 434.3h0M332.6 424.1h0M334.6 429.6h0M329.5 422.7h0M329.7 430.7h0M335.8 438h0M332.8 431.1h0M333.9 438.3h0M331.8 433.9h0M331.7 428.8h0M332.3 441.9h0M332.6 421.6h0M333.8 418.2h0M334.2 414.7h0M338.3 434.6h0M333.9 434.5h0" stroke="#111" stroke-width="0.6" stroke-linecap="round" fill="none" opacity="0.6"/>
<line x1="315.1" y1="403.5" x2="333.9" y2="403.5" stroke="#888" stroke-width="0.4"/>
<text x="324.5" y="402.7" font-size="2.6" font-family="'Liberation Sans',sans-serif" fill="#555" text-anchor="middle">**</text>
<circle cx="347.3" cy="402.4" r="1.3" fill="#e02a1a"/>
<circle cx="347.3" cy="406" r="1.3" fill="#777"/>
<text x="349.5" y="403.4" font-size="2.6" font-family="'Liberation Serif',serif" fill="#222">IS<tspan font-size="1.6" dy="-0.8">high</tspan><tspan dy="0.8"> mutTNA</tspan><tspan font-size="1.6" dy="-0.8">high</tspan></text>
<text x="349.5" y="407" font-size="2.6" font-family="'Liberation Sans',sans-serif" fill="#333" text-anchor="start">Other</text>
<rect x="158.4" y="466.6" width="184.3" height="67.8" fill="#fff" stroke="#999" stroke-width="0.7"/>
<line x1="158.4" y1="474.7" x2="342.7" y2="474.7" stroke="#eeeeee" stroke-width="0.5"/>
<line x1="157.4" y1="474.7" x2="158.4" y2="474.7" stroke="#555" stroke-width="0.5"/>
<text x="156.4" y="476.1" font-size="4.2" font-family="'Liberation Serif',serif" fill="#333" text-anchor="end">4</text>
<line x1="158.4" y1="492" x2="342.7" y2="492" stroke="#eeeeee" stroke-width="0.5"/>
<line x1="157.4" y1="492" x2="158.4" y2="492" stroke="#555" stroke-width="0.5"/>
<text x="156.4" y="493.4" font-size="4.2" font-family="'Liberation Serif',serif" fill="#333" text-anchor="end">2</text>
<line x1="158.4" y1="509.3" x2="342.7" y2="509.3" stroke="#eeeeee" stroke-width="0.5"/>
<line x1="157.4" y1="509.3" x2="158.4" y2="509.3" stroke="#555" stroke-width="0.5"/>
<text x="156.4" y="510.7" font-size="4.2" font-family="'Liberation Serif',serif" fill="#333" text-anchor="end">0</text>
<line x1="158.4" y1="526.6" x2="342.7" y2="526.6" stroke="#eeeeee" stroke-width="0.5"/>
<line x1="157.4" y1="526.6" x2="158.4" y2="526.6" stroke="#555" stroke-width="0.5"/>
<text x="156.4" y="528" font-size="4.2" font-family="'Liberation Serif',serif" fill="#333" text-anchor="end">-2</text>
<text x="151.5" y="502.1" font-size="5.9" font-family="'Liberation Serif',serif" fill="#222" text-anchor="middle" transform="rotate(-90 151.5 502.1)">Expression</text>
<line x1="178.5" y1="466.6" x2="178.5" y2="534.4" stroke="#eeeeee" stroke-width="0.5"/>
<line x1="178.5" y1="534.4" x2="178.5" y2="535.4" stroke="#555" stroke-width="0.5"/>
<text x="178.5" y="539.4" font-size="3.4" font-family="'Liberation Serif',serif" fill="#333" text-anchor="middle">Mismatch_Repair</text>
<line x1="170.5" y1="476.8" x2="186.5" y2="476.8" stroke="#777" stroke-width="0.5"/>
<line x1="170.5" y1="476.8" x2="170.5" y2="478" stroke="#777" stroke-width="0.5"/>
<line x1="186.5" y1="476.8" x2="186.5" y2="478" stroke="#777" stroke-width="0.5"/>
<text x="178.5" y="475.6" font-size="3.4" font-family="'Liberation Sans',sans-serif" fill="#555" text-anchor="middle">****</text>
<line x1="170.5" y1="488.3" x2="170.5" y2="524.5" stroke="#e56a5a" stroke-width="0.6"/>
<line x1="168.3" y1="488.3" x2="172.7" y2="488.3" stroke="#e56a5a" stroke-width="0.6"/>
<line x1="168.3" y1="524.5" x2="172.7" y2="524.5" stroke="#e56a5a" stroke-width="0.6"/>
<rect x="165" y="499.1" width="11" height="13.4" fill="#e0503e" stroke="#c23526" stroke-width="0.5"/>
<line x1="165" y1="505.5" x2="176" y2="505.5" stroke="#8a2219" stroke-width="0.5"/>
<line x1="186.5" y1="491" x2="186.5" y2="529" stroke="#bbb" stroke-width="0.4"/>
<rect x="180.8" y="504.5" width="11.4" height="12.5" fill="#8a8a8a" stroke="#666" stroke-width="0.4"/>
<path d="M174.7 502.3h0M175 510.3h0M165.1 494.9h0M172.1 506.5h0M165.5 498.6h0M175.4 498.1h0M163.9 509.7h0M174.9 503.7h0M170.6 507.6h0M168 500.6h0M164.7 506.8h0M166.4 495.3h0M166.2 509.7h0M171.3 507.6h0M169.6 504.1h0M175.3 501.9h0M177.2 504.1h0M175.4 491.8h0M164.8 501.8h0M174.4 505.8h0M171 511.8h0M174.4 510.4h0M171.2 518.6h0M164.3 518h0M175.3 518.2h0M176.7 502.8h0M170.9 506.7h0M173.8 513.9h0M174.3 490.5h0M164 517.9h0M170.4 512.3h0M177.4 506.8h0M165.2 522.3h0M173.1 503.4h0M164.3 492.9h0M164.8 507.2h0M167.7 517.9h0M176.3 513.4h0M176.4 505.1h0M164.4 494.5h0M170.2 505.9h0M163.9 491.6h0M163.6 520.5h0M165.1 514.6h0M169 488.6h0" stroke="#333" stroke-width="0.7" stroke-linecap="round" fill="none" opacity="0.7"/>
<path d="M181.4 512.8h0M183.2 510.9h0M181.8 507.4h0M179.9 515.8h0M186.5 509.1h0M184.8 522.3h0M187.9 509.1h0M186.4 508.9h0M180.9 524.7h0M188.2 508.8h0M185.9 516.3h0M182.1 508.1h0M179.8 508.9h0M181.5 523.5h0M186.6 518.7h0M189 511.3h0M192.8 506.1h0M184.9 502.1h0M189.2 512.6h0M190.3 515.4h0M185.5 523.7h0M183 520.5h0M191.5 499h0M184 521.6h0M193.1 503.8h0M190.1 519.1h0M190 510.5h0M190.4 501.7h0M185.1 509.1h0M191.7 501.5h0M187.4 519.1h0M189.4 509.4h0M189 513.3h0M181.5 502.2h0M180.2 520.6h0M192.3 502.3h0M189 505.4h0M180.3 522.4h0M187.7 512.2h0M188.5 513.1h0M181.8 505.2h0M193.1 518.9h0M188.2 513.8h0M192.9 520.5h0M180.6 516.5h0M185.9 499.9h0M180.2 500.5h0M190 515h0M193.2 516.6h0M191.4 511.1h0M179.9 510.8h0M190.4 523.3h0M190.8 513.6h0M190.9 520.3h0M191 506.4h0M187.1 509.1h0M187.2 508h0M193.4 501.4h0M182 518.2h0M186.2 498.1h0M184 507.2h0M186.1 514.1h0M192.7 519.7h0M184.9 505.3h0M182.2 502.4h0M189.2 513h0M193.4 520.5h0M183.8 507.2h0M188.5 504.5h0M182.2 497.4h0M182.5 510.4h0M184.5 511.2h0M188.9 514.8h0M191.1 502.5h0M183.7 509.1h0M182.9 518.5h0M189 507.5h0M183.4 511h0M183.6 511.4h0M185.4 500.2h0M189.2 509.1h0M191.8 514.2h0M190.8 499.7h0M187.1 494.1h0M192 513.3h0M184.9 515.8h0M190 504.6h0M179.8 495.5h0M185.6 500.3h0M191.7 509.9h0M180.6 509.1h0M184.1 521.3h0M187.9 508.5h0M191.5 508h0M185.7 513.9h0M192.2 514.9h0M183.6 518h0M184.5 524.2h0M183.1 519.5h0M190.5 514.2h0M179.8 517.5h0M187.7 502.5h0M182.3 510h0M188.4 527.5h0M186.3 514.4h0M188.1 509.1h0M179.9 511.2h0M189.7 504.5h0M187 511h0M191.7 501.5h0M187.7 509.9h0M191.7 521.3h0M187.6 512.7h0M189.5 517.7h0M190.6 522.6h0M183.4 512.8h0M187.1 509.7h0M180.7 514.5h0M189.4 520.4h0M186.2 510.8h0M185.8 519.9h0M184.9 503.4h0M184.7 515h0M181.2 504.4h0M190.6 510.6h0M192.9 510.3h0M186.2 503.8h0M189.8 512.3h0M180.1 523.8h0M193 498.4h0M187.9 506h0M191.4 507.6h0M182.4 512h0M189.9 515.9h0M186.3 509.9h0M190.4 508.6h0M190.2 515.7h0M181.1 505.5h0M186.5 519.2h0M192.8 502.8h0" stroke="#222" stroke-width="0.7" stroke-linecap="round" fill="none" opacity="0.75"/>
<line x1="180.9" y1="510.5" x2="192.1" y2="510.5" stroke="#222" stroke-width="0.6"/>
<line x1="214" y1="466.6" x2="214" y2="534.4" stroke="#eeeeee" stroke-width="0.5"/>
<line x1="214" y1="534.4" x2="214" y2="535.4" stroke="#555" stroke-width="0.5"/>
<text x="214" y="539.4" font-size="3.4" font-family="'Liberation Serif',serif" fill="#333" text-anchor="middle">Nucleotide_excision_repair</text>
<line x1="206" y1="476.8" x2="222" y2="476.8" stroke="#777" stroke-width="0.5"/>
<line x1="206" y1="476.8" x2="206" y2="478" stroke="#777" stroke-width="0.5"/>
<line x1="222" y1="476.8" x2="222" y2="478" stroke="#777" stroke-width="0.5"/>
<text x="214" y="475.6" font-size="3.4" font-family="'Liberation Sans',sans-serif" fill="#555" text-anchor="middle">****</text>
<line x1="206" y1="488.3" x2="206" y2="524.5" stroke="#e56a5a" stroke-width="0.6"/>
<line x1="203.8" y1="488.3" x2="208.2" y2="488.3" stroke="#e56a5a" stroke-width="0.6"/>
<line x1="203.8" y1="524.5" x2="208.2" y2="524.5" stroke="#e56a5a" stroke-width="0.6"/>
<rect x="200.5" y="499.1" width="11" height="13.4" fill="#e0503e" stroke="#c23526" stroke-width="0.5"/>
<line x1="200.5" y1="505.5" x2="211.5" y2="505.5" stroke="#8a2219" stroke-width="0.5"/>
<line x1="222" y1="491" x2="222" y2="529" stroke="#bbb" stroke-width="0.4"/>
<rect x="216.3" y="504.5" width="11.4" height="12.5" fill="#8a8a8a" stroke="#666" stroke-width="0.4"/>
<path d="M201.6 505.8h0M210.4 506.4h0M204.1 505.4h0M210.3 504.7h0M200.3 514h0M202.9 519.7h0M200.3 499.1h0M212.4 500.8h0M204.1 505.8h0M212.5 510.5h0M212.1 517.4h0M211.8 505.6h0M200.6 486.9h0M208.7 514.4h0M199.2 502.7h0M203.1 497.3h0M209.1 507.9h0M201.4 516.7h0M212.8 505.5h0M205.8 499.7h0M208.4 493.6h0M210.1 517.2h0M205.1 507.4h0M204.4 506.4h0M211.9 501h0M210.4 514.1h0M202.1 489.5h0M207.3 513.3h0M208.5 499.3h0M200.5 504.1h0M206.2 503.4h0M199.4 503.6h0M202.9 508.6h0M200.8 500.9h0M209.8 496.1h0M210.4 502.3h0M206.3 494.5h0M209.8 497.9h0M204.6 508.3h0M199.3 507.8h0M204.5 515.8h0M205 508.8h0M211.2 507.6h0M210.2 493.8h0M207 518.8h0" stroke="#333" stroke-width="0.7" stroke-linecap="round" fill="none" opacity="0.7"/>
<path d="M225.5 521.2h0M221.3 525.9h0M216.9 513h0M215 511.6h0M225.9 512.1h0M219.1 504.8h0M227.8 512.3h0M226.5 526.5h0M220.7 503.1h0M220 512.5h0M224.9 500.2h0M216.7 489.1h0M219.3 497.4h0M228.9 508.1h0M226.5 521.1h0M218 517.6h0M221 512.1h0M221 511.3h0M227.3 510h0M224.7 512.3h0M218.9 514.8h0M227.4 513.1h0M227.6 502h0M224.7 510.6h0M219.8 500.7h0M224.3 519.1h0M227.4 497.8h0M226.7 504.5h0M218.3 504.4h0M217.2 503.1h0M218.1 496.4h0M215.5 522h0M228.5 517.7h0M223.7 508.1h0M219.2 512h0M225.2 510.9h0M218.2 504.3h0M215.1 510.2h0M220.5 491.9h0M222.2 515.2h0M228.6 498.8h0M222.2 518.9h0M215.3 520.5h0M223.1 505h0M221.1 525.7h0M215.8 511.3h0M216.5 511.5h0M219.7 504.3h0M218.8 497.6h0M219.7 513.2h0M216.8 503.9h0M227.5 508.3h0M215.9 503.6h0M226.3 514.3h0M217.6 512.9h0M226.6 501.3h0M226.3 498.5h0M216.9 510.3h0M225.6 512.8h0M217.3 519.8h0M228.3 501.6h0M222.1 516.9h0M224.7 514.9h0M220.4 522.6h0M224 520.5h0M225.6 506h0M221.8 494.2h0M221.6 513.4h0M215.5 507.3h0M215.2 518.4h0M216.4 506.3h0M228.2 508.5h0M216.7 509.3h0M220.4 513.6h0M215.1 507.4h0M216.5 507.8h0M219.9 514.8h0M228.2 514.2h0M219.5 507.1h0M224.4 500.1h0M221.4 500.4h0M217 514.5h0M215.6 511.9h0M221.5 511.6h0M216.3 501.2h0M218.4 513.4h0M224.5 504h0M222.4 510.1h0M215.5 506.1h0M228.3 509.2h0M222.8 505.4h0M216.1 509.6h0M217.2 507.8h0M227.4 514.3h0M219.2 504h0M220.2 513.9h0M217.5 504.7h0M222.9 497.5h0M218.2 510.7h0M224.6 508.5h0M221.1 518h0M216 529.9h0M219.5 509.3h0M225.7 508.6h0M215 517.3h0M215.6 524.2h0M227.2 514.4h0M219.2 516.8h0M224.1 507.4h0M218.7 507.1h0M221.9 517.8h0M224.1 506h0M226.3 504.1h0M220.3 497.4h0M225.2 514.6h0M215.9 513.5h0M227 514.4h0M219.6 518h0M218.9 515.9h0M221.9 516.5h0M222.4 503.8h0M222.5 496.7h0M222.7 513.7h0M219.3 517h0M224.9 516.5h0M218.2 516.5h0M227.5 515h0M219.4 519.2h0M223.4 523.4h0M219 512.4h0M220.6 496.1h0M222.9 500.8h0M222.3 514.3h0M217.5 512.8h0M227 524.1h0M219.7 512.2h0M225.8 494.2h0M220.4 513.9h0M217.3 503.8h0M217.1 518h0" stroke="#222" stroke-width="0.7" stroke-linecap="round" fill="none" opacity="0.75"/>
<line x1="216.4" y1="510.5" x2="227.6" y2="510.5" stroke="#222" stroke-width="0.6"/>
<line x1="249.5" y1="466.6" x2="249.5" y2="534.4" stroke="#eeeeee" stroke-width="0.5"/>
<line x1="249.5" y1="534.4" x2="249.5" y2="535.4" stroke="#555" stroke-width="0.5"/>
<text x="249.5" y="539.4" font-size="3.4" font-family="'Liberation Serif',serif" fill="#333" text-anchor="middle">Base_excision_repair</text>
<line x1="241.5" y1="476.8" x2="257.5" y2="476.8" stroke="#777" stroke-width="0.5"/>
<line x1="241.5" y1="476.8" x2="241.5" y2="478" stroke="#777" stroke-width="0.5"/>
<line x1="257.5" y1="476.8" x2="257.5" y2="478" stroke="#777" stroke-width="0.5"/>
<text x="249.5" y="475.6" font-size="3.4" font-family="'Liberation Sans',sans-serif" fill="#555" text-anchor="middle">****</text>
<line x1="241.5" y1="488.3" x2="241.5" y2="524.5" stroke="#e56a5a" stroke-width="0.6"/>
<line x1="239.3" y1="488.3" x2="243.7" y2="488.3" stroke="#e56a5a" stroke-width="0.6"/>
<line x1="239.3" y1="524.5" x2="243.7" y2="524.5" stroke="#e56a5a" stroke-width="0.6"/>
<rect x="236" y="499.1" width="11" height="13.4" fill="#e0503e" stroke="#c23526" stroke-width="0.5"/>
<line x1="236" y1="505.5" x2="247" y2="505.5" stroke="#8a2219" stroke-width="0.5"/>
<line x1="257.5" y1="491" x2="257.5" y2="529" stroke="#bbb" stroke-width="0.4"/>
<rect x="251.8" y="504.5" width="11.4" height="12.5" fill="#8a8a8a" stroke="#666" stroke-width="0.4"/>
<path d="M243.5 505.4h0M248.2 504.3h0M239.2 489h0M243.3 496.2h0M247.7 503.8h0M245.3 488.2h0M241.6 506.1h0M246.2 516.3h0M235.3 507.8h0M237.4 497.2h0M235.9 505.1h0M235 496.5h0M237.8 511.2h0M236.8 506.9h0M240.3 506h0M243.9 505.5h0M247.7 504.3h0M248 501h0M246.2 512.5h0M241.8 502.4h0M243 524.2h0M239 504.4h0M234.8 493.8h0M235.5 497.7h0M247 515.6h0M245.5 511.1h0M248.1 503.2h0M236 514.3h0M244.3 523.1h0M234.7 500.7h0M236.2 523.5h0M244.9 504.3h0M245.2 495h0M247.2 510.1h0M240.8 500h0M240.9 509.2h0M242.7 505.7h0M237.6 509.4h0M236.2 510h0M245.2 511.7h0M240 500.8h0M242 496.6h0M247.5 511.8h0M238.6 514.4h0M238.9 487.2h0" stroke="#333" stroke-width="0.7" stroke-linecap="round" fill="none" opacity="0.7"/>
<path d="M250.9 494.6h0M254.7 514.5h0M256.9 507.9h0M253.8 518.2h0M262.8 519.3h0M259.5 509h0M262.5 504.5h0M255.3 512.1h0M253.1 520.6h0M262.1 498.2h0M259.5 519.4h0M264.1 513.3h0M259 515.5h0M253.9 505.2h0M259.9 508.3h0M261.6 520.6h0M253.2 504.2h0M254 519.8h0M252.1 504.9h0M259.8 507.3h0M251.5 522.6h0M262.2 504.5h0M263.8 530.8h0M254.1 513.8h0M263.9 503.6h0M256.5 501.4h0M251.1 495.8h0M257.6 528.4h0M263.3 504.5h0M259 510.1h0M257 495.5h0M250.9 512.9h0M257.1 496.1h0M259.4 527.1h0M257.2 515.4h0M252.9 508.7h0M255.8 516h0M256.6 506h0M251.8 497.3h0M258.5 511h0M255.2 503.7h0M251.6 506.6h0M259.6 510.3h0M250.8 520.8h0M253 506.9h0M257.9 509.7h0M262.1 518.6h0M262.1 501.1h0M258.7 503.5h0M251.1 514.3h0M261.1 509.6h0M257.5 514h0M261 506.3h0M263 509.7h0M262.3 516.6h0M256.9 502.5h0M260.9 516.2h0M250.6 518.7h0M250.5 509.7h0M258.7 504h0M258.4 513.4h0M251.7 506.7h0M260.4 505.2h0M254.4 500.5h0M262 532.3h0M259.2 508h0M258.8 513.8h0M256.6 510.7h0M258.6 510h0M250.9 502.9h0M255.8 510.2h0M251.3 509.5h0M254.1 514.2h0M261.1 509.2h0M255.7 524.9h0M264.4 517.4h0M252.2 517h0M260.3 514.2h0M262.8 516.7h0M254 507.4h0M260.5 512.7h0M258.1 503.6h0M259.2 519h0M262.8 520h0M259.4 505.8h0M252.2 514.8h0M258.3 510.5h0M262.1 507.7h0M254.4 504h0M263.3 528.9h0M261.5 514.5h0M252.9 515.3h0M256.8 501.2h0M252.3 518.7h0M261.3 509.3h0M251.7 507.2h0M252.5 509.3h0M260.7 502.9h0M250.9 506h0M262.1 510.2h0M255.6 509.4h0M258.9 507.6h0M252.7 517.7h0M261.3 507.8h0M256.3 526.3h0M263.7 515.4h0M261.2 512.8h0M253.4 516.2h0M261.5 515.2h0M260.4 508.4h0M257.5 501.9h0M254.7 505.2h0M258.8 513.5h0M263.4 502.7h0M253.9 496.1h0M257.8 500.8h0M254.2 522.4h0M257.7 511h0M263.1 511.2h0M255 507.8h0M252 525.9h0M253 520.2h0M254.2 514.4h0M253.2 524.4h0M256.6 510.4h0M259.5 517h0M261 520.2h0M256.4 507.6h0M251.7 504.5h0M254 515.1h0M255.4 520h0M261.1 501.3h0M252.5 506.5h0M258.3 502.7h0M264.1 517.2h0M260.5 515.5h0M254.4 500.8h0M251.5 507.4h0M250.7 508.7h0M251.8 522.4h0" stroke="#222" stroke-width="0.7" stroke-linecap="round" fill="none" opacity="0.75"/>
<line x1="251.9" y1="510.5" x2="263.1" y2="510.5" stroke="#222" stroke-width="0.6"/>
<line x1="285" y1="466.6" x2="285" y2="534.4" stroke="#eeeeee" stroke-width="0.5"/>
<line x1="285" y1="534.4" x2="285" y2="535.4" stroke="#555" stroke-width="0.5"/>
<text x="285" y="539.4" font-size="3.4" font-family="'Liberation Serif',serif" fill="#333" text-anchor="middle">DNA_damage_response</text>
<line x1="277" y1="476.8" x2="293" y2="476.8" stroke="#777" stroke-width="0.5"/>
<line x1="277" y1="476.8" x2="277" y2="478" stroke="#777" stroke-width="0.5"/>
<line x1="293" y1="476.8" x2="293" y2="478" stroke="#777" stroke-width="0.5"/>
<text x="285" y="475.6" font-size="3.4" font-family="'Liberation Sans',sans-serif" fill="#555" text-anchor="middle">****</text>
<line x1="277" y1="488.3" x2="277" y2="524.5" stroke="#e56a5a" stroke-width="0.6"/>
<line x1="274.8" y1="488.3" x2="279.2" y2="488.3" stroke="#e56a5a" stroke-width="0.6"/>
<line x1="274.8" y1="524.5" x2="279.2" y2="524.5" stroke="#e56a5a" stroke-width="0.6"/>
<rect x="271.5" y="499.1" width="11" height="13.4" fill="#e0503e" stroke="#c23526" stroke-width="0.5"/>
<line x1="271.5" y1="505.5" x2="282.5" y2="505.5" stroke="#8a2219" stroke-width="0.5"/>
<line x1="293" y1="491" x2="293" y2="529" stroke="#bbb" stroke-width="0.4"/>
<rect x="287.3" y="504.5" width="11.4" height="12.5" fill="#8a8a8a" stroke="#666" stroke-width="0.4"/>
<path d="M276.3 504.5h0M275.6 509.6h0M277.8 513.7h0M270.7 510.4h0M275.9 508.1h0M282.3 507.6h0M281.6 504.6h0M273.2 490.9h0M276 502.3h0M280.1 505.1h0M273.5 498.2h0M283.7 502.4h0M271 499.9h0M276.3 494.9h0M271.3 493.9h0M282 508.1h0M283.8 514.9h0M276.5 498.7h0M271.1 513.7h0M271.5 505.1h0M277.6 498h0M274 503.9h0M270.9 502.4h0M273.7 493.8h0M279.4 503.5h0M272.6 500.8h0M281.9 519.6h0M277.2 512.4h0M272.4 496.1h0M282 508.4h0M280.6 508.1h0M282.3 503.6h0M274.1 491.4h0M275.5 508.5h0M271.7 497.9h0M274.1 510.4h0M273.5 509.4h0M274.9 519.4h0M271.3 518.7h0M274.6 513.1h0M276.8 499h0M280.1 511.5h0M277.8 503.4h0M276.5 511.8h0M271.4 510.4h0" stroke="#333" stroke-width="0.7" stroke-linecap="round" fill="none" opacity="0.7"/>
<path d="M292.9 514.4h0M287.4 498.2h0M291.5 508.2h0M297.9 520.1h0M294.8 511.4h0M288.2 512.3h0M291.4 512.4h0M289.8 513.4h0M288.4 506.7h0M294.9 490.2h0M288.9 525.4h0M297.9 534.3h0M292.9 502.3h0M295.9 493.4h0M294.6 504.1h0M292.2 507.6h0M291.9 503.6h0M286.5 501.6h0M297.4 505.2h0M299.1 502.7h0M292.4 508.9h0M290.3 515.4h0M294.2 503.4h0M294.2 509h0M297.3 527.8h0M289.6 497.2h0M298.2 509.4h0M287 519h0M295.5 503.1h0M298.2 500.8h0M288 519.1h0M293.5 515.5h0M289.7 506.1h0M296.1 516.5h0M292.7 508.9h0M286.7 515.1h0M294.3 511.2h0M288.5 518.2h0M294.7 519.1h0M292.6 505.7h0M288.7 503.7h0M294.8 519.5h0M293.8 512.2h0M297.8 502.6h0M299 513.7h0M291.9 522.2h0M299.7 516.6h0M293.9 512.4h0M298.7 511.4h0M297.8 514.6h0M291.1 518.9h0M296 510.8h0M295.9 505.1h0M295.4 494.7h0M295.8 524.1h0M288.9 507.7h0M286.8 508.5h0M292.6 501.5h0M297.7 514.9h0M288.1 517.4h0M294.4 505.9h0M296.7 508.7h0M289.5 516.3h0M296.8 512.7h0M296.8 500.9h0M289.1 517.9h0M289.3 514.2h0M294.1 522h0M296.3 505.1h0M295.5 507.4h0M296.4 514.6h0M293.2 517.5h0M296.4 516.3h0M286.6 509.6h0M287.1 522h0M288.7 522.7h0M289.9 502h0M296.5 513.4h0M295.5 514h0M295.1 515.9h0M290.7 511.8h0M290.2 502h0M287.7 520.5h0M291.8 511.9h0M293.4 491.2h0M291.2 512.1h0M293.6 513.6h0M299.2 501.9h0M290.1 501h0M292.9 512.5h0M292.6 518.6h0M293.4 521.4h0M299.1 511.3h0M297.4 514.7h0M286.5 505.7h0M290.5 520.6h0M289.8 513.6h0M294.3 521.6h0M299.7 515.6h0M296.2 511.7h0M290.1 513.8h0M291.1 510.3h0M286.4 505.8h0M287.4 507.9h0M292.5 517.5h0M299.1 508.8h0M293.6 513.5h0M293.2 508.6h0M297.1 499.3h0M289.7 498.2h0M289.4 498.9h0M292.5 500.9h0M289.4 500.3h0M296.7 515h0M296.3 508.7h0M294.7 522.4h0M290.6 510h0M293.8 520.4h0M299.3 508.1h0M297.4 507.6h0M290.8 510h0M297 501.6h0M293.8 513.9h0M299.5 522.8h0M288.3 500.9h0M295.7 506.5h0M289 506.6h0M297.2 505.8h0M295.9 525.7h0M293.7 512.7h0M294 515.8h0M291.4 516.8h0M288.4 518.2h0M287.2 510.6h0M296.4 496.5h0M294 512.4h0M292.1 509.3h0M291.6 509.2h0M297.9 503.4h0M299 507.1h0" stroke="#222" stroke-width="0.7" stroke-linecap="round" fill="none" opacity="0.75"/>
<line x1="287.4" y1="510.5" x2="298.6" y2="510.5" stroke="#222" stroke-width="0.6"/>
<line x1="320.5" y1="466.6" x2="320.5" y2="534.4" stroke="#eeeeee" stroke-width="0.5"/>
<line x1="320.5" y1="534.4" x2="320.5" y2="535.4" stroke="#555" stroke-width="0.5"/>
<text x="320.5" y="539.4" font-size="3.4" font-family="'Liberation Serif',serif" fill="#333" text-anchor="middle">DNA_replication</text>
<line x1="312.5" y1="476.8" x2="328.5" y2="476.8" stroke="#777" stroke-width="0.5"/>
<line x1="312.5" y1="476.8" x2="312.5" y2="478" stroke="#777" stroke-width="0.5"/>
<line x1="328.5" y1="476.8" x2="328.5" y2="478" stroke="#777" stroke-width="0.5"/>
<text x="320.5" y="475.6" font-size="3.4" font-family="'Liberation Sans',sans-serif" fill="#555" text-anchor="middle">****</text>
<line x1="312.5" y1="488.3" x2="312.5" y2="524.5" stroke="#e56a5a" stroke-width="0.6"/>
<line x1="310.3" y1="488.3" x2="314.7" y2="488.3" stroke="#e56a5a" stroke-width="0.6"/>
<line x1="310.3" y1="524.5" x2="314.7" y2="524.5" stroke="#e56a5a" stroke-width="0.6"/>
<rect x="307" y="499.1" width="11" height="13.4" fill="#e0503e" stroke="#c23526" stroke-width="0.5"/>
<line x1="307" y1="505.5" x2="318" y2="505.5" stroke="#8a2219" stroke-width="0.5"/>
<line x1="328.5" y1="491" x2="328.5" y2="529" stroke="#bbb" stroke-width="0.4"/>
<rect x="322.8" y="504.5" width="11.4" height="12.5" fill="#8a8a8a" stroke="#666" stroke-width="0.4"/>
<path d="M315.5 491.8h0M310 513.7h0M314.5 515.1h0M305.8 490.4h0M311.1 512h0M313.1 510.5h0M309.4 491.6h0M313.7 498.9h0M308.3 504h0M307.4 514.2h0M313.4 492.5h0M306.1 507.3h0M310.2 494h0M307.5 515.3h0M307.1 489.9h0M310.8 508h0M313.6 501.2h0M311.3 509.8h0M311.4 499.6h0M312.1 508.6h0M308.9 520.5h0M310.9 499.5h0M316.5 506.7h0M317.6 512.6h0M316.3 516.1h0M305.9 504.3h0M314.4 502.8h0M307.3 512h0M318.8 491.6h0M313.3 500.1h0M317.3 503.4h0M305.9 505.8h0M311.3 518.5h0M311.1 493.7h0M307 518.1h0M317.2 505.6h0M314.2 503.2h0M315.3 520.6h0M318.3 513.1h0M307.7 499h0M315.4 506.8h0M305.9 508.7h0M305.7 507.1h0M305.5 491.7h0M312.1 505.1h0" stroke="#333" stroke-width="0.7" stroke-linecap="round" fill="none" opacity="0.7"/>
<path d="M323.4 516.4h0M324.9 516.8h0M332.1 512.6h0M330.2 506.1h0M328.1 518.3h0M328.3 517.5h0M328.4 506.2h0M331.6 515.1h0M330.7 514.4h0M326.4 515.4h0M332.8 506.7h0M326.9 504.9h0M328.4 520.5h0M334.2 517.6h0M326.3 520.7h0M321.6 513.9h0M329.5 508.1h0M331.7 502.4h0M327.6 518.4h0M334.5 510.9h0M322 499.2h0M332.7 504.1h0M326.6 496.2h0M325.5 503h0M333 505.2h0M322.2 502.8h0M328.6 505.7h0M322.8 513.2h0M328.1 522h0M323.8 512.7h0M325.2 503.7h0M322.4 515.7h0M324.5 501h0M325.8 497.1h0M331 509.2h0M322.7 515.7h0M330 506h0M326.7 513.8h0M324 520.8h0M329.5 510.9h0M329.2 506.1h0M327.6 509.4h0M323.5 503.3h0M324.2 519.3h0M330.1 521.8h0M331.2 512.3h0M328.3 515.5h0M321.6 512.9h0M333.9 515.3h0M323 511.2h0M330.1 512.1h0M332.4 507.5h0M334.4 516.8h0M321.9 521.4h0M333.1 513.2h0M326 503.7h0M327.7 520h0M322.1 500.4h0M332.5 507.8h0M331.2 508.8h0M324.1 511h0M324.4 497h0M328.6 512.8h0M323.3 517.3h0M330.2 503.1h0M325.8 509.7h0M331.7 513.4h0M331.6 507.9h0M327.4 519.9h0M322.8 509.6h0M328 518.7h0M326.1 517.2h0M331.3 504.2h0M323.1 509.8h0M325.1 506.3h0M333.7 510.2h0M334.6 508.3h0M326.8 499.9h0M328.7 513.5h0M325.2 515.3h0M333.7 522.7h0M327.6 500.4h0M325.3 500.1h0M329.2 522.2h0M330 521.1h0M322.8 515.5h0M330.3 498.5h0M334.6 507.8h0M329.9 506.8h0M332.6 517.4h0M331.5 510.8h0M321.8 503.9h0M330.3 503h0M330.8 522.3h0M321.6 511.8h0M327.9 515.4h0M326.9 522.2h0M331.3 514.4h0M330.4 498.2h0M332.9 502.6h0M329.5 512.2h0M325.9 493.6h0M323 507.8h0M322.8 505h0M333.4 509.3h0M327.1 518h0M334.8 518.2h0M329.2 508.8h0M324.6 516.3h0M325.6 511.9h0M333.6 507.8h0M332.8 510.8h0M330.9 507.6h0M329.5 507.9h0M326.5 515.8h0M335.2 523.8h0M330.4 515h0M334 505.8h0M323.5 501.8h0M324 510.3h0M334.8 509.6h0M323.4 511.7h0M332.6 493.6h0M321.5 521.7h0M332.5 512.9h0M323.4 512.3h0M324.2 520.5h0M328.3 511.5h0M333.3 499.9h0M335.3 508.2h0M324.3 503h0M329.5 501.6h0M335.1 502.4h0M327.1 503.4h0M328.3 505.5h0M323.5 517.7h0M333.8 507.8h0M333.7 508.4h0M322 512.2h0M326.7 506.9h0" stroke="#222" stroke-width="0.7" stroke-linecap="round" fill="none" opacity="0.75"/>
<line x1="322.9" y1="510.5" x2="334.1" y2="510.5" stroke="#222" stroke-width="0.6"/>
<circle cx="347.3" cy="473.3" r="1.4" fill="#e02a1a"/>
<circle cx="347.3" cy="478.7" r="1.4" fill="#777"/>
<text x="350" y="474.5" font-size="3.5" font-family="'Liberation Serif',serif" fill="#222">IS<tspan font-size="2.1" dy="-1.1">high</tspan><tspan dy="1.1"> mutTNA</tspan><tspan font-size="2.1" dy="-1.1">high</tspan></text>
<text x="350" y="479.9" font-size="3.5" font-family="'Liberation Serif',serif" fill="#333" text-anchor="start">Other</text>
<rect x="391.2" y="399.4" width="105" height="84" fill="#fff" stroke="#999" stroke-width="0.7"/>
<line x1="391.2" y1="403" x2="496.2" y2="403" stroke="#eeeeee" stroke-width="0.4"/>
<text x="389.9" y="404.2" font-size="3.7" font-family="'Liberation Serif',serif" fill="#444" text-anchor="end">0.0</text>
<line x1="391.2" y1="407.1" x2="496.2" y2="407.1" stroke="#eeeeee" stroke-width="0.4"/>
<text x="389.9" y="408.2" font-size="3.7" font-family="'Liberation Serif',serif" fill="#444" text-anchor="end">-0.1</text>
<line x1="391.2" y1="411.1" x2="496.2" y2="411.1" stroke="#eeeeee" stroke-width="0.4"/>
<text x="389.9" y="412.3" font-size="3.7" font-family="'Liberation Serif',serif" fill="#444" text-anchor="end">-0.2</text>
<line x1="391.2" y1="415.1" x2="496.2" y2="415.1" stroke="#eeeeee" stroke-width="0.4"/>
<text x="389.9" y="416.3" font-size="3.7" font-family="'Liberation Serif',serif" fill="#444" text-anchor="end">-0.3</text>
<line x1="391.2" y1="419.2" x2="496.2" y2="419.2" stroke="#eeeeee" stroke-width="0.4"/>
<text x="389.9" y="420.4" font-size="3.7" font-family="'Liberation Serif',serif" fill="#444" text-anchor="end">-0.4</text>
<line x1="391.2" y1="423.2" x2="496.2" y2="423.2" stroke="#eeeeee" stroke-width="0.4"/>
<text x="389.9" y="424.4" font-size="3.7" font-family="'Liberation Serif',serif" fill="#444" text-anchor="end">-0.5</text>
<line x1="391.2" y1="427.3" x2="496.2" y2="427.3" stroke="#eeeeee" stroke-width="0.4"/>
<text x="389.9" y="428.5" font-size="3.7" font-family="'Liberation Serif',serif" fill="#444" text-anchor="end">-0.6</text>
<line x1="393.6" y1="399.4" x2="393.6" y2="483.3" stroke="#eeeeee" stroke-width="0.4"/>
<line x1="407.4" y1="399.4" x2="407.4" y2="483.3" stroke="#eeeeee" stroke-width="0.4"/>
<line x1="421.2" y1="399.4" x2="421.2" y2="483.3" stroke="#eeeeee" stroke-width="0.4"/>
<line x1="435" y1="399.4" x2="435" y2="483.3" stroke="#eeeeee" stroke-width="0.4"/>
<line x1="448.8" y1="399.4" x2="448.8" y2="483.3" stroke="#eeeeee" stroke-width="0.4"/>
<line x1="462.6" y1="399.4" x2="462.6" y2="483.3" stroke="#eeeeee" stroke-width="0.4"/>
<line x1="476.4" y1="399.4" x2="476.4" y2="483.3" stroke="#eeeeee" stroke-width="0.4"/>
<line x1="490.2" y1="399.4" x2="490.2" y2="483.3" stroke="#eeeeee" stroke-width="0.4"/>
<text x="380.5" y="415.5" font-size="4.2" font-family="'Liberation Serif',serif" fill="#333" text-anchor="middle" transform="rotate(-90 380.5 415.5)">Enrichment score</text>
<path d="M394.6,402.6 L400.6,402.6 L404,403.8 L407.4,404.8 L410.9,405.7 L414.3,406.6 L417.7,407.5 L421.1,408.4 L424.5,409.2 L428,410.1 L431.4,410.9 L434.8,411.8 L438.2,412.6 L441.6,413.4 L445.1,414.2 L448.5,415 L451.9,415.8 L455.3,416.6 L458.7,417.4 L462.2,418.2 L465.6,418.9 L469,419.7 L471,419.6 L472.9,419.2 L474.9,418.5 L476.9,417.7 L478.9,416.6 L480.9,415.3 L482.8,413.8 L484.8,412.1 L486.8,410.2 L488.8,408.1 L490.7,405.8 L492.7,403.3" fill="none" stroke="#f79a80" stroke-width="1.05" stroke-linejoin="round"/>
<path d="M394.6,402.6 L400.6,402.6 L404.2,403.8 L407.8,404.9 L411.4,406 L415,407.1 L418.6,408.2 L422.1,409.2 L425.7,410.3 L429.3,411.3 L432.9,412.3 L436.5,413.4 L440.1,414.4 L443.7,415.4 L447.3,416.4 L450.9,417.4 L454.4,418.4 L458,419.4 L461.6,420.4 L465.2,421.4 L468.8,422.4 L472.4,423.4 L474.1,423.2 L475.8,422.7 L477.5,422 L479.2,420.9 L480.9,419.6 L482.5,418 L484.2,416.2 L485.9,414.1 L487.6,411.8 L489.3,409.2 L491,406.4 L492.7,403.3" fill="none" stroke="#3a5ba6" stroke-width="1.05" stroke-linejoin="round"/>
<path d="M394.6,402.6 L398.5,404.2 L402.5,405.6 L406.4,406.9 L410.4,408.2 L414.3,409.4 L418.3,410.6 L422.2,411.7 L426.2,412.9 L430.1,414 L434.1,415.1 L438,416.2 L441.9,417.3 L445.9,418.3 L449.8,419.4 L453.8,420.5 L457.7,421.5 L461.7,422.5 L465.6,423.6 L469.6,424.6 L473.5,425.6 L475.1,425.4 L476.7,424.9 L478.3,424 L479.9,422.8 L481.5,421.4 L483.1,419.6 L484.7,417.6 L486.3,415.3 L487.9,412.7 L489.5,409.8 L491.1,406.7 L492.7,403.3" fill="none" stroke="#f0604a" stroke-width="1.05" stroke-linejoin="round"/>
<path d="M394.6,402.6 L398.7,404.9 L402.7,406.7 L406.8,408.2 L410.9,409.7 L415,411 L419,412.4 L423.1,413.7 L427.2,414.9 L431.2,416.1 L435.3,417.3 L439.4,418.5 L443.4,419.6 L447.5,420.7 L451.6,421.8 L455.6,422.9 L459.7,424 L463.8,425.1 L467.9,426.1 L471.9,427.2 L476,428.2 L477.4,428 L478.8,427.4 L480.2,426.4 L481.6,425.1 L483,423.5 L484.4,421.5 L485.7,419.3 L487.1,416.7 L488.5,413.8 L489.9,410.6 L491.3,407.1 L492.7,403.3" fill="none" stroke="#23b8d8" stroke-width="1.05" stroke-linejoin="round"/>
<path d="M394.6,402.6 L398.6,405.7 L402.6,407.6 L406.6,409.3 L410.6,410.9 L414.6,412.3 L418.6,413.7 L422.6,415 L426.6,416.2 L430.6,417.5 L434.6,418.6 L438.5,419.8 L442.5,420.9 L446.5,422 L450.5,423 L454.5,424.1 L458.5,425.1 L462.5,426.1 L466.5,427.1 L470.5,428 L474.5,429 L476,428.8 L477.5,428.1 L479.1,427.2 L480.6,425.8 L482.1,424.1 L483.6,422.1 L485.1,419.8 L486.6,417.1 L488.1,414.1 L489.7,410.8 L491.2,407.2 L492.7,403.3" fill="none" stroke="#1aa59a" stroke-width="1.05" stroke-linejoin="round"/>
<path d="M392.7 433.2h2v3H392.7zM398.7 433.2h0.9v3H398.7zM400.3 433.2h2v3H400.3zM403.2 433.2h1.7v3H403.2zM405.5 433.2h1.9v3H405.5zM407.8 433.2h1.4v3H407.8zM410 433.2h1.2v3H410zM412 433.2h1.9v3H412zM414.5 433.2h2.4v3H414.5zM417.4 433.2h2.6v3H417.4zM420.8 433.2h2.5v3H420.8zM424 433.2h1.2v3H424zM426.1 433.2h2.5v3H426.1zM429.5 433.2h1.5v3H429.5zM431.6 433.2h1v3H431.6zM433.2 433.2h0.9v3H433.2zM434.8 433.2h1.4v3H434.8zM437.1 433.2h1.4v3H437.1zM439.2 433.2h1v3H439.2zM441.1 433.2h2.2v3H441.1zM444.1 433.2h2.2v3H444.1zM446.9 433.2h0.9v3H446.9zM448.3 433.2h2.5v3H448.3zM451.4 433.2h2.5v3H451.4zM454.7 433.2h1.5v3H454.7zM456.9 433.2h1.1v3H456.9zM461.6 433.2h1.1v3H461.6zM466.3 433.2h1.8v3H466.3zM468.8 433.2h1.2v3H468.8zM470.4 433.2h2.1v3H470.4zM473.4 433.2h1v3H473.4zM475.3 433.2h1.6v3H475.3zM477.4 433.2h2.3v3H477.4zM480.4 433.2h1v3H480.4zM482.3 433.2h1.7v3H482.3zM484.8 433.2h2.1v3H484.8zM487.8 433.2h2.2v3H487.8zM490.6 433.2h1.2v3H490.6z" fill="#ec5a3c"/>
<path d="M404.3 436.7h1.7v3H404.3zM452.5 436.7h2.1v3H452.5zM455.1 436.7h1.6v3H455.1zM457.5 436.7h2.1v3H457.5zM460.3 436.7h1.7v3H460.3zM462.6 436.7h1.1v3H462.6zM464.3 436.7h1.2v3H464.3zM466 436.7h1.5v3H466zM468.2 436.7h1.3v3H468.2zM470.4 436.7h1.6v3H470.4zM472.6 436.7h1.1v3H472.6zM474.5 436.7h1v3H474.5zM476.2 436.7h1.8v3H476.2zM478.6 436.7h2.5v3H478.6zM481.9 436.7h2.3v3H481.9zM485 436.7h1.1v3H485zM486.8 436.7h2.5v3H486.8zM490.2 436.7h1.5v3H490.2zM492.6 436.7h1.1v3H492.6z" fill="#1fb5d6"/>
<line x1="392.7" y1="436.9" x2="494" y2="436.9" stroke="#1fb5d6" stroke-width="0.5"/>
<line x1="392.7" y1="439.4" x2="494" y2="439.4" stroke="#1fb5d6" stroke-width="0.5"/>
<line x1="391.2" y1="436.4" x2="496.2" y2="436.4" stroke="#c8c8c8" stroke-width="0.4"/>
<path d="M394.6 440.1h1.5v3H394.6zM414.8 440.1h2.5v3H414.8zM431.6 440.1h2.2v3H431.6zM436.5 440.1h2.4v3H436.5zM454 440.1h2.1v3H454zM456.8 440.1h2.2v3H456.8zM459.8 440.1h1.7v3H459.8zM462.2 440.1h1.5v3H462.2zM464.2 440.1h2.3v3H464.2zM467 440.1h2.3v3H467zM471.8 440.1h2.6v3H471.8zM475.2 440.1h2.3v3H475.2zM478.1 440.1h2.5v3H478.1zM481.3 440.1h1.4v3H481.3zM483.6 440.1h1.9v3H483.6zM486.2 440.1h2v3H486.2zM488.6 440.1h1.5v3H488.6zM493.3 440.1h0.7v3H493.3z" fill="#20a08e"/>
<line x1="392.7" y1="440.4" x2="494" y2="440.4" stroke="#20a08e" stroke-width="0.5"/>
<line x1="392.7" y1="442.9" x2="494" y2="442.9" stroke="#20a08e" stroke-width="0.5"/>
<line x1="391.2" y1="439.9" x2="496.2" y2="439.9" stroke="#c8c8c8" stroke-width="0.4"/>
<path d="M395.3 443.4h1.5v3H395.3zM397.3 443.4h1.2v3H397.3zM399.2 443.4h2.4v3H399.2zM402.3 443.4h1.3v3H402.3zM404.4 443.4h2.2v3H404.4zM407.2 443.4h1.3v3H407.2zM409.2 443.4h1.2v3H409.2zM411.1 443.4h1v3H411.1zM412.9 443.4h1.1v3H412.9zM414.8 443.4h2.4v3H414.8zM417.8 443.4h2.3v3H417.8zM422 443.4h2.1v3H422zM424.7 443.4h2.6v3H424.7zM428 443.4h1.1v3H428zM429.8 443.4h1.3v3H429.8zM431.7 443.4h1.5v3H431.7zM433.8 443.4h2.3v3H433.8zM436.9 443.4h1.6v3H436.9zM439.4 443.4h1.9v3H439.4zM442 443.4h1.6v3H442zM445.8 443.4h1.7v3H445.8zM448.3 443.4h1.7v3H448.3zM450.8 443.4h1.6v3H450.8zM453.1 443.4h1.2v3H453.1zM454.8 443.4h1.6v3H454.8zM457.2 443.4h1.3v3H457.2zM459.1 443.4h1.4v3H459.1zM461 443.4h1v3H461zM462.9 443.4h2.5v3H462.9zM466.1 443.4h1.7v3H466.1zM468.7 443.4h2v3H468.7zM471.3 443.4h2.1v3H471.3zM474 443.4h0.9v3H474zM475.5 443.4h1.6v3H475.5zM477.9 443.4h1.4v3H477.9zM480 443.4h2.1v3H480zM485 443.4h2v3H485zM487.7 443.4h0.9v3H487.7zM489 443.4h1.6v3H489zM491.1 443.4h2.6v3H491.1z" fill="#2e4e9a"/>
<line x1="391.2" y1="443.1" x2="496.2" y2="443.1" stroke="#c8c8c8" stroke-width="0.4"/>
<path d="M394.2 446.8h1.7v3H394.2zM396.8 446.8h1.3v3H396.8zM398.6 446.8h1v3H398.6zM400.2 446.8h1.4v3H400.2zM402.1 446.8h2.6v3H402.1zM405.2 446.8h1.6v3H405.2zM407.5 446.8h1.4v3H407.5zM412.6 446.8h1.3v3H412.6zM414.3 446.8h1.7v3H414.3zM419.5 446.8h1.4v3H419.5zM421.5 446.8h1.3v3H421.5zM423.3 446.8h1v3H423.3zM425.2 446.8h1.4v3H425.2zM427.1 446.8h1.3v3H427.1zM428.9 446.8h1.9v3H428.9zM431.4 446.8h2.1v3H431.4zM433.9 446.8h1.4v3H433.9zM435.9 446.8h1.6v3H435.9zM438.1 446.8h1.8v3H438.1zM440.8 446.8h2.2v3H440.8zM446.8 446.8h2.1v3H446.8zM449.7 446.8h2.3v3H449.7zM452.6 446.8h1v3H452.6zM454.1 446.8h2v3H454.1zM456.7 446.8h2.2v3H456.7zM459.6 446.8h1v3H459.6zM461.1 446.8h2.4v3H461.1zM464.4 446.8h1.3v3H464.4zM466.3 446.8h1.5v3H466.3zM468.2 446.8h2.3v3H468.2zM471.3 446.8h1.8v3H471.3zM473.6 446.8h1.7v3H473.6zM477.9 446.8h1.7v3H477.9zM480.2 446.8h2.2v3H480.2zM483.3 446.8h2.5v3H483.3zM486.5 446.8h2.3v3H486.5zM489.4 446.8h2.6v3H489.4zM492.5 446.8h1.5v3H492.5z" fill="#f3866c"/>
<line x1="391.2" y1="446.6" x2="496.2" y2="446.6" stroke="#c8c8c8" stroke-width="0.4"/>
<line x1="391.2" y1="450.1" x2="496.2" y2="450.1" stroke="#999" stroke-width="0.5"/>
<line x1="391.2" y1="453.4" x2="496.2" y2="453.4" stroke="#eeeeee" stroke-width="0.4"/>
<text x="389.9" y="454.6" font-size="3.7" font-family="'Liberation Serif',serif" fill="#444" text-anchor="end">0.4</text>
<line x1="391.2" y1="459.4" x2="496.2" y2="459.4" stroke="#eeeeee" stroke-width="0.4"/>
<text x="389.9" y="460.6" font-size="3.7" font-family="'Liberation Serif',serif" fill="#444" text-anchor="end">0.2</text>
<line x1="391.2" y1="465.5" x2="496.2" y2="465.5" stroke="#eeeeee" stroke-width="0.4"/>
<text x="389.9" y="466.7" font-size="3.7" font-family="'Liberation Serif',serif" fill="#444" text-anchor="end">0.0</text>
<line x1="391.2" y1="471.5" x2="496.2" y2="471.5" stroke="#eeeeee" stroke-width="0.4"/>
<text x="389.9" y="472.7" font-size="3.7" font-family="'Liberation Serif',serif" fill="#444" text-anchor="end">-0.2</text>
<line x1="391.2" y1="477.8" x2="496.2" y2="477.8" stroke="#eeeeee" stroke-width="0.4"/>
<text x="389.9" y="479" font-size="3.7" font-family="'Liberation Serif',serif" fill="#444" text-anchor="end">-0.4</text>
<text x="380.5" y="466" font-size="4.2" font-family="'Liberation Serif',serif" fill="#333" text-anchor="middle" transform="rotate(-90 380.5 466)">Ranked list metric</text>
<path d="M392.5,465.5 L392.5,454 C400,459.5 440,463.5 481,465.5 C488,466.5 491.5,470 494,477 L494,465.5 Z" fill="#c8c8c8"/>
<text x="393.2" y="456.3" font-size="3" font-family="'Liberation Serif',serif" fill="#222">IS<tspan font-size="1.8" dy="-1">high</tspan><tspan dy="1"> IDS</tspan><tspan font-size="1.8" dy="-1">high</tspan></text>
<text x="496" y="480" font-size="3.8" font-family="'Liberation Serif',serif" fill="#333" text-anchor="end">OTHER</text>
<line x1="393.6" y1="483.3" x2="393.6" y2="484.3" stroke="#555" stroke-width="0.4"/>
<text x="393.6" y="488.2" font-size="3.7" font-family="'Liberation Serif',serif" fill="#333" text-anchor="middle">0</text>
<line x1="407.4" y1="483.3" x2="407.4" y2="484.3" stroke="#555" stroke-width="0.4"/>
<text x="407.4" y="488.2" font-size="3.7" font-family="'Liberation Serif',serif" fill="#333" text-anchor="middle">2,000</text>
<line x1="421.2" y1="483.3" x2="421.2" y2="484.3" stroke="#555" stroke-width="0.4"/>
<text x="421.2" y="488.2" font-size="3.7" font-family="'Liberation Serif',serif" fill="#333" text-anchor="middle">4,000</text>
<line x1="435" y1="483.3" x2="435" y2="484.3" stroke="#555" stroke-width="0.4"/>
<text x="435" y="488.2" font-size="3.7" font-family="'Liberation Serif',serif" fill="#333" text-anchor="middle">6,000</text>
<line x1="448.8" y1="483.3" x2="448.8" y2="484.3" stroke="#555" stroke-width="0.4"/>
<text x="448.8" y="488.2" font-size="3.7" font-family="'Liberation Serif',serif" fill="#333" text-anchor="middle">8,000</text>
<line x1="462.6" y1="483.3" x2="462.6" y2="484.3" stroke="#555" stroke-width="0.4"/>
<text x="462.6" y="488.2" font-size="3.7" font-family="'Liberation Serif',serif" fill="#333" text-anchor="middle">10,000</text>
<line x1="476.4" y1="483.3" x2="476.4" y2="484.3" stroke="#555" stroke-width="0.4"/>
<text x="476.4" y="488.2" font-size="3.7" font-family="'Liberation Serif',serif" fill="#333" text-anchor="middle">12,000</text>
<line x1="490.2" y1="483.3" x2="490.2" y2="484.3" stroke="#555" stroke-width="0.4"/>
<text x="490.2" y="488.2" font-size="3.7" font-family="'Liberation Serif',serif" fill="#333" text-anchor="middle">14,000</text>
<text x="453.7" y="496.3" font-size="4.6" font-family="'Liberation Serif',serif" fill="#222" text-anchor="middle" textLength="38" lengthAdjust="spacingAndGlyphs">Rank in Ordered Dataset</text>
<circle cx="393.4" cy="498.1" r="0.9" fill="#f0604a"/>
<text x="395.2" y="499.6" font-size="4.3" font-family="'Liberation Serif',serif" fill="#222" text-anchor="start" textLength="75.8" lengthAdjust="spacingAndGlyphs">KRAS_SIGNALING_UP(NES=-1.8097,FDR=0.0212)</text>
<circle cx="393.4" cy="504.6" r="0.9" fill="#23b8d8"/>
<text x="395.2" y="506.1" font-size="4.3" font-family="'Liberation Serif',serif" fill="#222" text-anchor="start" textLength="99" lengthAdjust="spacingAndGlyphs">TNFA_SIGNALING_VIA_NFKB(NES=-1.9677,FDR=0.0239)</text>
<circle cx="393.4" cy="511" r="0.9" fill="#1aa59a"/>
<text x="395.2" y="512.5" font-size="4.3" font-family="'Liberation Serif',serif" fill="#222" text-anchor="start" textLength="95.4" lengthAdjust="spacingAndGlyphs">IL6_JAK_STAT3_SIGNALING(NES=-1.9876,FDR=0.0203)</text>
<circle cx="393.4" cy="517.5" r="0.9" fill="#3a5ba6"/>
<text x="395.2" y="519" font-size="4.3" font-family="'Liberation Serif',serif" fill="#222" text-anchor="start" textLength="89.3" lengthAdjust="spacingAndGlyphs">IL2_STAT5_SIGNALING(NES=-1.7744,FDR=0.0390)</text>
<circle cx="393.4" cy="523.9" r="0.9" fill="#f79a80"/>
<text x="395.2" y="525.4" font-size="4.3" font-family="'Liberation Serif',serif" fill="#222" text-anchor="start" textLength="71.1" lengthAdjust="spacingAndGlyphs">P53_PATHWAY(NES=-1.7834,FDR=0.0409)</text>
</svg></body></html>
